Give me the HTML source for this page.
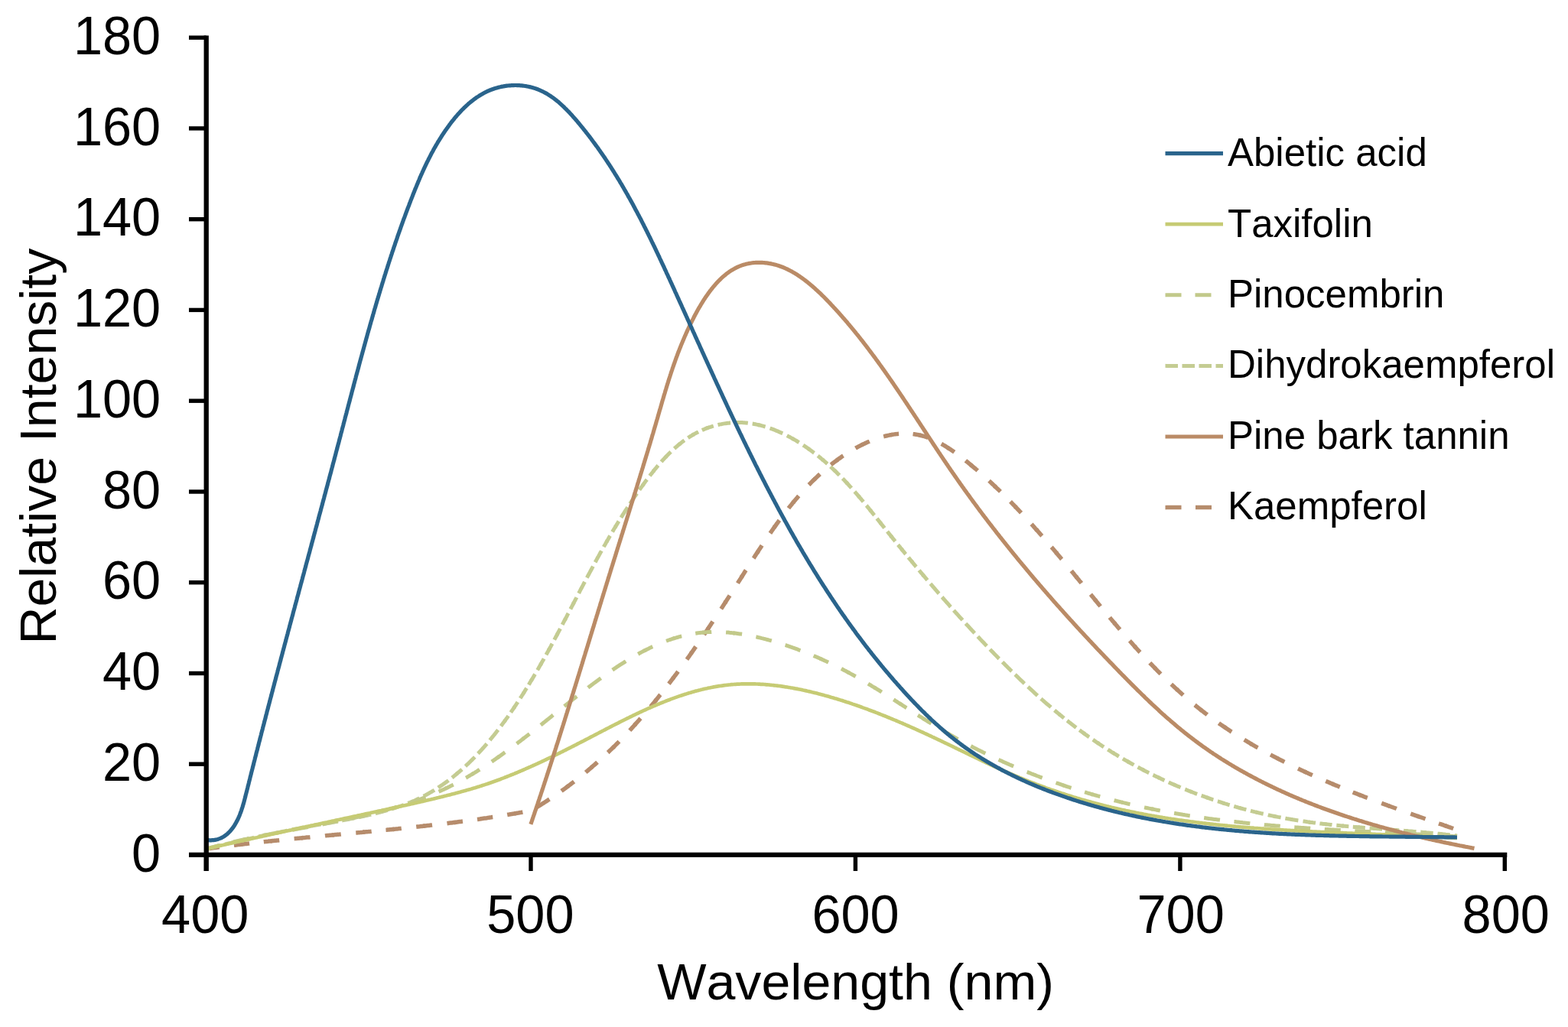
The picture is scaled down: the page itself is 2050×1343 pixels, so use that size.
<!DOCTYPE html>
<html><head><meta charset="utf-8"><title>Relative Intensity vs Wavelength</title>
<style>html,body{margin:0;padding:0;background:#fff;overflow:hidden}svg{display:block}text{font-kerning:none;font-feature-settings:"kern" 0}</style>
</head><body>
<svg width="2050" height="1343" viewBox="0 0 2050 1343"><rect x="0" y="0" width="2050" height="1343" fill="#ffffff"/>
<path d="M270.0,1110.0 271.5,1109.8 273.0,1109.6 274.5,1109.4 275.9,1109.2 277.4,1109.0 278.9,1108.8 280.4,1108.6 281.9,1108.4 283.4,1108.2 284.8,1108.0 286.3,1107.8 287.8,1107.6 289.3,1107.4 290.8,1107.2 292.3,1107.0 293.8,1106.8 295.3,1106.7 296.7,1106.5 298.2,1106.3 299.7,1106.1 301.2,1105.9 302.7,1105.7 304.2,1105.5 305.7,1105.4 307.1,1105.2 308.6,1105.0 310.1,1104.8 311.6,1104.6 313.1,1104.5 314.6,1104.3 316.1,1104.1 317.3,1104.0" style="fill:none;stroke:#b68c6c;stroke-width:5.5;stroke-linejoin:round;stroke-dasharray:20.50 19.20;stroke-dashoffset:3.50"/>
<path d="M314.9,1104.2 316.1,1104.1 317.6,1103.9 319.0,1103.8 320.5,1103.6 322.0,1103.4 323.5,1103.2 325.0,1103.1 326.5,1102.9 328.0,1102.7 329.5,1102.6 331.0,1102.4 332.4,1102.2 333.9,1102.0 335.4,1101.9 336.9,1101.7 338.4,1101.6 339.9,1101.4 341.4,1101.2 342.9,1101.1 344.4,1100.9 345.9,1100.7 347.3,1100.6 348.8,1100.4 350.3,1100.3 351.8,1100.1 353.3,1099.9 354.8,1099.8 356.0,1099.7" style="fill:none;stroke:#b68c6c;stroke-width:5.5;stroke-linejoin:round;stroke-dasharray:20.12 18.84;stroke-dashoffset:8.86"/>
<path d="M353.6,1099.9 354.8,1099.8 356.3,1099.6 357.8,1099.5 359.3,1099.3 360.8,1099.2 362.2,1099.0 363.7,1098.9 365.2,1098.7 366.7,1098.5 368.2,1098.4 369.7,1098.2 371.2,1098.1 372.7,1097.9 374.2,1097.8 375.7,1097.6 377.2,1097.5 378.7,1097.3 380.1,1097.2 381.6,1097.0 383.1,1096.9 384.6,1096.7 386.1,1096.6 387.6,1096.5 389.1,1096.3 390.6,1096.2 392.1,1096.0 393.6,1095.9 395.1,1095.7 396.3,1095.6" style="fill:none;stroke:#b68c6c;stroke-width:5.5;stroke-linejoin:round;stroke-dasharray:20.90 19.57;stroke-dashoffset:9.25"/>
<path d="M393.9,1095.8 395.1,1095.7 396.6,1095.6 398.0,1095.4 399.5,1095.3 401.0,1095.1 402.5,1095.0 404.0,1094.9 405.5,1094.7 407.0,1094.6 408.5,1094.4 410.0,1094.3 411.5,1094.2 413.0,1094.0 414.5,1093.9 416.0,1093.7 417.4,1093.6 418.9,1093.4 420.4,1093.3 421.9,1093.2 423.4,1093.0 424.9,1092.9 426.4,1092.7 427.9,1092.6 429.4,1092.5 430.9,1092.3 432.4,1092.2 433.9,1092.0 435.4,1091.9 436.6,1091.8" style="fill:none;stroke:#b68c6c;stroke-width:5.5;stroke-linejoin:round;stroke-dasharray:20.90 19.58;stroke-dashoffset:9.25"/>
<path d="M434.2,1092.0 435.4,1091.9 436.8,1091.8 438.3,1091.6 439.8,1091.5 441.3,1091.3 442.8,1091.2 444.3,1091.1 445.8,1090.9 447.3,1090.8 448.8,1090.7 450.3,1090.5 451.8,1090.4 453.3,1090.2 454.8,1090.1 456.3,1090.0 457.7,1089.8 459.2,1089.7 460.7,1089.5 462.2,1089.4 463.7,1089.3 465.2,1089.1 466.7,1089.0 468.2,1088.8 469.7,1088.7 471.2,1088.6 472.7,1088.4 474.2,1088.3 475.7,1088.1 476.8,1088.0" style="fill:none;stroke:#b68c6c;stroke-width:5.5;stroke-linejoin:round;stroke-dasharray:20.90 19.57;stroke-dashoffset:9.25"/>
<path d="M474.5,1088.2 475.7,1088.1 477.1,1088.0 478.6,1087.8 480.1,1087.7 481.6,1087.6 483.1,1087.4 484.6,1087.3 486.1,1087.1 487.6,1087.0 489.1,1086.9 490.6,1086.7 492.1,1086.6 493.6,1086.4 495.1,1086.3 496.5,1086.1 498.0,1086.0 499.5,1085.8 501.0,1085.7 502.5,1085.5 504.0,1085.4 505.5,1085.3 507.0,1085.1 508.5,1085.0 510.0,1084.8 511.5,1084.7 512.9,1084.5 514.4,1084.4 515.6,1084.2" style="fill:none;stroke:#b68c6c;stroke-width:5.5;stroke-linejoin:round;stroke-dasharray:20.12 18.85;stroke-dashoffset:8.86"/>
<path d="M513.2,1084.5 514.4,1084.4 515.9,1084.2 517.4,1084.1 518.9,1083.9 520.4,1083.8 521.9,1083.6 523.4,1083.5 524.9,1083.3 526.4,1083.1 527.9,1083.0 529.3,1082.8 530.8,1082.7 532.3,1082.5 533.8,1082.4 535.3,1082.2 536.8,1082.1 538.3,1081.9 539.8,1081.7 541.3,1081.6 542.8,1081.4 544.2,1081.3 545.7,1081.1 547.2,1080.9 548.7,1080.8 550.2,1080.6 551.7,1080.5 553.2,1080.3 554.7,1080.1 555.9,1080.0" style="fill:none;stroke:#b68c6c;stroke-width:5.5;stroke-linejoin:round;stroke-dasharray:20.89 19.56;stroke-dashoffset:9.24"/>
<path d="M553.5,1080.3 554.7,1080.1 556.2,1080.0 557.6,1079.8 559.1,1079.6 560.6,1079.5 562.1,1079.3 563.6,1079.1 565.1,1078.9 566.6,1078.8 568.1,1078.6 569.6,1078.4 571.0,1078.3 572.5,1078.1 574.0,1077.9 575.5,1077.7 577.0,1077.6 578.5,1077.4 580.0,1077.2 581.5,1077.0 582.9,1076.8 584.4,1076.7 585.9,1076.5 587.4,1076.3 588.9,1076.1 590.4,1075.9 591.9,1075.7 593.3,1075.5 594.8,1075.4 596.0,1075.2" style="fill:none;stroke:#b68c6c;stroke-width:5.5;stroke-linejoin:round;stroke-dasharray:20.88 19.56;stroke-dashoffset:9.24"/>
<path d="M593.6,1075.5 594.8,1075.4 596.3,1075.2 597.8,1075.0 599.3,1074.8 600.8,1074.6 602.3,1074.4 603.7,1074.2 605.2,1074.0 606.7,1073.8 608.2,1073.6 609.7,1073.4 611.2,1073.2 612.6,1073.0 614.1,1072.8 615.6,1072.6 617.1,1072.4 618.6,1072.2 620.1,1072.0 621.6,1071.8 623.0,1071.6 624.5,1071.4 626.0,1071.2 627.5,1071.0 629.0,1070.7 630.4,1070.5 631.9,1070.3 633.4,1070.1 634.9,1069.9 636.4,1069.7 637.9,1069.4 639.3,1069.2 640.8,1069.0 642.3,1068.8 643.8,1068.5 645.3,1068.3 646.7,1068.1 648.2,1067.9 649.7,1067.6 651.2,1067.4 652.7,1067.2 654.1,1066.9 655.6,1066.7 657.1,1066.4 658.6,1066.2 660.1,1066.0 661.5,1065.7 663.0,1065.5 664.5,1065.2 666.0,1065.0 667.4,1064.7 668.9,1064.5 670.4,1064.2 671.9,1064.0 673.4,1063.7 674.5,1063.5" style="fill:none;stroke:#b68c6c;stroke-width:5.5;stroke-linejoin:round;stroke-dasharray:20.50 19.20;stroke-dashoffset:9.05"/>
<path d="M672.2,1063.9 673.4,1063.7 674.8,1063.5 676.3,1063.2 677.8,1063.0 679.3,1062.7 680.7,1062.4 682.2,1062.2 683.7,1061.9 685.2,1061.7 686.6,1061.4 688.1,1061.1 689.6,1060.8 691.1,1060.6 692.5,1060.3 694.0,1060.0 695.4,1059.4 696.7,1058.6 698.0,1057.8 699.4,1057.0 700.7,1056.2 702.0,1055.5 703.3,1054.7 704.6,1053.9 705.9,1053.1 707.2,1052.3 708.5,1051.4 709.8,1050.6 711.1,1049.8 712.4,1049.0 713.7,1048.2 714.9,1047.4 716.2,1046.5 717.5,1045.7 718.8,1044.9 720.0,1044.0 721.3,1043.2 722.5,1042.3 723.8,1041.5 725.0,1040.6 726.3,1039.8 727.5,1038.9 728.8,1038.1 730.0,1037.2 731.3,1036.4 732.5,1035.5 733.7,1034.6 734.9,1033.7 736.2,1032.9 737.4,1032.0 738.6,1031.1 739.8,1030.2 741.0,1029.3 742.2,1028.4 743.2,1027.7" style="fill:none;stroke:#b68c6c;stroke-width:5.5;stroke-linejoin:round;stroke-dasharray:20.31 19.02;stroke-dashoffset:8.96"/>
<path d="M741.3,1029.1 742.2,1028.4 743.4,1027.5 744.6,1026.6 745.8,1025.7 747.0,1024.8 748.2,1023.9 749.4,1023.0 750.6,1022.1 751.8,1021.2 752.9,1020.3 754.1,1019.4 755.3,1018.4 756.4,1017.5 757.6,1016.6 758.8,1015.6 759.9,1014.7 761.1,1013.8 762.2,1012.8 763.4,1011.9 764.5,1010.9 765.7,1010.0 766.8,1009.0 768.0,1008.1 769.1,1007.1 770.2,1006.2 771.4,1005.2 772.5,1004.2 773.6,1003.3 774.5,1002.5" style="fill:none;stroke:#b68c6c;stroke-width:5.5;stroke-linejoin:round;stroke-dasharray:20.78 19.46;stroke-dashoffset:9.19"/>
<path d="M772.7,1004.1 773.6,1003.3 774.7,1002.3 775.8,1001.3 777.0,1000.4 778.1,999.4 779.2,998.4 780.3,997.4 781.4,996.4 782.5,995.4 783.6,994.4 784.7,993.4 785.8,992.5 786.9,991.5 788.0,990.5 789.1,989.4 790.1,988.4 791.2,987.4 792.3,986.4 793.4,985.4 794.4,984.4 795.5,983.4 796.6,982.3 797.6,981.3 798.7,980.3 799.8,979.3 800.8,978.2 801.9,977.2 802.7,976.4" style="fill:none;stroke:#b68c6c;stroke-width:5.5;stroke-linejoin:round;stroke-dasharray:19.86 18.60;stroke-dashoffset:8.73"/>
<path d="M801.0,978.0 801.9,977.2 802.9,976.2 804.0,975.1 805.0,974.1 806.1,973.0 807.1,972.0 808.2,971.0 809.2,969.9 810.2,968.9 811.3,967.8 812.3,966.7 813.3,965.7 814.3,964.6 815.4,963.6 816.4,962.5 817.4,961.4 818.4,960.4 819.4,959.3 820.5,958.2 821.5,957.1 822.5,956.1 823.5,955.0 824.5,953.9 825.5,952.8 826.5,951.7 827.5,950.6 828.5,949.5 829.5,948.4 830.5,947.3 831.3,946.5" style="fill:none;stroke:#b68c6c;stroke-width:5.5;stroke-linejoin:round;stroke-dasharray:21.34 19.99;stroke-dashoffset:9.47"/>
<path d="M829.6,948.2 830.5,947.3 831.4,946.2 832.4,945.1 833.4,944.0 834.4,942.9 835.4,941.8 836.3,940.7 837.3,939.6 838.3,938.5 839.3,937.4 840.2,936.3 841.2,935.2 842.2,934.0 843.1,932.9 844.1,931.8 845.1,930.7 846.0,929.5 847.0,928.4 847.9,927.3 848.9,926.1 849.8,925.0 850.8,923.9 851.7,922.7 852.7,921.6 853.6,920.4 854.6,919.3 855.5,918.2 856.4,917.0 857.4,915.9 858.1,914.9" style="fill:none;stroke:#b68c6c;stroke-width:5.5;stroke-linejoin:round;stroke-dasharray:21.39 20.03;stroke-dashoffset:9.50"/>
<path d="M856.6,916.8 857.4,915.9 858.3,914.7 859.2,913.6 860.2,912.4 861.1,911.2 862.0,910.1 862.9,908.9 863.9,907.8 864.8,906.6 865.7,905.4 866.6,904.3 867.5,903.1 868.5,901.9 869.4,900.8 870.3,899.6 871.2,898.4 872.1,897.2 873.0,896.1 873.9,894.9 874.8,893.7 875.7,892.5 876.6,891.3 877.5,890.1 878.4,888.9 879.3,887.8 880.2,886.6 881.0,885.6" style="fill:none;stroke:#b68c6c;stroke-width:5.5;stroke-linejoin:round;stroke-dasharray:19.19 17.97;stroke-dashoffset:8.40"/>
<path d="M879.5,887.5 880.2,886.6 881.1,885.4 882.0,884.2 882.9,883.0 883.8,881.8 884.7,880.6 885.6,879.4 886.5,878.2 887.4,877.0 888.2,875.8 889.1,874.6 890.0,873.4 890.9,872.2 891.8,871.0 892.6,869.7 893.5,868.5 894.4,867.3 895.3,866.1 896.1,864.9 897.0,863.7 897.9,862.5 898.8,861.2 899.6,860.0 900.5,858.8 901.4,857.6 902.2,856.3 903.1,855.1 903.9,853.9 904.6,852.9" style="fill:none;stroke:#b68c6c;stroke-width:5.5;stroke-linejoin:round;stroke-dasharray:20.85 19.53;stroke-dashoffset:9.23"/>
<path d="M903.3,854.9 903.9,853.9 904.8,852.7 905.7,851.4 906.5,850.2 907.4,849.0 908.2,847.7 909.1,846.5 910.0,845.3 910.8,844.0 911.7,842.8 912.5,841.5 913.4,840.3 914.2,839.1 915.1,837.8 915.9,836.6 916.8,835.3 917.6,834.1 918.5,832.8 919.3,831.6 920.2,830.3 921.0,829.1 921.9,827.8 922.7,826.6 923.5,825.3 924.4,824.1 925.2,822.8 926.1,821.6 926.7,820.6" style="fill:none;stroke:#b68c6c;stroke-width:5.5;stroke-linejoin:round;stroke-dasharray:20.22 18.93;stroke-dashoffset:8.91"/>
<path d="M925.4,822.6 926.1,821.6 926.9,820.3 927.7,819.1 928.6,817.8 929.4,816.5 930.2,815.3 931.1,814.0 931.9,812.8 932.8,811.5 933.6,810.2 934.4,809.0 935.3,807.7 936.1,806.4 936.9,805.2 937.8,803.9 938.6,802.6 939.4,801.4 940.2,800.1 941.1,798.8 941.9,797.6 942.7,796.3 943.6,795.0 944.4,793.7 945.2,792.5 946.0,791.2 946.9,789.9 947.7,788.6 948.5,787.4 949.2,786.4" style="fill:none;stroke:#b68c6c;stroke-width:5.5;stroke-linejoin:round;stroke-dasharray:21.13 19.79;stroke-dashoffset:9.37"/>
<path d="M947.9,788.4 948.5,787.4 949.3,786.1 950.2,784.8 951.0,783.5 951.8,782.3 952.6,781.0 953.5,779.7 954.3,778.4 955.1,777.1 955.9,775.9 956.8,774.6 957.6,773.3 958.4,772.0 959.2,770.7 960.1,769.4 960.9,768.2 961.7,766.9 962.5,765.6 963.3,764.3 964.2,763.0 965.0,761.7 965.8,760.4 966.6,759.2 967.5,757.9 968.3,756.6 969.1,755.3 969.9,754.0 970.6,753.0" style="fill:none;stroke:#b68c6c;stroke-width:5.5;stroke-linejoin:round;stroke-dasharray:20.47 19.17;stroke-dashoffset:9.04"/>
<path d="M969.3,755.0 969.9,754.0 970.7,752.7 971.6,751.4 972.4,750.1 973.2,748.8 974.0,747.5 974.8,746.3 975.7,745.0 976.5,743.7 977.3,742.4 978.1,741.1 979.0,739.8 979.8,738.5 980.6,737.2 981.4,735.9 982.3,734.6 983.1,733.4 983.9,732.1 984.7,730.8 985.6,729.5 986.4,728.2 987.2,726.9 988.1,725.6 988.9,724.3 989.7,723.1 990.6,721.8 991.2,720.8" style="fill:none;stroke:#b68c6c;stroke-width:5.5;stroke-linejoin:round;stroke-dasharray:19.76 18.51;stroke-dashoffset:8.68"/>
<path d="M989.9,722.8 990.6,721.8 991.4,720.5 992.2,719.2 993.1,717.9 993.9,716.7 994.8,715.4 995.6,714.1 996.4,712.8 997.3,711.6 998.1,710.3 999.0,709.0 999.8,707.7 1000.7,706.5 1001.5,705.2 1002.4,704.0 1003.2,702.7 1004.1,701.4 1005.0,700.2 1005.8,698.9 1006.7,697.7 1007.6,696.4 1008.4,695.2 1009.3,693.9 1010.2,692.7 1011.0,691.4 1011.9,690.2 1012.8,688.9 1013.5,687.9" style="fill:none;stroke:#b68c6c;stroke-width:5.5;stroke-linejoin:round;stroke-dasharray:20.49 19.19;stroke-dashoffset:9.04"/>
<path d="M1012.1,689.9 1012.8,688.9 1013.7,687.7 1014.6,686.5 1015.4,685.2 1016.3,684.0 1017.2,682.8 1018.1,681.5 1019.0,680.3 1019.9,679.1 1020.8,677.9 1021.7,676.7 1022.6,675.4 1023.5,674.2 1024.4,673.0 1025.4,671.8 1026.3,670.6 1027.2,669.4 1028.1,668.2 1029.0,667.0 1030.0,665.9 1030.9,664.7 1031.8,663.5 1032.8,662.3 1033.7,661.1 1034.7,660.0 1035.6,658.8 1036.6,657.6 1037.5,656.5 1038.3,655.6" style="fill:none;stroke:#b68c6c;stroke-width:5.5;stroke-linejoin:round;stroke-dasharray:21.07 19.73;stroke-dashoffset:9.34"/>
<path d="M1036.8,657.4 1037.5,656.5 1038.5,655.3 1039.4,654.2 1040.4,653.0 1041.4,651.9 1042.4,650.7 1043.3,649.6 1044.3,648.5 1045.3,647.3 1046.3,646.2 1047.3,645.1 1048.3,644.0 1049.3,642.9 1050.3,641.8 1051.3,640.7 1052.3,639.6 1053.3,638.5 1054.3,637.4 1055.4,636.3 1056.4,635.2 1057.4,634.1 1058.5,633.1 1059.5,632.0 1060.6,630.9 1061.6,629.9 1062.7,628.8 1063.7,627.8 1064.8,626.8 1065.7,625.9" style="fill:none;stroke:#b68c6c;stroke-width:5.5;stroke-linejoin:round;stroke-dasharray:20.84 19.52;stroke-dashoffset:9.22"/>
<path d="M1063.9,627.6 1064.8,626.8 1065.9,625.7 1066.9,624.7 1068.0,623.7 1069.1,622.6 1070.2,621.6 1071.3,620.6 1072.4,619.6 1073.5,618.6 1074.6,617.6 1075.7,616.6 1076.8,615.7 1078.0,614.7 1079.1,613.7 1080.2,612.8 1081.4,611.8 1082.5,610.9 1083.7,609.9 1084.8,609.0 1086.0,608.0 1087.2,607.1 1088.3,606.2 1089.5,605.3 1090.7,604.4 1091.9,603.5 1093.1,602.6 1094.3,601.7 1095.3,601.0" style="fill:none;stroke:#b68c6c;stroke-width:5.5;stroke-linejoin:round;stroke-dasharray:20.01 18.74;stroke-dashoffset:8.80"/>
<path d="M1093.3,602.4 1094.3,601.7 1095.5,600.8 1096.7,599.9 1097.9,599.1 1099.2,598.2 1100.4,597.3 1101.6,596.5 1102.9,595.7 1104.1,594.8 1105.4,594.0 1106.6,593.2 1107.9,592.4 1109.2,591.6 1110.4,590.8 1111.7,590.0 1113.0,589.2 1114.3,588.5 1115.6,587.7 1116.9,587.0 1118.2,586.3 1119.5,585.5 1120.8,584.8 1122.1,584.1 1123.4,583.4 1124.7,582.8 1126.0,582.1 1127.4,581.4 1128.4,580.9" style="fill:none;stroke:#b68c6c;stroke-width:5.5;stroke-linejoin:round;stroke-dasharray:20.05 18.78;stroke-dashoffset:8.82"/>
<path d="M1126.3,582.0 1127.4,581.4 1128.7,580.8 1130.0,580.2 1131.4,579.5 1132.7,578.9 1134.0,578.3 1135.4,577.7 1136.7,577.2 1138.1,576.6 1139.4,576.1 1140.8,575.5 1142.1,575.0 1143.5,574.5 1144.8,574.0 1146.2,573.6 1147.5,573.1 1148.9,572.7 1150.3,572.2 1151.6,571.8 1153.0,571.4 1154.4,571.0 1155.7,570.7 1157.1,570.3 1158.5,570.0 1159.8,569.7 1161.2,569.4 1162.6,569.1 1164.0,568.8 1165.3,568.6 1166.5,568.4" style="fill:none;stroke:#b68c6c;stroke-width:5.5;stroke-linejoin:round;stroke-dasharray:20.76 19.45;stroke-dashoffset:9.18"/>
<path d="M1164.1,568.8 1165.3,568.6 1166.7,568.3 1168.1,568.1 1169.4,567.9 1170.8,567.7 1172.2,567.6 1173.6,567.4 1174.9,567.3 1176.3,567.2 1177.7,567.1 1179.0,567.0 1180.4,567.0 1181.8,566.9 1183.1,566.9 1184.5,566.9 1185.9,567.0 1187.2,567.0 1188.6,567.1 1189.9,567.2 1191.3,567.3 1192.6,567.4 1194.0,567.6 1195.3,567.8 1196.7,568.0 1198.0,568.2 1199.4,568.4 1200.7,568.7 1202.1,569.0 1203.4,569.3 1204.6,569.6" style="fill:none;stroke:#b68c6c;stroke-width:5.5;stroke-linejoin:round;stroke-dasharray:19.81 18.55;stroke-dashoffset:8.70"/>
<path d="M1202.2,569.0 1203.4,569.3 1204.7,569.6 1206.1,570.0 1207.4,570.3 1208.7,570.7 1210.0,571.2 1211.4,571.6 1212.7,572.1 1214.0,572.5 1215.3,573.1 1216.6,573.6 1217.9,574.1 1219.2,574.7 1220.5,575.2 1221.8,575.8 1223.1,576.4 1224.4,577.1 1225.7,577.7 1226.9,578.4 1228.2,579.0 1229.5,579.7 1230.8,580.4 1232.1,581.2 1233.3,581.9 1234.6,582.6 1235.9,583.4 1237.1,584.2 1238.4,585.0 1239.6,585.8 1240.6,586.4" style="fill:none;stroke:#b68c6c;stroke-width:5.5;stroke-linejoin:round;stroke-dasharray:20.65 19.34;stroke-dashoffset:9.12"/>
<path d="M1238.6,585.1 1239.6,585.8 1240.9,586.6 1242.1,587.4 1243.4,588.2 1244.6,589.1 1245.9,589.9 1247.1,590.8 1248.3,591.7 1249.6,592.5 1250.8,593.4 1252.0,594.3 1253.2,595.3 1254.5,596.2 1255.7,597.1 1256.9,598.0 1258.1,599.0 1259.3,599.9 1260.5,600.8 1261.7,601.8 1262.9,602.8 1264.1,603.7 1265.3,604.7 1266.5,605.7 1267.7,606.6 1268.9,607.6 1270.0,608.6 1271.0,609.4" style="fill:none;stroke:#b68c6c;stroke-width:5.5;stroke-linejoin:round;stroke-dasharray:19.65 18.41;stroke-dashoffset:8.63"/>
<path d="M1269.1,607.8 1270.0,608.6 1271.2,609.6 1272.4,610.6 1273.6,611.6 1274.7,612.5 1275.9,613.5 1277.1,614.5 1278.2,615.5 1279.4,616.5 1280.5,617.5 1281.7,618.6 1282.8,619.6 1284.0,620.6 1285.1,621.6 1286.3,622.6 1287.4,623.6 1288.5,624.7 1289.7,625.7 1290.8,626.7 1291.9,627.7 1293.1,628.8 1294.2,629.8 1295.3,630.8 1296.4,631.9 1297.5,632.9 1298.7,634.0 1299.8,635.0 1300.9,636.1 1301.7,636.9" style="fill:none;stroke:#b68c6c;stroke-width:5.5;stroke-linejoin:round;stroke-dasharray:21.32 19.97;stroke-dashoffset:9.46"/>
<path d="M1300.0,635.2 1300.9,636.1 1302.0,637.1 1303.1,638.2 1304.2,639.2 1305.3,640.3 1306.4,641.3 1307.5,642.4 1308.6,643.5 1309.6,644.5 1310.7,645.6 1311.8,646.7 1312.9,647.8 1314.0,648.8 1315.0,649.9 1316.1,651.0 1317.2,652.1 1318.3,653.1 1319.3,654.2 1320.4,655.3 1321.5,656.4 1322.5,657.5 1323.6,658.6 1324.6,659.7 1325.7,660.8 1326.8,661.9 1327.8,663.0 1328.6,663.8" style="fill:none;stroke:#b68c6c;stroke-width:5.5;stroke-linejoin:round;stroke-dasharray:19.66 18.41;stroke-dashoffset:8.63"/>
<path d="M1327.0,662.1 1327.8,663.0 1328.9,664.1 1329.9,665.2 1331.0,666.3 1332.0,667.4 1333.0,668.5 1334.1,669.6 1335.1,670.7 1336.2,671.8 1337.2,672.9 1338.2,674.1 1339.3,675.2 1340.3,676.3 1341.3,677.4 1342.3,678.5 1343.4,679.7 1344.4,680.8 1345.4,681.9 1346.4,683.0 1347.5,684.2 1348.5,685.3 1349.5,686.4 1350.5,687.5 1351.5,688.7 1352.5,689.8 1353.5,691.0 1354.5,692.1 1355.5,693.2 1356.3,694.1" style="fill:none;stroke:#b68c6c;stroke-width:5.5;stroke-linejoin:round;stroke-dasharray:21.20 19.85;stroke-dashoffset:9.40"/>
<path d="M1354.8,692.3 1355.5,693.2 1356.6,694.4 1357.6,695.5 1358.6,696.7 1359.6,697.8 1360.6,698.9 1361.6,700.1 1362.6,701.2 1363.6,702.4 1364.5,703.5 1365.5,704.7 1366.5,705.8 1367.5,707.0 1368.5,708.1 1369.5,709.3 1370.5,710.4 1371.5,711.6 1372.5,712.7 1373.4,713.9 1374.4,715.1 1375.4,716.2 1376.4,717.4 1377.4,718.5 1378.4,719.7 1379.3,720.8 1380.3,722.0 1381.3,723.2 1382.1,724.1" style="fill:none;stroke:#b68c6c;stroke-width:5.5;stroke-linejoin:round;stroke-dasharray:20.39 19.10;stroke-dashoffset:9.00"/>
<path d="M1380.5,722.3 1381.3,723.2 1382.3,724.3 1383.2,725.5 1384.2,726.7 1385.2,727.8 1386.2,729.0 1387.1,730.2 1388.1,731.3 1389.1,732.5 1390.0,733.7 1391.0,734.8 1392.0,736.0 1392.9,737.2 1393.9,738.3 1394.9,739.5 1395.8,740.7 1396.8,741.8 1397.8,743.0 1398.7,744.2 1399.7,745.3 1400.7,746.5 1401.6,747.7 1402.6,748.8 1403.6,750.0 1404.5,751.2 1405.5,752.4 1406.4,753.5 1407.4,754.7 1408.2,755.6" style="fill:none;stroke:#b68c6c;stroke-width:5.5;stroke-linejoin:round;stroke-dasharray:21.14 19.80;stroke-dashoffset:9.37"/>
<path d="M1406.6,753.8 1407.4,754.7 1408.4,755.9 1409.3,757.0 1410.3,758.2 1411.2,759.4 1412.2,760.6 1413.2,761.7 1414.1,762.9 1415.1,764.1 1416.0,765.2 1417.0,766.4 1417.9,767.6 1418.9,768.8 1419.9,769.9 1420.8,771.1 1421.8,772.3 1422.7,773.4 1423.7,774.6 1424.6,775.8 1425.6,776.9 1426.6,778.1 1427.5,779.3 1428.5,780.4 1429.4,781.6 1430.4,782.8 1431.3,783.9 1432.3,785.1 1433.1,786.0" style="fill:none;stroke:#b68c6c;stroke-width:5.5;stroke-linejoin:round;stroke-dasharray:20.30 19.01;stroke-dashoffset:8.95"/>
<path d="M1431.5,784.2 1432.3,785.1 1433.3,786.3 1434.2,787.4 1435.2,788.6 1436.1,789.8 1437.1,790.9 1438.1,792.1 1439.0,793.3 1440.0,794.4 1440.9,795.6 1441.9,796.7 1442.9,797.9 1443.8,799.1 1444.8,800.2 1445.7,801.4 1446.7,802.5 1447.7,803.7 1448.6,804.8 1449.6,806.0 1450.6,807.1 1451.5,808.3 1452.5,809.5 1453.5,810.6 1454.4,811.8 1455.4,812.9 1456.4,814.0 1457.3,815.2 1458.1,816.1" style="fill:none;stroke:#b68c6c;stroke-width:5.5;stroke-linejoin:round;stroke-dasharray:20.21 18.93;stroke-dashoffset:8.90"/>
<path d="M1456.6,814.3 1457.3,815.2 1458.3,816.3 1459.3,817.5 1460.2,818.6 1461.2,819.8 1462.2,820.9 1463.2,822.1 1464.1,823.2 1465.1,824.3 1466.1,825.5 1467.1,826.6 1468.1,827.7 1469.0,828.9 1470.0,830.0 1471.0,831.1 1472.0,832.3 1473.0,833.4 1473.9,834.5 1474.9,835.6 1475.9,836.8 1476.9,837.9 1477.9,839.0 1478.9,840.1 1479.9,841.2 1480.9,842.4 1481.9,843.5 1482.8,844.6 1483.8,845.7 1484.6,846.6" style="fill:none;stroke:#b68c6c;stroke-width:5.5;stroke-linejoin:round;stroke-dasharray:20.87 19.54;stroke-dashoffset:9.23"/>
<path d="M1483.0,844.8 1483.8,845.7 1484.8,846.8 1485.8,847.9 1486.8,849.0 1487.8,850.1 1488.8,851.2 1489.8,852.3 1490.9,853.4 1491.9,854.5 1492.9,855.6 1493.9,856.7 1494.9,857.8 1495.9,858.9 1496.9,860.0 1497.9,861.1 1498.9,862.2 1500.0,863.3 1501.0,864.3 1502.0,865.4 1503.0,866.5 1504.0,867.6 1505.1,868.6 1506.1,869.7 1507.1,870.8 1508.2,871.8 1509.2,872.9 1510.2,874.0 1511.1,874.8" style="fill:none;stroke:#b68c6c;stroke-width:5.5;stroke-linejoin:round;stroke-dasharray:19.97 18.71;stroke-dashoffset:8.79"/>
<path d="M1509.4,873.1 1510.2,874.0 1511.3,875.0 1512.3,876.1 1513.3,877.2 1514.4,878.2 1515.4,879.3 1516.5,880.3 1517.5,881.4 1518.6,882.4 1519.6,883.5 1520.7,884.5 1521.7,885.5 1522.8,886.6 1523.8,887.6 1524.9,888.6 1526.0,889.7 1527.0,890.7 1528.1,891.7 1529.2,892.7 1530.2,893.8 1531.3,894.8 1532.4,895.8 1533.5,896.8 1534.6,897.8 1535.6,898.8 1536.7,899.8 1537.8,900.8 1538.9,901.8 1539.8,902.6" style="fill:none;stroke:#b68c6c;stroke-width:5.5;stroke-linejoin:round;stroke-dasharray:20.64 19.33;stroke-dashoffset:9.12"/>
<path d="M1538.0,901.0 1538.9,901.8 1540.0,902.8 1541.1,903.8 1542.2,904.8 1543.3,905.8 1544.4,906.8 1545.5,907.8 1546.6,908.7 1547.7,909.7 1548.8,910.7 1549.9,911.7 1551.0,912.6 1552.2,913.6 1553.3,914.6 1554.4,915.5 1555.5,916.5 1556.7,917.4 1557.8,918.4 1558.9,919.3 1560.1,920.3 1561.2,921.2 1562.4,922.1 1563.5,923.1 1564.6,924.0 1565.8,924.9 1566.9,925.9 1568.1,926.8 1569.3,927.7 1570.4,928.6 1571.4,929.4" style="fill:none;stroke:#b68c6c;stroke-width:5.5;stroke-linejoin:round;stroke-dasharray:21.37 20.01;stroke-dashoffset:9.48"/>
<path d="M1569.5,927.9 1570.4,928.6 1571.6,929.5 1572.8,930.4 1573.9,931.3 1575.1,932.2 1576.3,933.1 1577.5,934.0 1578.6,934.9 1579.8,935.8 1581.0,936.7 1582.2,937.6 1583.4,938.5 1584.6,939.3 1585.8,940.2 1587.0,941.1 1588.2,942.0 1589.4,942.8 1590.6,943.7 1591.8,944.5 1593.0,945.4 1594.2,946.3 1595.5,947.1 1596.7,948.0 1597.9,948.8 1599.1,949.6 1600.4,950.5 1601.6,951.3 1602.6,952.0" style="fill:none;stroke:#b68c6c;stroke-width:5.5;stroke-linejoin:round;stroke-dasharray:19.91 18.65;stroke-dashoffset:8.76"/>
<path d="M1600.6,950.6 1601.6,951.3 1602.8,952.1 1604.1,953.0 1605.3,953.8 1606.5,954.6 1607.8,955.4 1609.0,956.3 1610.3,957.1 1611.5,957.9 1612.8,958.7 1614.0,959.5 1615.3,960.3 1616.6,961.1 1617.8,961.9 1619.1,962.7 1620.4,963.5 1621.6,964.3 1622.9,965.1 1624.2,965.8 1625.4,966.6 1626.7,967.4 1628.0,968.2 1629.3,968.9 1630.6,969.7 1631.8,970.5 1633.1,971.2 1634.4,972.0 1635.7,972.8 1636.7,973.4" style="fill:none;stroke:#b68c6c;stroke-width:5.5;stroke-linejoin:round;stroke-dasharray:20.81 19.49;stroke-dashoffset:9.21"/>
<path d="M1634.7,972.2 1635.7,972.8 1637.0,973.5 1638.3,974.3 1639.6,975.0 1640.9,975.8 1642.2,976.5 1643.5,977.3 1644.8,978.0 1646.1,978.7 1647.4,979.5 1648.7,980.2 1650.0,980.9 1651.4,981.7 1652.7,982.4 1654.0,983.1 1655.3,983.8 1656.6,984.6 1658.0,985.3 1659.3,986.0 1660.6,986.7 1661.9,987.4 1663.3,988.1 1664.6,988.8 1665.9,989.5 1667.3,990.2 1668.6,990.9 1669.9,991.6 1671.0,992.2" style="fill:none;stroke:#b68c6c;stroke-width:5.5;stroke-linejoin:round;stroke-dasharray:20.18 18.90;stroke-dashoffset:8.89"/>
<path d="M1668.9,991.1 1669.9,991.6 1671.3,992.3 1672.6,993.0 1674.0,993.7 1675.3,994.4 1676.7,995.0 1678.0,995.7 1679.4,996.4 1680.7,997.1 1682.1,997.8 1683.4,998.4 1684.8,999.1 1686.1,999.8 1687.5,1000.4 1688.8,1001.1 1690.2,1001.8 1691.6,1002.4 1692.9,1003.1 1694.3,1003.7 1695.7,1004.4 1697.0,1005.0 1698.4,1005.7 1699.8,1006.3 1701.1,1007.0 1702.5,1007.6 1703.9,1008.3 1705.2,1008.9 1706.6,1009.5 1707.7,1010.0" style="fill:none;stroke:#b68c6c;stroke-width:5.5;stroke-linejoin:round;stroke-dasharray:21.08 19.74;stroke-dashoffset:9.34"/>
<path d="M1705.5,1009.0 1706.6,1009.5 1708.0,1010.2 1709.4,1010.8 1710.7,1011.4 1712.1,1012.1 1713.5,1012.7 1714.9,1013.3 1716.3,1013.9 1717.7,1014.5 1719.0,1015.2 1720.4,1015.8 1721.8,1016.4 1723.2,1017.0 1724.6,1017.6 1726.0,1018.2 1727.4,1018.8 1728.8,1019.4 1730.2,1020.1 1731.5,1020.7 1732.9,1021.3 1734.3,1021.9 1735.7,1022.4 1737.1,1023.0 1738.5,1023.6 1739.9,1024.2 1741.3,1024.8 1742.7,1025.4 1743.8,1025.9" style="fill:none;stroke:#b68c6c;stroke-width:5.5;stroke-linejoin:round;stroke-dasharray:20.37 19.07;stroke-dashoffset:8.98"/>
<path d="M1741.6,1024.9 1742.7,1025.4 1744.1,1026.0 1745.5,1026.6 1746.9,1027.2 1748.3,1027.7 1749.7,1028.3 1751.1,1028.9 1752.5,1029.5 1753.9,1030.1 1755.3,1030.6 1756.7,1031.2 1758.1,1031.8 1759.6,1032.3 1761.0,1032.9 1762.4,1033.5 1763.8,1034.0 1765.2,1034.6 1766.6,1035.2 1768.0,1035.7 1769.4,1036.3 1770.8,1036.8 1772.2,1037.4 1773.6,1037.9 1775.1,1038.5 1776.5,1039.1 1777.9,1039.6 1779.0,1040.0" style="fill:none;stroke:#b68c6c;stroke-width:5.5;stroke-linejoin:round;stroke-dasharray:19.58 18.34;stroke-dashoffset:8.59"/>
<path d="M1776.8,1039.2 1777.9,1039.6 1779.3,1040.2 1780.7,1040.7 1782.1,1041.2 1783.5,1041.8 1784.9,1042.3 1786.4,1042.9 1787.8,1043.4 1789.2,1044.0 1790.6,1044.5 1792.0,1045.0 1793.4,1045.6 1794.8,1046.1 1796.3,1046.6 1797.7,1047.2 1799.1,1047.7 1800.5,1048.2 1801.9,1048.7 1803.3,1049.3 1804.7,1049.8 1806.2,1050.3 1807.6,1050.8 1809.0,1051.4 1810.4,1051.9 1811.8,1052.4 1813.2,1052.9 1814.7,1053.5 1816.1,1054.0 1817.2,1054.4" style="fill:none;stroke:#b68c6c;stroke-width:5.5;stroke-linejoin:round;stroke-dasharray:21.07 19.73;stroke-dashoffset:9.33"/>
<path d="M1814.9,1053.6 1816.1,1054.0 1817.5,1054.5 1818.9,1055.0 1820.3,1055.5 1821.7,1056.0 1823.1,1056.5 1824.6,1057.0 1826.0,1057.6 1827.4,1058.1 1828.8,1058.6 1830.2,1059.1 1831.6,1059.6 1833.0,1060.1 1834.4,1060.6 1835.8,1061.1 1837.3,1061.6 1838.7,1062.1 1840.1,1062.6 1841.5,1063.1 1842.9,1063.6 1844.3,1064.1 1845.7,1064.6 1847.1,1065.1 1848.5,1065.6 1849.9,1066.1 1851.3,1066.6 1852.7,1067.1 1854.2,1067.6 1855.3,1068.0" style="fill:none;stroke:#b68c6c;stroke-width:5.5;stroke-linejoin:round;stroke-dasharray:20.88 19.56;stroke-dashoffset:9.24"/>
<path d="M1853.0,1067.2 1854.2,1067.6 1855.6,1068.1 1857.0,1068.5 1858.4,1069.0 1859.8,1069.5 1861.2,1070.0 1862.6,1070.5 1864.0,1071.0 1865.4,1071.5 1866.8,1072.0 1868.2,1072.4 1869.6,1072.9 1871.0,1073.4 1872.4,1073.9 1873.8,1074.4 1875.1,1074.9 1876.5,1075.3 1877.9,1075.8 1879.3,1076.3 1880.7,1076.8 1882.1,1077.3 1883.5,1077.7 1884.9,1078.2 1886.3,1078.7 1887.7,1079.2 1889.0,1079.7 1890.4,1080.1 1891.6,1080.5" style="fill:none;stroke:#b68c6c;stroke-width:5.5;stroke-linejoin:round;stroke-dasharray:19.83 18.57;stroke-dashoffset:8.71"/>
<path d="M1889.3,1079.7 1890.4,1080.1 1891.8,1080.6 1893.2,1081.1 1894.6,1081.6 1896.0,1082.0 1897.3,1082.5 1898.7,1083.0 1900.1,1083.5 1901.5,1083.9" style="fill:none;stroke:#b68c6c;stroke-width:5.5;stroke-linejoin:round;stroke-dasharray:20.50 19.20;stroke-dashoffset:9.05"/>
<path d="M270.0,1110.0 271.5,1109.6 273.0,1109.3 274.4,1108.9 275.9,1108.5 277.4,1108.1 278.9,1107.8 280.3,1107.4 281.8,1107.0 283.3,1106.7 284.7,1106.3 286.2,1106.0 287.7,1105.6 289.1,1105.2 290.6,1104.9 292.1,1104.5 293.5,1104.2 295.0,1103.8 296.5,1103.5 297.9,1103.1 299.4,1102.8 300.8,1102.4 302.3,1102.1 303.8,1101.7 305.2,1101.4 306.7,1101.1 308.1,1100.7 309.6,1100.4 311.0,1100.0 312.5,1099.7 313.9,1099.4 315.4,1099.0 316.9,1098.7 318.3,1098.4 319.8,1098.0 321.2,1097.7 322.7,1097.4 324.1,1097.1 325.6,1096.7 327.0,1096.4 328.5,1096.1 329.9,1095.8 331.4,1095.4 332.8,1095.1 334.3,1094.8 335.7,1094.5 337.2,1094.2 338.6,1093.9 340.1,1093.5 341.5,1093.2 343.0,1092.9 344.4,1092.6 345.9,1092.3 347.3,1092.0 348.8,1091.7 350.2,1091.4 351.7,1091.1 353.1,1090.8 354.6,1090.5 356.0,1090.2 357.5,1089.9 358.9,1089.6 360.4,1089.3 361.9,1089.0 363.3,1088.7 364.8,1088.4 366.2,1088.1 367.7,1087.8 369.1,1087.5 370.6,1087.2 372.0,1086.9 373.5,1086.6 374.9,1086.3 376.4,1086.0 377.9,1085.7 379.3,1085.5 380.8,1085.2 382.2,1084.9 383.7,1084.6 385.2,1084.3 386.6,1084.0 388.1,1083.7 389.6,1083.5 391.0,1083.2 392.5,1082.9 394.0,1082.6 395.4,1082.3 396.9,1082.1 398.4,1081.8 399.8,1081.5 401.3,1081.2 402.8,1081.0 404.3,1080.7 405.7,1080.4 407.2,1080.1 408.7,1079.9 410.2,1079.6 411.6,1079.3 413.1,1079.0 414.6,1078.8 416.1,1078.5 417.6,1078.2 419.1,1078.0 420.5,1077.7 422.0,1077.4 423.5,1077.2 425.0,1076.9 426.5,1076.6 428.0,1076.4 429.5,1076.1 431.0,1075.8 432.5,1075.6 434.0,1075.3 435.5,1075.0 437.0,1074.8 438.5,1074.5 440.0,1074.2 441.5,1074.0 443.0,1073.7 444.5,1073.4 446.0,1073.1 447.5,1072.9 449.0,1072.6 450.5,1072.3 452.0,1072.0 453.5,1071.7 455.0,1071.5 456.5,1071.2 458.0,1070.9 459.5,1070.6 461.0,1070.3 462.4,1070.0 463.9,1069.7 465.4,1069.4 466.9,1069.1 468.4,1068.8 469.9,1068.5 471.4,1068.2 472.9,1067.9 474.4,1067.5 475.9,1067.2 477.4,1066.9 478.8,1066.6 480.3,1066.2 481.8,1065.9 483.3,1065.6 484.8,1065.2 486.2,1064.9 487.7,1064.5 489.2,1064.2 490.7,1063.8 492.1,1063.4 493.6,1063.1 495.1,1062.7 496.5,1062.3 498.0,1061.9 499.4,1061.5 500.9,1061.1 502.4,1060.7 503.8,1060.3 505.2,1059.9 506.7,1059.5 508.1,1059.1 509.6,1058.7 511.0,1058.2 512.4,1057.8 513.9,1057.3 515.3,1056.9 516.7,1056.4 518.1,1056.0 519.6,1055.5 521.0,1055.0 522.4,1054.5 523.8,1054.0 525.2,1053.5 526.6,1053.0 528.0,1052.5 529.4,1052.0 530.7,1051.5 532.1,1050.9 533.5,1050.4 534.9,1049.8 536.2,1049.3 537.6,1048.7 539.0,1048.1 540.3,1047.6 541.7,1047.0 543.0,1046.4 544.4,1045.7 545.7,1045.1 547.0,1044.5 548.4,1043.9 549.7,1043.2 551.0,1042.6 552.3,1041.9 553.6,1041.2 554.9,1040.6 556.2,1039.9 557.5,1039.2 558.8,1038.5 560.1,1037.8 561.3,1037.0 562.6,1036.3 563.9,1035.6 565.1,1034.8 566.4,1034.1 567.7,1033.3 568.9,1032.5 570.1,1031.7 571.4,1031.0 572.6,1030.2 573.8,1029.3 575.1,1028.5 576.3,1027.7 577.5,1026.9 578.7,1026.1 579.9,1025.2 581.1,1024.4 582.3,1023.5 583.5,1022.6 584.7,1021.8 585.9,1020.9 587.0,1020.0 588.2,1019.1 589.4,1018.2 590.6,1017.3 591.7,1016.4 592.9,1015.5 594.0,1014.5 595.2,1013.6 596.3,1012.6 597.4,1011.7 598.4,1010.9" style="fill:none;stroke:#c4cc92;stroke-width:5;stroke-linejoin:round;stroke-dasharray:16.50 5.80;stroke-dashoffset:19.56"/>
<path d="M596.5,1012.5 597.4,1011.7 598.6,1010.7 599.7,1009.8 600.8,1008.8 601.9,1007.8 603.1,1006.9 604.2,1005.9 605.3,1004.9 606.4,1003.9 607.5,1002.9 608.6,1001.9 609.7,1000.8 610.7,999.8 611.8,998.8 612.9,997.8 614.0,996.7 615.0,995.7 616.1,994.6 617.2,993.6 618.2,992.5 619.3,991.4 620.3,990.4 621.4,989.3 622.4,988.2 623.4,987.1 624.5,986.0 625.5,984.9 626.5,983.8 627.5,982.7 628.6,981.6 629.6,980.5 630.6,979.3 631.6,978.2 632.6,977.1 633.6,976.0 634.6,974.8 635.6,973.7 636.6,972.5 637.5,971.4 638.5,970.2 639.5,969.1 640.5,967.9 641.4,966.7 642.4,965.5 643.3,964.4 644.3,963.2 645.3,962.0 646.2,960.8 647.2,959.6 648.1,958.4 649.0,957.2 650.0,956.0 650.9,954.8 651.8,953.6 652.8,952.4 653.7,951.2 654.6,950.0 655.5,948.8 656.4,947.5 657.3,946.3 658.2,945.1 659.1,943.9 660.0,942.6 660.7,941.6" style="fill:none;stroke:#c4cc92;stroke-width:5;stroke-linejoin:round;stroke-dasharray:17.29 6.08;stroke-dashoffset:7.44"/>
<path d="M659.3,943.6 660.0,942.6 660.9,941.4 661.8,940.1 662.7,938.9 663.6,937.7 664.5,936.4 665.3,935.2 666.2,933.9 667.1,932.7 668.0,931.4 668.8,930.2 669.7,928.9 670.6,927.6 671.4,926.4 672.3,925.1 672.9,924.1" style="fill:none;stroke:#c4cc92;stroke-width:5;stroke-linejoin:round;stroke-dasharray:15.81 5.56;stroke-dashoffset:6.70"/>
<path d="M671.6,926.1 672.3,925.1 673.1,923.8 674.0,922.6 674.8,921.3 675.6,920.0 676.5,918.8 677.3,917.5 678.2,916.2 679.0,914.9 679.8,913.7 680.6,912.4 681.5,911.1 682.3,909.8 683.1,908.5 683.9,907.3 684.7,906.0 685.3,905.0" style="fill:none;stroke:#c4cc92;stroke-width:5;stroke-linejoin:round;stroke-dasharray:16.88 5.93;stroke-dashoffset:7.24"/>
<path d="M684.1,907.0 684.7,906.0 685.5,904.7 686.3,903.4 687.1,902.1 687.9,900.8 688.7,899.6 689.5,898.3 690.3,897.0 691.1,895.7 691.9,894.4 692.7,893.1 693.4,891.8 694.2,890.5 695.0,889.2 695.6,888.2" style="fill:none;stroke:#c4cc92;stroke-width:5;stroke-linejoin:round;stroke-dasharray:14.53 5.11;stroke-dashoffset:6.07"/>
<path d="M694.4,890.3 695.0,889.2 695.8,888.0 696.5,886.7 697.3,885.4 698.1,884.1 698.8,882.8 699.6,881.5 700.4,880.2 701.1,878.9 701.9,877.6 702.6,876.3 703.4,875.0 704.1,873.7 704.9,872.4 705.6,871.1 706.4,869.8 707.1,868.5 707.7,867.5" style="fill:none;stroke:#c4cc92;stroke-width:5;stroke-linejoin:round;stroke-dasharray:17.77 6.24;stroke-dashoffset:7.68"/>
<path d="M706.5,869.6 707.1,868.5 707.8,867.2 708.6,865.9 709.3,864.6 710.1,863.3 710.8,862.0 711.5,860.7 712.2,859.4 713.0,858.1 713.7,856.8 714.4,855.5 715.1,854.2 715.9,852.9 716.6,851.6 717.3,850.3 718.0,849.0 718.6,847.9" style="fill:none;stroke:#c4cc92;stroke-width:5;stroke-linejoin:round;stroke-dasharray:16.56 5.82;stroke-dashoffset:7.08"/>
<path d="M717.4,850.0 718.0,849.0 718.7,847.7 719.5,846.4 720.2,845.1 720.9,843.7 721.6,842.4 722.3,841.1 723.0,839.8 723.7,838.5 724.4,837.2 725.1,835.9 725.8,834.6 726.5,833.3 727.2,832.0 727.9,830.7 728.6,829.4 729.2,828.3" style="fill:none;stroke:#c4cc92;stroke-width:5;stroke-linejoin:round;stroke-dasharray:16.50 5.80;stroke-dashoffset:7.05"/>
<path d="M728.1,830.4 728.6,829.4 729.3,828.0 730.0,826.7 730.7,825.4 731.4,824.1 732.1,822.8 732.8,821.5 733.5,820.2 734.2,818.9 734.9,817.6 735.6,816.2 736.2,814.9 736.9,813.6 737.6,812.3 738.3,811.0 739.0,809.7 739.6,808.6" style="fill:none;stroke:#c4cc92;stroke-width:5;stroke-linejoin:round;stroke-dasharray:16.45 5.78;stroke-dashoffset:7.03"/>
<path d="M738.4,810.8 739.0,809.7 739.7,808.4 740.4,807.1 741.1,805.8 741.7,804.4 742.4,803.1 743.1,801.8 743.8,800.5 744.5,799.2 745.2,797.9 745.8,796.6 746.5,795.3 747.2,793.9 747.9,792.6 748.6,791.3 749.3,790.0 749.9,788.7 750.5,787.6" style="fill:none;stroke:#c4cc92;stroke-width:5;stroke-linejoin:round;stroke-dasharray:17.52 6.16;stroke-dashoffset:7.56"/>
<path d="M749.4,789.8 749.9,788.7 750.6,787.4 751.3,786.1 752.0,784.8 752.7,783.4 753.4,782.1 754.0,780.8 754.7,779.5 755.4,778.2 756.1,776.9 756.8,775.6 757.5,774.3 758.1,773.0 758.8,771.6 759.5,770.3 760.2,769.0 760.9,767.7 761.6,766.4 762.3,765.1 763.0,763.8 763.6,762.5 764.3,761.2 765.0,759.9 765.7,758.5 766.4,757.2 767.1,755.9 767.8,754.6 768.5,753.3 769.2,752.0 769.9,750.7 770.6,749.4 771.3,748.1 772.0,746.8 772.7,745.5 773.4,744.2 774.1,742.9 774.8,741.6 775.5,740.3 776.2,738.9 776.9,737.6 777.6,736.3 778.3,735.0 779.0,733.7 779.7,732.4 780.4,731.1 781.1,729.8 781.8,728.5 782.6,727.2 783.3,725.9 784.0,724.6 784.7,723.3 785.4,722.0 786.2,720.7 786.9,719.4 787.6,718.1 788.3,716.8 789.1,715.5 789.8,714.2 790.5,713.0 791.3,711.7 792.0,710.4 792.7,709.1 793.5,707.8 794.1,706.7" style="fill:none;stroke:#c4cc92;stroke-width:5;stroke-linejoin:round;stroke-dasharray:17.00 5.98;stroke-dashoffset:7.30"/>
<path d="M792.9,708.8 793.5,707.8 794.2,706.5 795.0,705.2 795.7,703.9 796.5,702.6 797.2,701.3 798.0,700.0 798.7,698.7 799.5,697.5 800.2,696.2 801.0,694.9 801.8,693.6 802.5,692.3 803.3,691.0 804.1,689.7 804.8,688.5 805.5,687.4" style="fill:none;stroke:#c4cc92;stroke-width:5;stroke-linejoin:round;stroke-dasharray:16.58 5.83;stroke-dashoffset:7.09"/>
<path d="M804.2,689.5 804.8,688.5 805.6,687.2 806.4,685.9 807.2,684.6 808.0,683.3 808.7,682.1 809.5,680.8 810.3,679.5 811.1,678.2 811.9,676.9 812.7,675.7 813.5,674.4 814.3,673.1 815.1,671.8 815.9,670.6 816.7,669.3 817.5,668.0 818.4,666.8 819.2,665.5 820.0,664.2 820.8,663.0 821.6,661.7 822.5,660.4 823.3,659.2 824.1,657.9 825.0,656.6 825.8,655.4 826.7,654.1 827.5,652.9 828.4,651.6 829.2,650.3 830.1,649.1 831.0,647.8 831.8,646.6 832.7,645.3 833.6,644.1 834.4,642.8 835.3,641.6 836.2,640.3 837.1,639.1 838.0,637.8 838.9,636.6 839.8,635.3 840.7,634.1 841.4,633.1" style="fill:none;stroke:#c4cc92;stroke-width:5;stroke-linejoin:round;stroke-dasharray:16.07 5.65;stroke-dashoffset:6.84"/>
<path d="M840.0,635.0 840.7,634.1 841.6,632.8 842.5,631.6 843.4,630.3 844.3,629.1 845.2,627.9 846.2,626.6 847.1,625.4 848.0,624.2 849.0,622.9 849.9,621.7 850.8,620.5 851.8,619.3 852.8,618.1 853.7,616.9 854.7,615.6 855.4,614.7" style="fill:none;stroke:#c4cc92;stroke-width:5;stroke-linejoin:round;stroke-dasharray:17.12 6.02;stroke-dashoffset:7.36"/>
<path d="M853.9,616.6 854.7,615.6 855.6,614.4 856.6,613.3 857.6,612.1 858.6,610.9 859.6,609.7 860.6,608.5 861.6,607.4 862.6,606.2 863.6,605.0 864.6,603.9 865.6,602.7 866.6,601.6 867.7,600.5 868.7,599.4 869.7,598.3 870.8,597.2 871.6,596.3" style="fill:none;stroke:#c4cc92;stroke-width:5;stroke-linejoin:round;stroke-dasharray:18.15 6.38;stroke-dashoffset:7.87"/>
<path d="M869.9,598.0 870.8,597.2 871.8,596.1 872.9,595.0 873.9,593.9 875.0,592.8 876.1,591.8 877.2,590.7 878.3,589.7 879.4,588.6 880.5,587.6 881.6,586.6 882.7,585.6 883.8,584.6 884.9,583.7 886.1,582.7 887.2,581.7 888.4,580.8 889.3,580.0" style="fill:none;stroke:#c4cc92;stroke-width:5;stroke-linejoin:round;stroke-dasharray:17.78 6.25;stroke-dashoffset:7.69"/>
<path d="M887.4,581.6 888.4,580.8 889.5,579.9 890.7,579.0 891.8,578.0 893.0,577.2 894.2,576.3 895.4,575.4 896.6,574.6 897.8,573.7 899.0,572.9 900.2,572.1 901.4,571.3 902.7,570.5 903.9,569.8 905.2,569.0 906.4,568.3 907.5,567.7" style="fill:none;stroke:#c4cc92;stroke-width:5;stroke-linejoin:round;stroke-dasharray:16.29 5.72;stroke-dashoffset:6.94"/>
<path d="M905.4,568.9 906.4,568.3 907.7,567.6 909.0,566.9 910.2,566.2 911.5,565.5 912.8,564.9 914.1,564.2 915.4,563.6 916.8,563.0 918.1,562.4 919.4,561.8 920.8,561.3 922.1,560.7 923.4,560.2 924.8,559.7 925.9,559.3" style="fill:none;stroke:#c4cc92;stroke-width:5;stroke-linejoin:round;stroke-dasharray:15.02 5.28;stroke-dashoffset:6.31"/>
<path d="M923.7,560.1 924.8,559.7 926.2,559.2 927.5,558.7 928.9,558.3 930.3,557.8 931.7,557.4 933.0,557.0 934.4,556.6 935.8,556.3 937.2,555.9 938.6,555.6 940.0,555.2 941.5,554.9 942.9,554.7 944.3,554.4 945.7,554.1 947.1,553.9 948.6,553.7 950.0,553.5 951.4,553.3 952.9,553.2 954.3,553.0 955.7,552.9 957.2,552.8 958.6,552.7 960.1,552.6 961.5,552.6 963.0,552.5 964.4,552.5 965.9,552.5 967.3,552.5 968.8,552.6 970.2,552.6 971.7,552.7 973.1,552.8 974.6,552.9 976.0,553.0 977.5,553.2 978.9,553.4 980.4,553.6 981.8,553.8 983.3,554.0 984.7,554.2 986.2,554.5 987.6,554.8 989.1,555.1 990.5,555.4 991.9,555.7 993.1,556.0" style="fill:none;stroke:#c4cc92;stroke-width:5;stroke-linejoin:round;stroke-dasharray:16.83 5.92;stroke-dashoffset:7.21"/>
<path d="M990.8,555.4 991.9,555.7 993.4,556.0 994.8,556.4 996.3,556.8 997.7,557.2 999.1,557.6 1000.6,558.0 1002.0,558.4 1003.4,558.9 1004.8,559.4 1006.3,559.9 1007.7,560.4 1009.1,560.9 1010.5,561.4 1011.9,561.9 1013.3,562.5 1014.7,563.1 1016.1,563.7 1017.5,564.2 1018.9,564.9 1020.3,565.5 1021.7,566.1 1023.1,566.8 1024.5,567.4 1025.9,568.1 1027.2,568.8 1028.6,569.5 1030.0,570.2 1031.3,570.9 1032.7,571.6 1034.1,572.4 1035.4,573.1 1036.7,573.9 1037.8,574.5" style="fill:none;stroke:#c4cc92;stroke-width:5;stroke-linejoin:round;stroke-dasharray:17.95 6.31;stroke-dashoffset:7.77"/>
<path d="M1035.7,573.3 1036.7,573.9 1038.1,574.6 1039.4,575.4 1040.8,576.2 1042.1,577.0 1043.4,577.8 1044.7,578.6 1046.0,579.5 1047.3,580.3 1048.7,581.1 1049.9,582.0 1051.2,582.9 1052.5,583.7 1053.8,584.6 1055.1,585.5 1056.4,586.4 1057.6,587.3 1058.6,588.0" style="fill:none;stroke:#c4cc92;stroke-width:5;stroke-linejoin:round;stroke-dasharray:18.36 6.45;stroke-dashoffset:7.98"/>
<path d="M1056.6,586.6 1057.6,587.3 1058.9,588.2 1060.1,589.1 1061.4,590.0 1062.6,590.9 1063.8,591.9 1065.1,592.8 1066.3,593.7 1067.5,594.7 1068.7,595.6 1069.9,596.6 1071.1,597.5 1072.3,598.5 1073.5,599.5 1074.6,600.5 1075.8,601.4 1076.7,602.2" style="fill:none;stroke:#c4cc92;stroke-width:5;stroke-linejoin:round;stroke-dasharray:17.07 6.00;stroke-dashoffset:7.33"/>
<path d="M1074.9,600.7 1075.8,601.4 1077.0,602.4 1078.1,603.4 1079.3,604.4 1080.4,605.4 1081.5,606.4 1082.7,607.4 1083.8,608.4 1084.9,609.4 1086.0,610.5 1087.1,611.5 1088.2,612.5 1089.3,613.6 1090.4,614.6 1091.5,615.6 1092.4,616.5" style="fill:none;stroke:#c4cc92;stroke-width:5;stroke-linejoin:round;stroke-dasharray:15.67 5.51;stroke-dashoffset:6.64"/>
<path d="M1090.7,614.8 1091.5,615.6 1092.6,616.7 1093.7,617.7 1094.7,618.8 1095.8,619.8 1096.9,620.9 1097.9,622.0 1099.0,623.0 1100.0,624.1 1101.1,625.2 1102.1,626.2 1103.2,627.3 1104.2,628.4 1105.2,629.5 1106.2,630.6 1107.3,631.7 1108.1,632.5" style="fill:none;stroke:#c4cc92;stroke-width:5;stroke-linejoin:round;stroke-dasharray:16.62 5.84;stroke-dashoffset:7.11"/>
<path d="M1106.4,630.8 1107.3,631.7 1108.3,632.8 1109.3,633.9 1110.3,635.0 1111.3,636.1 1112.3,637.2 1113.3,638.3 1114.3,639.4 1115.3,640.5 1116.3,641.6 1117.2,642.7 1118.2,643.8 1119.2,645.0 1120.2,646.1 1121.1,647.2 1122.1,648.3 1123.1,649.5 1123.9,650.4" style="fill:none;stroke:#c4cc92;stroke-width:5;stroke-linejoin:round;stroke-dasharray:17.64 6.20;stroke-dashoffset:7.62"/>
<path d="M1122.3,648.6 1123.1,649.5 1124.0,650.6 1125.0,651.7 1126.0,652.9 1126.9,654.0 1127.9,655.2 1128.8,656.3 1129.8,657.4 1130.7,658.6 1131.7,659.7 1132.6,660.9 1133.6,662.0 1134.5,663.2 1135.5,664.3 1136.4,665.5 1137.3,666.6 1138.3,667.8 1139.0,668.7" style="fill:none;stroke:#c4cc92;stroke-width:5;stroke-linejoin:round;stroke-dasharray:17.60 6.19;stroke-dashoffset:7.60"/>
<path d="M1137.5,666.9 1138.3,667.8 1139.2,668.9 1140.1,670.1 1141.1,671.3 1142.0,672.4 1142.9,673.6 1143.9,674.7 1144.8,675.9 1145.7,677.1 1146.6,678.2 1147.6,679.4 1148.5,680.5 1149.4,681.7 1150.4,682.9 1151.3,684.0 1152.0,685.0" style="fill:none;stroke:#c4cc92;stroke-width:5;stroke-linejoin:round;stroke-dasharray:15.40 5.41;stroke-dashoffset:6.50"/>
<path d="M1150.5,683.1 1151.3,684.0 1152.2,685.2 1153.1,686.4 1154.1,687.5 1155.0,688.7 1155.9,689.8 1156.8,691.0 1157.8,692.2 1158.7,693.3 1159.6,694.5 1160.6,695.7 1161.5,696.8 1162.4,698.0 1163.4,699.1 1164.3,700.3 1165.2,701.5 1166.0,702.4" style="fill:none;stroke:#c4cc92;stroke-width:5;stroke-linejoin:round;stroke-dasharray:16.51 5.80;stroke-dashoffset:7.06"/>
<path d="M1164.5,700.5 1165.2,701.5 1166.2,702.6 1167.1,703.8 1168.0,704.9 1169.0,706.1 1169.9,707.3 1170.8,708.4 1171.8,709.6 1172.7,710.7 1173.6,711.9 1174.6,713.0 1175.5,714.2 1176.5,715.3 1177.4,716.5 1178.4,717.7 1179.3,718.8 1180.1,719.7" style="fill:none;stroke:#c4cc92;stroke-width:5;stroke-linejoin:round;stroke-dasharray:16.53 5.81;stroke-dashoffset:7.06"/>
<path d="M1178.5,717.9 1179.3,718.8 1180.2,720.0 1181.2,721.1 1182.1,722.3 1183.1,723.4 1184.0,724.6 1185.0,725.7 1185.9,726.9 1186.9,728.0 1187.8,729.2 1188.8,730.3 1189.7,731.5 1190.7,732.6 1191.6,733.8 1192.6,734.9 1193.3,735.8" style="fill:none;stroke:#c4cc92;stroke-width:5;stroke-linejoin:round;stroke-dasharray:15.44 5.43;stroke-dashoffset:6.52"/>
<path d="M1191.8,734.0 1192.6,734.9 1193.5,736.1 1194.5,737.2 1195.4,738.4 1196.4,739.5 1197.3,740.7 1198.3,741.8 1199.2,742.9 1200.2,744.1 1201.2,745.2 1202.1,746.4 1203.1,747.5 1204.0,748.7 1205.0,749.8 1206.0,750.9 1206.9,752.1 1207.7,753.0" style="fill:none;stroke:#c4cc92;stroke-width:5;stroke-linejoin:round;stroke-dasharray:16.56 5.82;stroke-dashoffset:7.08"/>
<path d="M1206.2,751.2 1206.9,752.1 1207.9,753.2 1208.9,754.4 1209.8,755.5 1210.8,756.6 1211.8,757.8 1212.7,758.9 1213.7,760.1 1214.7,761.2 1215.6,762.3 1216.6,763.5 1217.6,764.6 1218.6,765.7 1219.5,766.9 1220.5,768.0 1221.5,769.1 1222.4,770.3 1223.4,771.4 1224.4,772.5 1225.4,773.7 1226.4,774.8 1227.3,775.9 1228.3,777.0 1229.3,778.2 1230.3,779.3 1231.3,780.4 1232.3,781.5 1233.2,782.7 1234.2,783.8 1235.2,784.9 1236.2,786.0 1237.2,787.2 1238.2,788.3 1239.2,789.4 1240.2,790.5 1241.2,791.7 1242.1,792.8 1243.1,793.9 1244.1,795.0 1245.1,796.1 1246.1,797.2 1247.1,798.4 1248.1,799.5 1249.1,800.6 1250.1,801.7 1251.1,802.8 1252.1,803.9 1253.1,805.0 1254.1,806.2 1255.1,807.3 1256.2,808.4 1257.2,809.5 1258.2,810.6 1259.2,811.7 1260.2,812.8 1261.2,813.9 1262.2,815.0 1263.2,816.1 1264.2,817.2 1265.3,818.3 1266.3,819.4 1267.3,820.5 1268.3,821.6 1269.3,822.7 1270.3,823.8 1271.4,824.9 1272.4,826.0 1273.4,827.1 1274.4,828.2 1275.5,829.3 1276.5,830.4 1277.5,831.5 1278.5,832.6 1279.6,833.7 1280.6,834.8 1281.6,835.9 1282.7,837.0 1283.7,838.1 1284.7,839.2 1285.8,840.2 1286.8,841.3 1287.8,842.4 1288.9,843.5 1289.9,844.6 1291.0,845.7 1292.0,846.8 1293.0,847.8 1294.1,848.9 1295.1,850.0 1296.2,851.1 1297.2,852.2 1298.3,853.2 1299.3,854.3 1300.4,855.4 1301.4,856.5 1302.5,857.5 1303.5,858.6 1304.6,859.7 1305.6,860.8 1306.7,861.8 1307.8,862.9 1308.8,864.0 1309.9,865.0 1310.9,866.1 1312.0,867.2 1313.1,868.2 1314.1,869.3 1315.2,870.4 1316.3,871.4 1317.3,872.5 1318.4,873.6 1319.5,874.6 1320.6,875.7 1321.6,876.7 1322.7,877.8 1323.8,878.8 1324.9,879.9 1325.9,880.9 1327.0,882.0 1328.1,883.0 1329.2,884.1 1330.3,885.1 1331.4,886.2 1332.4,887.2 1333.5,888.3 1334.6,889.3 1335.7,890.3 1336.8,891.4 1337.9,892.4 1339.0,893.5 1340.1,894.5 1341.2,895.5 1342.3,896.6 1343.4,897.6 1344.5,898.6 1345.6,899.6 1346.7,900.7 1347.8,901.7 1348.9,902.7 1350.0,903.7 1351.1,904.7 1352.3,905.8 1353.4,906.8 1354.5,907.8 1355.6,908.8 1356.7,909.8 1357.8,910.8 1359.0,911.8 1360.1,912.8 1361.2,913.8 1362.3,914.8 1363.5,915.8 1364.6,916.8 1365.7,917.8 1366.9,918.8 1368.0,919.8 1369.1,920.8 1370.3,921.7 1371.4,922.7 1372.6,923.7 1373.7,924.7 1374.8,925.7 1376.0,926.6 1377.1,927.6 1378.3,928.6 1379.4,929.5 1380.6,930.5 1381.8,931.5 1382.9,932.4 1384.1,933.4 1385.2,934.3 1386.2,935.1" style="fill:none;stroke:#c4cc92;stroke-width:5;stroke-linejoin:round;stroke-dasharray:17.17 6.04;stroke-dashoffset:7.39"/>
<path d="M1384.3,933.6 1385.2,934.3 1386.4,935.3 1387.6,936.2 1388.7,937.2 1389.9,938.1 1391.1,939.1 1392.2,940.0 1393.4,940.9 1394.6,941.9 1395.8,942.8 1396.9,943.7 1398.1,944.7 1399.3,945.6 1400.5,946.5 1401.7,947.4 1402.9,948.3 1404.1,949.3 1405.3,950.2 1406.4,951.1 1407.6,952.0 1408.8,952.9 1410.0,953.8 1411.2,954.7 1412.5,955.6 1413.7,956.5 1414.9,957.3 1416.1,958.2 1417.3,959.1 1418.3,959.8" style="fill:none;stroke:#c4cc92;stroke-width:5;stroke-linejoin:round;stroke-dasharray:14.99 5.27;stroke-dashoffset:6.29"/>
<path d="M1416.3,958.4 1417.3,959.1 1418.5,960.0 1419.7,960.9 1420.9,961.7 1422.2,962.6 1423.4,963.5 1424.6,964.3 1425.8,965.2 1427.1,966.0 1428.3,966.9 1429.5,967.7 1430.8,968.6 1432.0,969.4 1433.2,970.3 1434.5,971.1 1435.7,971.9 1436.7,972.6" style="fill:none;stroke:#c4cc92;stroke-width:5;stroke-linejoin:round;stroke-dasharray:16.62 5.84;stroke-dashoffset:7.11"/>
<path d="M1434.7,971.3 1435.7,971.9 1437.0,972.8 1438.2,973.6 1439.5,974.4 1440.7,975.3 1442.0,976.1 1443.2,976.9 1444.5,977.7 1445.7,978.5 1447.0,979.3 1448.3,980.1 1449.5,980.9 1450.8,981.7 1452.1,982.5 1453.3,983.3 1454.6,984.1 1455.9,984.9 1456.9,985.5" style="fill:none;stroke:#c4cc92;stroke-width:5;stroke-linejoin:round;stroke-dasharray:17.72 6.23;stroke-dashoffset:7.66"/>
<path d="M1454.8,984.2 1455.9,984.9 1457.1,985.7 1458.4,986.4 1459.7,987.2 1461.0,988.0 1462.3,988.8 1463.5,989.5 1464.8,990.3 1466.1,991.1 1467.4,991.8 1468.7,992.6 1470.0,993.3 1471.3,994.1 1472.6,994.8 1473.9,995.5 1475.2,996.3 1476.2,996.9" style="fill:none;stroke:#c4cc92;stroke-width:5;stroke-linejoin:round;stroke-dasharray:16.60 5.83;stroke-dashoffset:7.10"/>
<path d="M1474.1,995.7 1475.2,996.3 1476.5,997.0 1477.8,997.8 1479.1,998.5 1480.4,999.2 1481.7,999.9 1483.0,1000.7 1484.3,1001.4 1485.6,1002.1 1487.0,1002.8 1488.3,1003.5 1489.6,1004.2 1490.9,1004.9 1492.2,1005.6 1493.6,1006.3 1494.9,1007.0 1496.0,1007.5" style="fill:none;stroke:#c4cc92;stroke-width:5;stroke-linejoin:round;stroke-dasharray:16.59 5.83;stroke-dashoffset:7.10"/>
<path d="M1493.8,1006.4 1494.9,1007.0 1496.2,1007.7 1497.5,1008.4 1498.9,1009.1 1500.2,1009.7 1501.5,1010.4 1502.9,1011.1 1504.2,1011.7 1505.5,1012.4 1506.9,1013.1 1508.2,1013.7 1509.6,1014.4 1510.9,1015.1 1512.3,1015.7 1513.6,1016.3 1515.0,1017.0 1516.0,1017.5" style="fill:none;stroke:#c4cc92;stroke-width:5;stroke-linejoin:round;stroke-dasharray:16.59 5.83;stroke-dashoffset:7.09"/>
<path d="M1513.9,1016.5 1515.0,1017.0 1516.3,1017.6 1517.7,1018.3 1519.0,1018.9 1520.4,1019.5 1521.7,1020.2 1523.1,1020.8 1524.4,1021.4 1525.8,1022.0 1527.2,1022.7 1528.5,1023.3 1529.9,1023.9 1531.2,1024.5 1532.6,1025.1 1534.0,1025.7 1535.4,1026.3 1536.5,1026.8" style="fill:none;stroke:#c4cc92;stroke-width:5;stroke-linejoin:round;stroke-dasharray:16.59 5.83;stroke-dashoffset:7.09"/>
<path d="M1534.3,1025.8 1535.4,1026.3 1536.7,1026.9 1538.1,1027.5 1539.5,1028.1 1540.9,1028.6 1542.2,1029.2 1543.6,1029.8 1545.0,1030.4 1546.4,1031.0 1547.8,1031.5 1549.1,1032.1 1550.5,1032.6 1551.9,1033.2 1553.3,1033.8 1554.7,1034.3 1556.1,1034.9 1557.5,1035.4 1558.6,1035.8" style="fill:none;stroke:#c4cc92;stroke-width:5;stroke-linejoin:round;stroke-dasharray:17.70 6.22;stroke-dashoffset:7.65"/>
<path d="M1556.3,1035.0 1557.5,1035.4 1558.9,1036.0 1560.3,1036.5 1561.6,1037.0 1563.0,1037.6 1564.4,1038.1 1565.8,1038.6 1567.2,1039.1 1568.6,1039.7 1570.0,1040.2 1571.5,1040.7 1572.9,1041.2 1574.3,1041.7 1575.7,1042.2 1577.1,1042.7 1578.5,1043.2 1579.6,1043.6" style="fill:none;stroke:#c4cc92;stroke-width:5;stroke-linejoin:round;stroke-dasharray:16.60 5.83;stroke-dashoffset:7.10"/>
<path d="M1577.4,1042.8 1578.5,1043.2 1579.9,1043.7 1581.3,1044.2 1582.7,1044.7 1584.1,1045.2 1585.6,1045.7 1587.0,1046.1 1588.4,1046.6 1589.8,1047.1 1591.2,1047.6 1592.7,1048.0 1594.1,1048.5 1595.5,1048.9 1596.9,1049.4 1598.4,1049.9 1599.8,1050.3 1600.9,1050.7" style="fill:none;stroke:#c4cc92;stroke-width:5;stroke-linejoin:round;stroke-dasharray:16.60 5.84;stroke-dashoffset:7.10"/>
<path d="M1598.6,1049.9 1599.8,1050.3 1601.2,1050.8 1602.6,1051.2 1604.1,1051.6 1605.5,1052.1 1606.9,1052.5 1608.4,1052.9 1609.8,1053.4 1611.2,1053.8 1612.7,1054.2 1614.1,1054.6 1615.5,1055.0 1617.0,1055.5 1618.4,1055.9 1619.9,1056.3 1621.3,1056.7 1622.5,1057.0" style="fill:none;stroke:#c4cc92;stroke-width:5;stroke-linejoin:round;stroke-dasharray:16.61 5.84;stroke-dashoffset:7.11"/>
<path d="M1620.2,1056.3 1621.3,1056.7 1622.8,1057.1 1624.2,1057.5 1625.6,1057.9 1627.1,1058.2 1628.5,1058.6 1630.0,1059.0 1631.4,1059.4 1632.9,1059.8 1634.3,1060.1 1635.8,1060.5 1637.2,1060.9 1638.7,1061.2 1640.1,1061.6 1641.6,1061.9 1643.1,1062.3 1644.2,1062.6" style="fill:none;stroke:#c4cc92;stroke-width:5;stroke-linejoin:round;stroke-dasharray:16.62 5.84;stroke-dashoffset:7.11"/>
<path d="M1641.9,1062.0 1643.1,1062.3 1644.5,1062.6 1646.0,1063.0 1647.4,1063.3 1648.9,1063.7 1650.3,1064.0 1651.8,1064.3 1653.3,1064.7 1654.7,1065.0 1656.2,1065.3 1657.7,1065.6 1659.1,1066.0 1660.6,1066.3 1662.1,1066.6 1663.5,1066.9 1665.0,1067.2 1666.5,1067.5 1667.6,1067.7" style="fill:none;stroke:#c4cc92;stroke-width:5;stroke-linejoin:round;stroke-dasharray:17.74 6.24;stroke-dashoffset:7.67"/>
<path d="M1665.3,1067.2 1666.5,1067.5 1667.9,1067.8 1669.4,1068.1 1670.9,1068.4 1672.3,1068.6 1673.8,1068.9 1675.3,1069.2 1676.8,1069.5 1678.2,1069.8 1679.7,1070.0 1681.2,1070.3 1682.7,1070.6 1684.1,1070.8 1685.6,1071.1 1687.1,1071.3 1688.6,1071.6 1689.8,1071.8" style="fill:none;stroke:#c4cc92;stroke-width:5;stroke-linejoin:round;stroke-dasharray:16.64 5.85;stroke-dashoffset:7.12"/>
<path d="M1687.4,1071.4 1688.6,1071.6 1690.0,1071.8 1691.5,1072.1 1693.0,1072.3 1694.5,1072.6 1696.0,1072.8 1697.5,1073.0 1698.9,1073.2 1700.4,1073.5 1701.9,1073.7 1703.4,1073.9 1704.9,1074.1 1706.4,1074.3 1707.8,1074.5 1709.3,1074.8 1710.8,1075.0 1712.3,1075.2 1713.5,1075.3" style="fill:none;stroke:#c4cc92;stroke-width:5;stroke-linejoin:round;stroke-dasharray:17.76 6.24;stroke-dashoffset:7.68"/>
<path d="M1711.1,1075.0 1712.3,1075.2 1713.8,1075.4 1715.3,1075.6 1716.8,1075.8 1718.3,1075.9 1719.8,1076.1 1721.2,1076.3 1722.7,1076.5 1724.2,1076.7 1725.7,1076.9 1727.2,1077.0 1728.7,1077.2 1730.2,1077.4 1731.7,1077.6 1733.2,1077.7 1734.4,1077.9" style="fill:none;stroke:#c4cc92;stroke-width:5;stroke-linejoin:round;stroke-dasharray:15.56 5.47;stroke-dashoffset:6.58"/>
<path d="M1732.0,1077.6 1733.2,1077.7 1734.7,1077.9 1736.2,1078.1 1737.7,1078.2 1739.2,1078.4 1740.6,1078.5 1742.1,1078.7 1743.6,1078.8 1745.1,1079.0 1746.6,1079.2 1748.1,1079.3 1749.6,1079.4 1751.1,1079.6 1752.6,1079.7 1754.1,1079.9 1755.6,1080.0 1756.8,1080.1" style="fill:none;stroke:#c4cc92;stroke-width:5;stroke-linejoin:round;stroke-dasharray:16.69 5.87;stroke-dashoffset:7.14"/>
<path d="M1754.4,1079.9 1755.6,1080.0 1757.1,1080.2 1758.6,1080.3 1760.1,1080.4 1761.6,1080.6 1763.1,1080.7 1764.6,1080.8 1766.1,1081.0 1767.6,1081.1 1769.1,1081.2 1770.6,1081.4 1772.1,1081.5 1773.6,1081.6 1775.1,1081.7 1776.6,1081.8 1777.8,1081.9" style="fill:none;stroke:#c4cc92;stroke-width:5;stroke-linejoin:round;stroke-dasharray:15.59 5.48;stroke-dashoffset:6.59"/>
<path d="M1775.4,1081.8 1776.6,1081.8 1778.1,1082.0 1779.6,1082.1 1781.1,1082.2 1782.6,1082.3 1784.1,1082.5 1785.6,1082.6 1787.1,1082.7 1788.6,1082.8 1790.1,1082.9 1791.6,1083.0 1793.1,1083.1 1794.6,1083.3 1796.1,1083.4 1797.6,1083.5 1799.1,1083.6 1800.6,1083.7 1802.1,1083.8 1803.6,1083.9 1805.1,1084.1 1806.6,1084.2 1808.1,1084.3 1809.6,1084.4 1811.1,1084.5 1812.6,1084.6 1814.1,1084.7 1815.6,1084.8 1817.1,1084.9 1818.6,1085.0 1820.1,1085.2 1821.6,1085.3 1823.1,1085.4 1824.6,1085.5 1826.1,1085.6 1827.6,1085.7 1829.1,1085.8 1830.6,1085.9 1832.1,1086.1 1833.6,1086.2 1835.1,1086.3 1836.6,1086.4 1838.1,1086.5 1839.6,1086.6 1841.1,1086.8 1842.6,1086.9 1844.1,1087.0 1845.6,1087.1 1847.0,1087.2 1848.5,1087.4 1850.0,1087.5 1851.5,1087.6 1853.0,1087.7 1854.5,1087.8 1856.0,1088.0 1857.5,1088.1 1859.0,1088.2 1860.5,1088.4 1862.0,1088.5 1863.5,1088.6 1865.0,1088.8 1866.4,1088.9 1867.9,1089.0 1869.4,1089.2 1870.9,1089.3 1872.4,1089.5 1873.9,1089.6 1875.4,1089.7 1876.9,1089.9 1878.3,1090.0 1879.8,1090.2 1881.3,1090.3 1882.8,1090.5 1884.3,1090.6 1885.8,1090.8 1887.2,1091.0 1888.7,1091.1 1890.2,1091.3 1891.7,1091.4 1893.2,1091.6 1894.7,1091.8 1896.1,1092.0 1897.6,1092.1 1899.1,1092.3 1900.6,1092.5 1902.0,1092.7 1903.5,1092.8 1905.0,1093.0" style="fill:none;stroke:#c4cc92;stroke-width:5;stroke-linejoin:round;stroke-dasharray:16.50 5.80;stroke-dashoffset:7.05"/>
<path d="M270.0,1110.0 271.4,1109.6 272.8,1109.2 274.2,1108.8 275.7,1108.4 277.1,1108.0 278.5,1107.6 279.9,1107.3 281.3,1106.9 282.7,1106.5 284.1,1106.1 285.5,1105.7 287.0,1105.4 288.4,1105.0 289.8,1104.6 291.2,1104.3 292.7,1103.9 294.1,1103.5 295.5,1103.2 297.0,1102.8 298.4,1102.5 299.8,1102.1 301.3,1101.8 302.7,1101.4 304.1,1101.1 305.6,1100.8 307.0,1100.4 308.5,1100.1 309.9,1099.8 311.4,1099.4 312.8,1099.1 314.3,1098.8 315.7,1098.4 317.2,1098.1 318.6,1097.8 320.1,1097.5 321.6,1097.2 323.0,1096.9 324.5,1096.5 325.9,1096.2 327.4,1095.9 328.9,1095.6 330.3,1095.3 331.8,1095.0 333.3,1094.7 334.7,1094.4 336.2,1094.1 337.7,1093.8 339.1,1093.5 340.6,1093.2 342.1,1092.9 343.6,1092.6 345.0,1092.3 346.5,1092.0 348.0,1091.7 349.5,1091.4 351.0,1091.1 352.4,1090.9 353.9,1090.6 355.4,1090.3 356.9,1090.0 358.4,1089.7 359.9,1089.4 361.3,1089.2 362.8,1088.9 364.3,1088.6 365.8,1088.3 367.3,1088.0 368.8,1087.7 370.3,1087.5 371.8,1087.2 373.3,1086.9 374.7,1086.6 376.2,1086.4 377.7,1086.1 379.2,1085.8 380.7,1085.5 382.2,1085.3 383.7,1085.0 385.2,1084.7 386.7,1084.4 388.2,1084.1 389.7,1083.9 391.2,1083.6 392.7,1083.3 394.2,1083.0 395.7,1082.8 397.2,1082.5 398.7,1082.2 400.1,1081.9 401.6,1081.7 403.1,1081.4 404.6,1081.1 406.1,1080.8 407.6,1080.5 409.1,1080.3 410.6,1080.0 412.1,1079.7 413.6,1079.4 415.1,1079.1 416.6,1078.9 418.1,1078.6 419.6,1078.3 421.1,1078.0 422.6,1077.7 424.1,1077.4 425.6,1077.2 427.1,1076.9 428.6,1076.6 430.1,1076.3 431.6,1076.0 433.0,1075.7 434.5,1075.4 436.0,1075.1 437.5,1074.8 439.0,1074.5 440.5,1074.2 442.0,1073.9 443.5,1073.6 445.0,1073.3 446.5,1073.0 448.0,1072.7 449.4,1072.4 450.9,1072.1 452.4,1071.8 453.9,1071.5 455.4,1071.1 456.9,1070.8 458.3,1070.5 459.8,1070.2 461.3,1069.9 462.8,1069.5 464.3,1069.2 465.8,1068.9 467.2,1068.6 468.7,1068.2 470.2,1067.9 471.7,1067.6 473.1,1067.2 474.6,1066.9 476.1,1066.5 477.6,1066.2 479.0,1065.8 480.5,1065.5 482.0,1065.1 483.4,1064.8 484.9,1064.4 486.4,1064.1 487.8,1063.7 489.3,1063.3 490.7,1063.0 492.2,1062.6 493.7,1062.2 495.1,1061.9 496.6,1061.5 498.0,1061.1 499.5,1060.7 500.9,1060.3 502.4,1059.9 503.8,1059.5 505.3,1059.1 506.7,1058.7 508.2,1058.3 509.6,1057.9 511.0,1057.5 512.5,1057.1 513.9,1056.7 515.4,1056.3 516.8,1055.9 518.2,1055.4 519.7,1055.0 521.1,1054.6 522.5,1054.1 523.9,1053.7 525.4,1053.2 526.8,1052.8 528.2,1052.3 529.6,1051.9 531.0,1051.4 532.5,1051.0 533.9,1050.5 535.3,1050.0 536.7,1049.6 538.1,1049.1 539.5,1048.6 540.9,1048.1 542.3,1047.6 543.7,1047.1 545.1,1046.6 546.5,1046.1 547.9,1045.6 549.3,1045.1 550.7,1044.6 552.0,1044.1 553.4,1043.5 554.8,1043.0 556.2,1042.5 557.6,1041.9 558.9,1041.4 560.3,1040.8 561.7,1040.3 563.0,1039.7 564.4,1039.2 565.8,1038.6 567.1,1038.0 568.5,1037.5 569.8,1036.9 571.2,1036.3 572.5,1035.7 573.9,1035.1 575.2,1034.5 576.6,1033.9 577.9,1033.3 579.2,1032.7 580.6,1032.1 581.9,1031.4 583.2,1030.8 584.3,1030.3" style="fill:none;stroke:#c2c98a;stroke-width:5;stroke-linejoin:round;stroke-dasharray:21.00 18.60;stroke-dashoffset:3.48"/>
<path d="M582.2,1031.3 583.2,1030.8 584.6,1030.2 585.9,1029.5 587.2,1028.9 588.5,1028.2 589.8,1027.6 591.1,1026.9 592.5,1026.2 593.8,1025.6 595.1,1024.9 596.4,1024.2 597.7,1023.5 599.0,1022.8 600.3,1022.1 601.5,1021.4 602.8,1020.7 604.1,1020.0 605.4,1019.3 606.7,1018.6 608.0,1017.8 609.3,1017.1 610.5,1016.4 611.8,1015.6 613.1,1014.9 614.3,1014.1 615.6,1013.4 616.9,1012.6 618.1,1011.9 619.2,1011.3" style="fill:none;stroke:#c2c98a;stroke-width:5;stroke-linejoin:round;stroke-dasharray:21.06 18.65;stroke-dashoffset:9.33"/>
<path d="M617.1,1012.5 618.1,1011.9 619.4,1011.1 620.7,1010.4 621.9,1009.6 623.2,1008.8 624.4,1008.0 625.7,1007.2 626.9,1006.5 628.2,1005.7 629.4,1004.9 630.7,1004.1 631.9,1003.3 633.1,1002.5 634.4,1001.7 635.6,1000.9 636.9,1000.0 638.1,999.2 639.3,998.4 640.6,997.6 641.8,996.7 643.0,995.9 644.2,995.1 645.5,994.2 646.7,993.4 647.9,992.6 649.1,991.7 650.3,990.9 651.6,990.0 652.5,989.3" style="fill:none;stroke:#c2c98a;stroke-width:5;stroke-linejoin:round;stroke-dasharray:21.19 18.77;stroke-dashoffset:9.40"/>
<path d="M650.6,990.7 651.6,990.0 652.8,989.1 654.0,988.3 655.2,987.4 656.4,986.6 657.6,985.7 658.8,984.8 660.1,983.9 661.3,983.1 662.5,982.2 663.7,981.3 664.9,980.4 666.1,979.5 667.3,978.7 668.5,977.8 669.7,976.9 670.9,976.0 672.1,975.1 673.3,974.2 674.5,973.3 675.7,972.4 676.9,971.5 678.1,970.6 679.3,969.7 680.5,968.8 681.7,967.8 682.9,966.9 684.0,966.0 685.0,965.3" style="fill:none;stroke:#c2c98a;stroke-width:5;stroke-linejoin:round;stroke-dasharray:21.42 18.97;stroke-dashoffset:9.51"/>
<path d="M683.1,966.7 684.0,966.0 685.2,965.1 686.4,964.2 687.6,963.3 688.8,962.3 690.0,961.4 691.2,960.5 692.4,959.6 693.6,958.6 694.8,957.7 695.9,956.8 697.1,955.8 698.3,954.9 699.5,954.0 700.7,953.0 701.9,952.1 703.1,951.2 704.3,950.2 705.4,949.3 706.6,948.3 707.8,947.4 709.0,946.5 710.2,945.5 711.4,944.6 712.6,943.6 713.7,942.7 714.9,941.7 716.1,940.8 717.3,939.8 718.5,938.9 719.7,937.9 720.9,937.0 722.0,936.0 723.2,935.1 724.4,934.1 725.6,933.2 726.8,932.3 728.0,931.3 729.2,930.4 730.4,929.4 731.6,928.5 732.7,927.5 733.9,926.6 735.1,925.6 736.3,924.7 737.5,923.7 738.7,922.8 739.9,921.8 741.1,920.9 742.3,919.9 743.5,919.0 744.7,918.0 745.9,917.1 747.1,916.1 748.3,915.2 749.5,914.2 750.7,913.3 751.9,912.4 753.1,911.4 754.3,910.5 755.5,909.5 756.7,908.6 757.9,907.7 759.1,906.7 760.3,905.8 761.5,904.9 762.7,903.9 764.0,903.0 765.2,902.1 766.4,901.1 767.6,900.2 768.8,899.3 770.0,898.3 771.3,897.4 772.5,896.5 773.7,895.6 774.9,894.7 776.1,893.7 777.4,892.8 778.6,891.9 779.8,891.0 781.1,890.1 782.3,889.2 783.5,888.3 784.8,887.4 786.0,886.5 787.2,885.6 788.5,884.7 789.7,883.8 791.0,882.9 792.2,882.0 793.5,881.1 794.7,880.3 796.0,879.4 797.2,878.5 798.5,877.7 799.7,876.8 801.0,875.9 802.2,875.1 803.5,874.2 804.8,873.4 806.0,872.5 807.3,871.7 808.5,870.9 809.8,870.0 811.1,869.2 812.4,868.4 813.6,867.6 814.9,866.8 816.2,866.0 817.5,865.2 818.7,864.4 820.0,863.6 821.3,862.8 822.6,862.0 823.9,861.2 825.2,860.5 826.5,859.7 827.8,858.9 829.1,858.2 830.4,857.4 831.7,856.7 833.0,856.0 834.3,855.3 835.6,854.5 836.9,853.8 838.2,853.1 839.5,852.4 840.8,851.7 842.1,851.0 843.5,850.4 844.5,849.8" style="fill:none;stroke:#c2c98a;stroke-width:5;stroke-linejoin:round;stroke-dasharray:20.92 18.53;stroke-dashoffset:9.26"/>
<path d="M842.4,850.9 843.5,850.4 844.8,849.7 846.1,849.0 847.4,848.4 848.8,847.7 850.1,847.1 851.4,846.5 852.7,845.8 854.1,845.2 855.4,844.6 856.8,844.0 858.1,843.4 859.4,842.8 860.8,842.3 862.1,841.7 863.5,841.1 864.9,840.6 866.2,840.0 867.6,839.5 868.9,839.0 870.3,838.5 871.7,838.0 873.0,837.5 874.4,837.0 875.8,836.5 877.1,836.1 878.5,835.6 879.9,835.2 881.3,834.7 882.4,834.4" style="fill:none;stroke:#c2c98a;stroke-width:5;stroke-linejoin:round;stroke-dasharray:21.74 19.25;stroke-dashoffset:9.67"/>
<path d="M880.1,835.1 881.3,834.7 882.7,834.3 884.1,833.9 885.5,833.5 886.8,833.1 888.2,832.7 889.6,832.3 891.0,831.9 892.4,831.6 893.8,831.2 895.3,830.9 896.7,830.6 898.1,830.3 899.5,830.0 900.9,829.7 902.3,829.4 903.8,829.2 905.2,828.9 906.6,828.7 908.1,828.4 909.5,828.2 910.9,828.0 912.4,827.8 913.8,827.6 915.3,827.5 916.7,827.3 918.2,827.2 919.6,827.0 920.8,826.9" style="fill:none;stroke:#c2c98a;stroke-width:5;stroke-linejoin:round;stroke-dasharray:20.77 18.39;stroke-dashoffset:9.18"/>
<path d="M918.4,827.1 919.6,827.0 921.1,826.9 922.5,826.8 924.0,826.7 925.5,826.6 926.9,826.6 928.4,826.5 929.9,826.5 931.3,826.4 932.8,826.4 934.3,826.4 935.8,826.4 937.3,826.4 938.8,826.4 940.2,826.5 941.7,826.5 943.2,826.6 944.7,826.6 946.2,826.7 947.7,826.8 949.2,826.9 950.7,827.0 952.2,827.1 953.7,827.3 955.2,827.4 956.7,827.6 958.2,827.7 959.7,827.9 960.9,828.0" style="fill:none;stroke:#c2c98a;stroke-width:5;stroke-linejoin:round;stroke-dasharray:21.30 18.86;stroke-dashoffset:9.45"/>
<path d="M958.5,827.8 959.7,827.9 961.2,828.1 962.7,828.3 964.2,828.5 965.7,828.7 967.2,828.9 968.7,829.1 970.2,829.3 971.7,829.6 973.2,829.8 974.8,830.1 976.3,830.4 977.8,830.6 979.3,830.9 980.8,831.2 982.3,831.5 983.8,831.8 985.3,832.1 986.8,832.5 988.3,832.8 989.8,833.1 991.3,833.5 992.8,833.8 994.3,834.2 995.8,834.6 997.3,834.9 998.8,835.3 1000.3,835.7 1001.8,836.1 1003.3,836.5 1004.8,836.9 1006.3,837.3 1007.8,837.7 1009.2,838.1 1010.7,838.6 1012.2,839.0 1013.7,839.4 1015.2,839.9 1016.7,840.3 1018.1,840.8 1019.6,841.3 1021.1,841.7 1022.5,842.2 1024.0,842.7 1025.5,843.2 1026.9,843.6 1028.4,844.1 1029.8,844.6 1031.3,845.1 1032.7,845.6 1034.2,846.1 1035.6,846.6 1037.1,847.2 1038.5,847.7 1039.9,848.2 1041.4,848.7 1042.8,849.2 1044.2,849.8 1045.6,850.3 1047.0,850.8 1048.5,851.4 1049.9,851.9 1051.3,852.5 1052.7,853.0 1054.1,853.6 1055.5,854.1 1056.9,854.7 1058.3,855.3 1059.6,855.8 1061.0,856.4 1062.4,857.0 1063.8,857.6 1065.2,858.2 1066.5,858.7 1067.9,859.3 1069.3,859.9 1070.7,860.5 1072.0,861.1 1073.4,861.7 1074.5,862.2" style="fill:none;stroke:#c2c98a;stroke-width:5;stroke-linejoin:round;stroke-dasharray:21.04 18.64;stroke-dashoffset:9.32"/>
<path d="M1072.3,861.2 1073.4,861.7 1074.7,862.3 1076.1,863.0 1077.5,863.6 1078.8,864.2 1080.2,864.8 1081.5,865.4 1082.9,866.1 1084.2,866.7 1085.5,867.3 1086.9,868.0 1088.2,868.6 1089.5,869.3 1090.9,869.9 1092.2,870.6 1093.5,871.2 1094.9,871.9 1096.2,872.6 1097.5,873.2 1098.8,873.9 1100.1,874.6 1101.5,875.3 1102.8,876.0 1104.1,876.7 1105.4,877.3 1106.7,878.0 1108.0,878.7 1109.3,879.4 1110.4,880.0" style="fill:none;stroke:#c2c98a;stroke-width:5;stroke-linejoin:round;stroke-dasharray:21.25 18.82;stroke-dashoffset:9.43"/>
<path d="M1108.3,878.9 1109.3,879.4 1110.6,880.2 1111.9,880.9 1113.2,881.6 1114.5,882.3 1115.8,883.0 1117.1,883.7 1118.4,884.5 1119.7,885.2 1121.0,885.9 1122.3,886.7 1123.6,887.4 1124.9,888.2 1126.2,888.9 1127.4,889.6 1128.7,890.4 1130.0,891.2 1131.3,891.9 1132.6,892.7 1133.9,893.4 1135.1,894.2 1136.4,895.0 1137.7,895.7 1139.0,896.5 1140.2,897.3 1141.5,898.1 1142.8,898.8 1144.1,899.6 1145.1,900.2" style="fill:none;stroke:#c2c98a;stroke-width:5;stroke-linejoin:round;stroke-dasharray:21.30 18.87;stroke-dashoffset:9.45"/>
<path d="M1143.0,899.0 1144.1,899.6 1145.3,900.4 1146.6,901.2 1147.9,902.0 1149.1,902.7 1150.4,903.5 1151.7,904.3 1152.9,905.1 1154.2,905.9 1155.5,906.7 1156.7,907.5 1158.0,908.3 1159.3,909.1 1160.5,909.9 1161.8,910.7 1163.1,911.5 1164.3,912.3 1165.6,913.1 1166.9,913.9 1168.1,914.7 1169.4,915.5 1170.6,916.3 1171.9,917.2 1173.2,918.0 1174.4,918.8 1175.7,919.6 1176.9,920.4 1178.0,921.0" style="fill:none;stroke:#c2c98a;stroke-width:5;stroke-linejoin:round;stroke-dasharray:20.63 18.27;stroke-dashoffset:9.12"/>
<path d="M1175.9,919.7 1176.9,920.4 1178.2,921.2 1179.5,922.0 1180.7,922.8 1182.0,923.6 1183.3,924.4 1184.5,925.3 1185.8,926.1 1187.0,926.9 1188.3,927.7 1189.6,928.5 1190.8,929.3 1192.1,930.1 1193.4,930.9 1194.6,931.7 1195.9,932.5 1197.2,933.4 1198.4,934.2 1199.7,935.0 1201.0,935.8 1202.2,936.6 1203.5,937.4 1204.8,938.2 1206.0,939.0 1207.3,939.8 1208.6,940.6 1209.6,941.2" style="fill:none;stroke:#c2c98a;stroke-width:5;stroke-linejoin:round;stroke-dasharray:19.89 17.62;stroke-dashoffset:8.75"/>
<path d="M1207.5,939.9 1208.6,940.6 1209.8,941.4 1211.1,942.2 1212.4,943.0 1213.7,943.8 1214.9,944.6 1216.2,945.3 1217.5,946.1 1218.8,946.9 1220.0,947.7 1221.3,948.5 1222.6,949.3 1223.9,950.1 1225.2,950.8 1226.4,951.6 1227.7,952.4 1229.0,953.2 1230.3,953.9 1231.6,954.7 1232.9,955.5 1234.2,956.2 1235.5,957.0 1236.8,957.7 1238.1,958.5 1239.4,959.2 1240.7,960.0 1242.0,960.7 1243.3,961.5 1244.6,962.2 1245.9,963.0 1247.2,963.7 1248.5,964.4 1249.8,965.2 1251.1,965.9 1252.4,966.6 1253.7,967.3 1255.0,968.1 1256.3,968.8 1257.7,969.5 1259.0,970.2 1260.3,970.9 1261.6,971.6 1262.9,972.3 1264.3,973.0 1265.6,973.7 1266.9,974.4 1268.2,975.1 1269.6,975.8 1270.9,976.5 1272.2,977.2 1273.6,977.9 1274.9,978.6 1276.2,979.2 1277.6,979.9 1278.9,980.6 1280.2,981.3 1281.6,981.9 1282.9,982.6 1284.3,983.3 1285.6,983.9 1286.9,984.6 1288.3,985.3 1289.6,985.9 1291.0,986.6 1292.3,987.2 1293.7,987.9 1295.0,988.5 1296.4,989.1 1297.7,989.8 1299.1,990.4 1300.4,991.1 1301.8,991.7 1303.2,992.3 1304.5,993.0 1305.9,993.6 1307.2,994.2 1308.6,994.8 1310.0,995.4 1311.3,996.1 1312.7,996.7 1314.1,997.3 1315.4,997.9 1316.8,998.5 1318.2,999.1 1319.5,999.7 1320.9,1000.3 1322.3,1000.9 1323.7,1001.5 1325.0,1002.1 1326.4,1002.7 1327.8,1003.3 1329.2,1003.8 1330.5,1004.4 1331.9,1005.0 1333.3,1005.6 1334.7,1006.1 1336.1,1006.7 1337.5,1007.3 1338.8,1007.9 1340.2,1008.4 1341.6,1009.0 1343.0,1009.5 1344.4,1010.1 1345.8,1010.7 1347.2,1011.2 1348.6,1011.8 1350.0,1012.3 1351.4,1012.9 1352.8,1013.4 1354.2,1013.9 1355.5,1014.5 1356.9,1015.0 1358.3,1015.5 1359.7,1016.1 1361.1,1016.6 1362.5,1017.1 1364.0,1017.7 1365.4,1018.2 1366.8,1018.7 1368.2,1019.2 1369.6,1019.7 1371.0,1020.2 1372.4,1020.7 1373.8,1021.3 1375.2,1021.8 1376.6,1022.3 1378.0,1022.8 1379.4,1023.3 1380.9,1023.8 1382.3,1024.2 1383.7,1024.7 1385.1,1025.2 1386.5,1025.7 1387.9,1026.2 1389.4,1026.7 1390.8,1027.2 1391.9,1027.5" style="fill:none;stroke:#c2c98a;stroke-width:5;stroke-linejoin:round;stroke-dasharray:21.45 19.00;stroke-dashoffset:9.52"/>
<path d="M1389.6,1026.8 1390.8,1027.2 1392.2,1027.6 1393.6,1028.1 1395.0,1028.6 1396.5,1029.0 1397.9,1029.5 1399.3,1030.0 1400.7,1030.4 1402.2,1030.9 1403.6,1031.4 1405.0,1031.8 1406.4,1032.3 1407.9,1032.7 1409.3,1033.2 1410.7,1033.6 1412.2,1034.1 1413.6,1034.5 1415.0,1034.9 1416.5,1035.4 1417.9,1035.8 1419.3,1036.2 1420.8,1036.7 1422.2,1037.1 1423.6,1037.5 1425.1,1037.9 1426.5,1038.4 1427.9,1038.8 1429.1,1039.1" style="fill:none;stroke:#c2c98a;stroke-width:5;stroke-linejoin:round;stroke-dasharray:20.66 18.29;stroke-dashoffset:9.13"/>
<path d="M1426.8,1038.5 1427.9,1038.8 1429.4,1039.2 1430.8,1039.6 1432.3,1040.0 1433.7,1040.4 1435.1,1040.8 1436.6,1041.2 1438.0,1041.7 1439.5,1042.1 1440.9,1042.4 1442.4,1042.8 1443.8,1043.2 1445.3,1043.6 1446.7,1044.0 1448.2,1044.4 1449.6,1044.8 1451.0,1045.2 1452.5,1045.6 1453.9,1045.9 1455.4,1046.3 1456.8,1046.7 1458.3,1047.0 1459.8,1047.4 1461.2,1047.8 1462.7,1048.1 1464.1,1048.5 1465.6,1048.9 1467.0,1049.2 1468.2,1049.5" style="fill:none;stroke:#c2c98a;stroke-width:5;stroke-linejoin:round;stroke-dasharray:21.45 19.00;stroke-dashoffset:9.53"/>
<path d="M1465.9,1048.9 1467.0,1049.2 1468.5,1049.6 1469.9,1049.9 1471.4,1050.3 1472.8,1050.6 1474.3,1051.0 1475.8,1051.3 1477.2,1051.7 1478.7,1052.0 1480.1,1052.3 1481.6,1052.7 1483.1,1053.0 1484.5,1053.3 1486.0,1053.7 1487.4,1054.0 1488.9,1054.3 1490.4,1054.6 1491.8,1055.0 1493.3,1055.3 1494.8,1055.6 1496.2,1055.9 1497.7,1056.2 1499.2,1056.5 1500.6,1056.8 1502.1,1057.1 1503.6,1057.4 1505.0,1057.7 1506.5,1058.0 1507.7,1058.3" style="fill:none;stroke:#c2c98a;stroke-width:5;stroke-linejoin:round;stroke-dasharray:21.45 19.00;stroke-dashoffset:9.52"/>
<path d="M1505.3,1057.8 1506.5,1058.0 1508.0,1058.3 1509.4,1058.6 1510.9,1058.9 1512.4,1059.2 1513.8,1059.5 1515.3,1059.8 1516.8,1060.1 1518.3,1060.3 1519.7,1060.6 1521.2,1060.9 1522.7,1061.2 1524.1,1061.4 1525.6,1061.7 1527.1,1062.0 1528.6,1062.2 1530.0,1062.5 1531.5,1062.8 1533.0,1063.0 1534.5,1063.3 1535.9,1063.5 1537.4,1063.8 1538.9,1064.1 1540.4,1064.3 1541.8,1064.6 1543.3,1064.8 1544.8,1065.0 1546.3,1065.3 1547.8,1065.5 1549.2,1065.8 1550.7,1066.0 1552.2,1066.2 1553.7,1066.5 1555.1,1066.7 1556.6,1066.9 1558.1,1067.2 1559.6,1067.4 1561.1,1067.6 1562.6,1067.8 1564.0,1068.1 1565.5,1068.3 1567.0,1068.5 1568.5,1068.7 1570.0,1068.9 1571.4,1069.2 1572.9,1069.4 1574.4,1069.6 1575.9,1069.8 1577.4,1070.0 1578.9,1070.2 1580.4,1070.4 1581.8,1070.6 1583.3,1070.8 1584.8,1071.0 1586.3,1071.2 1587.8,1071.4 1589.3,1071.6 1590.8,1071.8 1592.2,1072.0 1593.7,1072.1 1595.2,1072.3 1596.7,1072.5 1598.2,1072.7 1599.7,1072.9 1601.2,1073.1 1602.7,1073.3 1604.2,1073.4 1605.6,1073.6 1607.1,1073.8 1608.6,1074.0 1610.1,1074.1 1611.6,1074.3 1613.1,1074.5 1614.6,1074.6 1616.1,1074.8 1617.6,1075.0 1619.1,1075.1 1620.6,1075.3 1622.0,1075.5 1623.5,1075.6 1625.0,1075.8 1626.5,1075.9 1628.0,1076.1 1629.5,1076.2 1631.0,1076.4 1632.5,1076.6 1634.0,1076.7 1635.5,1076.9 1637.0,1077.0 1638.5,1077.2 1640.0,1077.3 1641.5,1077.4 1643.0,1077.6 1644.5,1077.7 1645.9,1077.9 1647.4,1078.0 1648.9,1078.2 1650.4,1078.3 1651.9,1078.4 1653.4,1078.6 1654.9,1078.7 1656.4,1078.8 1657.9,1079.0 1659.4,1079.1 1660.9,1079.2 1662.4,1079.4 1663.9,1079.5 1665.4,1079.6 1666.9,1079.7 1668.4,1079.9 1669.9,1080.0 1671.4,1080.1 1672.9,1080.2 1674.4,1080.4 1675.9,1080.5 1677.4,1080.6 1678.9,1080.7 1680.4,1080.8 1681.9,1081.0 1683.4,1081.1 1684.9,1081.2 1686.4,1081.3 1687.9,1081.4 1689.4,1081.5 1690.9,1081.6 1692.4,1081.7 1693.9,1081.9 1695.4,1082.0 1696.9,1082.1 1698.4,1082.2 1699.9,1082.3 1701.4,1082.4 1702.9,1082.5 1704.4,1082.6 1705.9,1082.7 1707.4,1082.8 1708.9,1082.9 1710.4,1083.0 1711.9,1083.1 1713.4,1083.2 1714.9,1083.3 1716.4,1083.4 1717.9,1083.5 1719.4,1083.6 1720.9,1083.7 1722.4,1083.8 1723.9,1083.9 1725.4,1084.0 1726.9,1084.1 1728.4,1084.2 1729.9,1084.3 1731.4,1084.4 1732.9,1084.5 1734.4,1084.5 1735.9,1084.6 1737.4,1084.7 1738.9,1084.8 1740.4,1084.9 1741.9,1085.0 1743.4,1085.1 1744.9,1085.2 1746.4,1085.3 1747.9,1085.3 1749.4,1085.4 1750.9,1085.5 1752.4,1085.6 1753.9,1085.7 1755.4,1085.8 1756.9,1085.9 1758.4,1085.9 1759.9,1086.0 1761.4,1086.1 1762.9,1086.2 1764.4,1086.3 1765.9,1086.4 1767.4,1086.4 1768.9,1086.5 1770.4,1086.6 1771.9,1086.7 1773.4,1086.8 1774.9,1086.8 1776.4,1086.9 1777.9,1087.0 1779.4,1087.1 1780.9,1087.2 1782.4,1087.2 1783.9,1087.3 1785.4,1087.4 1786.9,1087.5 1788.4,1087.6 1789.9,1087.6 1791.4,1087.7 1792.9,1087.8 1794.4,1087.9 1795.9,1087.9 1797.4,1088.0 1798.9,1088.1 1800.4,1088.2 1801.9,1088.3 1803.4,1088.3 1804.9,1088.4 1806.4,1088.5 1807.9,1088.6 1809.4,1088.6 1810.9,1088.7 1812.4,1088.8 1813.9,1088.9 1815.4,1088.9 1816.9,1089.0 1818.4,1089.1 1819.9,1089.2 1821.4,1089.3 1822.9,1089.3 1824.4,1089.4 1825.9,1089.5 1827.4,1089.6 1828.9,1089.6 1830.4,1089.7 1831.9,1089.8 1833.4,1089.9 1834.9,1090.0 1836.4,1090.0 1837.9,1090.1 1839.4,1090.2 1840.8,1090.3 1842.3,1090.4 1843.8,1090.4 1845.3,1090.5 1846.8,1090.6 1848.3,1090.7 1849.8,1090.8 1851.3,1090.8 1852.8,1090.9 1854.3,1091.0 1855.8,1091.1 1857.3,1091.2 1858.8,1091.2 1860.3,1091.3 1861.8,1091.4 1863.3,1091.5 1864.8,1091.6 1866.3,1091.7 1867.7,1091.7 1869.2,1091.8 1870.7,1091.9 1872.2,1092.0 1873.7,1092.1 1875.2,1092.2 1876.7,1092.3 1878.2,1092.3 1879.7,1092.4 1881.2,1092.5 1882.7,1092.6 1884.2,1092.7 1885.6,1092.8 1887.1,1092.9 1888.6,1093.0 1890.1,1093.1 1891.6,1093.2 1893.1,1093.2 1894.6,1093.3 1896.1,1093.4 1897.6,1093.5 1899.0,1093.6 1900.5,1093.7 1902.0,1093.8 1903.5,1093.9 1905.0,1094.0" style="fill:none;stroke:#c2c98a;stroke-width:5;stroke-linejoin:round;stroke-dasharray:21.00 18.60;stroke-dashoffset:9.30"/>
<path d="M270.0,1110.0 271.5,1109.7 272.9,1109.3 274.4,1109.0 275.9,1108.6 277.3,1108.3 278.8,1108.0 280.3,1107.6 281.7,1107.3 283.2,1107.0 284.7,1106.6 286.1,1106.3 287.6,1106.0 289.1,1105.6 290.5,1105.3 292.0,1105.0 293.5,1104.6 294.9,1104.3 296.4,1104.0 297.9,1103.6 299.3,1103.3 300.8,1103.0 302.3,1102.7 303.7,1102.3 305.2,1102.0 306.7,1101.7 308.1,1101.3 309.6,1101.0 311.1,1100.7 312.5,1100.4 314.0,1100.0 315.4,1099.7 316.9,1099.4 318.4,1099.1 319.8,1098.7 321.3,1098.4 322.8,1098.1 324.2,1097.8 325.7,1097.4 327.2,1097.1 328.6,1096.8 330.1,1096.5 331.5,1096.1 333.0,1095.8 334.5,1095.5 335.9,1095.2 337.4,1094.8 338.9,1094.5 340.3,1094.2 341.8,1093.9 343.2,1093.6 344.7,1093.2 346.2,1092.9 347.6,1092.6 349.1,1092.3 350.6,1091.9 352.0,1091.6 353.5,1091.3 354.9,1091.0 356.4,1090.7 357.9,1090.3 359.3,1090.0 360.8,1089.7 362.2,1089.4 363.7,1089.1 365.2,1088.8 366.6,1088.4 368.1,1088.1 369.6,1087.8 371.0,1087.5 372.5,1087.2 373.9,1086.8 375.4,1086.5 376.9,1086.2 378.3,1085.9 379.8,1085.6 381.2,1085.3 382.7,1084.9 384.2,1084.6 385.6,1084.3 387.1,1084.0 388.6,1083.7 390.0,1083.4 391.5,1083.0 392.9,1082.7 394.4,1082.4 395.9,1082.1 397.3,1081.8 398.8,1081.5 400.2,1081.1 401.7,1080.8 403.2,1080.5 404.6,1080.2 406.1,1079.9 407.6,1079.6 409.0,1079.3 410.5,1078.9 411.9,1078.6 413.4,1078.3 414.9,1078.0 416.3,1077.7 417.8,1077.4 419.3,1077.0 420.7,1076.7 422.2,1076.4 423.6,1076.1 425.1,1075.8 426.6,1075.5 428.0,1075.2 429.5,1074.8 431.0,1074.5 432.4,1074.2 433.9,1073.9 435.3,1073.6 436.8,1073.3 438.3,1072.9 439.7,1072.6 441.2,1072.3 442.7,1072.0 444.1,1071.7 445.6,1071.4 447.1,1071.1 448.5,1070.7 450.0,1070.4 451.4,1070.1 452.9,1069.8 454.4,1069.5 455.8,1069.2 457.3,1068.9 458.8,1068.5 460.2,1068.2 461.7,1067.9 463.2,1067.6 464.6,1067.3 466.1,1067.0 467.6,1066.6 469.0,1066.3 470.5,1066.0 472.0,1065.7 473.4,1065.4 474.9,1065.1 476.4,1064.7 477.8,1064.4 479.3,1064.1 480.8,1063.8 482.2,1063.5 483.7,1063.2 485.2,1062.8 486.6,1062.5 488.1,1062.2 489.6,1061.9 491.0,1061.6 492.5,1061.2 494.0,1060.9 495.4,1060.6 496.9,1060.3 498.4,1060.0 499.9,1059.6 501.3,1059.3 502.8,1059.0 504.3,1058.7 505.7,1058.4 507.2,1058.0 508.7,1057.7 510.1,1057.4 511.6,1057.1 513.1,1056.8 514.6,1056.4 516.0,1056.1 517.5,1055.8 519.0,1055.5 520.4,1055.1 521.9,1054.8 523.4,1054.5 524.9,1054.2 526.3,1053.8 527.8,1053.5 529.3,1053.2 530.7,1052.9 532.2,1052.5 533.7,1052.2 535.2,1051.9 536.6,1051.5 538.1,1051.2 539.6,1050.9 541.0,1050.6 542.5,1050.2 544.0,1049.9 545.4,1049.5 546.9,1049.2 548.4,1048.9 549.9,1048.5 551.3,1048.2 552.8,1047.9 554.3,1047.5 555.7,1047.2 557.2,1046.8 558.7,1046.5 560.1,1046.1 561.6,1045.8 563.1,1045.5 564.5,1045.1 566.0,1044.8 567.5,1044.4 568.9,1044.1 570.4,1043.7 571.9,1043.3 573.3,1043.0 574.8,1042.6 576.2,1042.3 577.7,1041.9 579.2,1041.6 580.6,1041.2 582.1,1040.8 583.5,1040.5 585.0,1040.1 586.5,1039.7 587.9,1039.4 589.4,1039.0 590.8,1038.6 592.3,1038.2 593.7,1037.9 595.2,1037.5 596.6,1037.1 598.1,1036.7 599.5,1036.3 601.0,1035.9 602.4,1035.5 603.9,1035.1 605.3,1034.7 606.8,1034.3 608.2,1033.9 609.6,1033.5 611.1,1033.1 612.5,1032.7 613.9,1032.3 615.4,1031.9 616.8,1031.4 618.2,1031.0 619.7,1030.6 621.1,1030.2 622.5,1029.7 624.0,1029.3 625.4,1028.8 626.8,1028.4 628.2,1027.9 629.6,1027.5 631.0,1027.0 632.5,1026.6 633.9,1026.1 635.3,1025.6 636.7,1025.2 638.1,1024.7 639.5,1024.2 640.9,1023.7 642.3,1023.2 643.7,1022.7 645.1,1022.2 646.5,1021.7 647.9,1021.2 649.3,1020.7 650.7,1020.2 652.1,1019.7 653.5,1019.2 654.8,1018.7 656.2,1018.1 657.6,1017.6 659.0,1017.1 660.4,1016.5 661.8,1016.0 663.1,1015.5 664.5,1014.9 665.9,1014.4 667.3,1013.8 668.6,1013.3 670.0,1012.7 671.4,1012.2 672.8,1011.6 674.1,1011.0 675.5,1010.5 676.9,1009.9 678.2,1009.3 679.6,1008.8 680.9,1008.2 682.3,1007.6 683.7,1007.0 685.0,1006.4 686.4,1005.8 687.7,1005.2 689.1,1004.6 690.5,1004.0 691.8,1003.4 693.2,1002.8 694.5,1002.2 695.9,1001.6 697.2,1001.0 698.6,1000.4 699.9,999.8 701.3,999.2 702.6,998.6 704.0,997.9 705.3,997.3 706.7,996.7 708.0,996.1 709.4,995.4 710.7,994.8 712.1,994.2 713.4,993.5 714.7,992.9 716.1,992.2 717.4,991.6 718.8,991.0 720.1,990.3 721.5,989.7 722.8,989.0 724.1,988.4 725.5,987.7 726.8,987.0 728.2,986.4 729.5,985.7 730.8,985.1 732.2,984.4 733.5,983.7 734.9,983.1 736.2,982.4 737.5,981.7 738.9,981.1 740.2,980.4 741.5,979.7 742.9,979.0 744.2,978.4 745.6,977.7 746.9,977.0 748.2,976.3 749.6,975.6 750.9,975.0 752.2,974.3 753.6,973.6 754.9,972.9 756.3,972.2 757.6,971.5 758.9,970.8 760.3,970.1 761.6,969.5 763.0,968.8 764.3,968.1 765.6,967.4 767.0,966.7 768.3,966.0 769.7,965.3 771.0,964.6 772.3,963.9 773.7,963.2 775.0,962.5 776.4,961.8 777.7,961.1 779.1,960.4 780.4,959.7 781.8,959.0 783.1,958.3 784.4,957.6 785.8,956.9 787.1,956.2 788.5,955.5 789.8,954.8 791.2,954.1 792.5,953.4 793.9,952.7 795.2,952.0 796.6,951.3 797.9,950.6 799.3,949.9 800.6,949.2 802.0,948.5 803.4,947.8 804.7,947.1 806.1,946.5 807.4,945.8 808.8,945.1 810.1,944.4 811.5,943.7 812.8,943.0 814.2,942.3 815.6,941.7 816.9,941.0 818.3,940.3 819.6,939.6 821.0,939.0 822.4,938.3 823.7,937.6 825.1,937.0 826.5,936.3 827.8,935.6 829.2,935.0 830.6,934.3 831.9,933.7 833.3,933.0 834.7,932.4 836.0,931.7 837.4,931.1 838.8,930.5 840.1,929.8 841.5,929.2 842.9,928.6 844.3,928.0 845.6,927.3 847.0,926.7 848.4,926.1 849.8,925.5 851.1,924.9 852.5,924.3 853.9,923.7 855.3,923.1 856.7,922.5 858.1,921.9 859.4,921.3 860.8,920.7 862.2,920.2 863.6,919.6 865.0,919.0 866.4,918.5 867.8,917.9 869.2,917.4 870.5,916.8 871.9,916.3 873.3,915.7 874.7,915.2 876.1,914.7 877.5,914.1 878.9,913.6 880.3,913.1 881.7,912.6 883.1,912.1 884.5,911.6 885.9,911.1 887.3,910.6 888.7,910.1 890.1,909.7 891.5,909.2 892.9,908.7 894.4,908.3 895.8,907.8 897.2,907.4 898.6,906.9 900.0,906.5 901.4,906.1 902.8,905.7 904.3,905.2 905.7,904.8 907.1,904.4 908.5,904.0 909.9,903.6 911.4,903.3 912.8,902.9 914.2,902.5 915.6,902.2 917.1,901.8 918.5,901.5 919.9,901.1 921.4,900.8 922.8,900.5 924.2,900.2 925.7,899.8 927.1,899.5 928.5,899.3 930.0,899.0 931.4,898.7 932.9,898.4 934.3,898.2 935.8,897.9 937.2,897.7 938.6,897.4 940.1,897.2 941.5,897.0 943.0,896.8 944.5,896.6 945.9,896.4 947.4,896.2 948.8,896.0 950.3,895.8 951.7,895.7 953.2,895.5 954.7,895.4 956.1,895.2 957.6,895.1 959.1,895.0 960.5,894.9 962.0,894.8 963.5,894.7 965.0,894.6 966.4,894.6 967.9,894.5 969.4,894.4 970.9,894.4 972.3,894.4 973.8,894.3 975.3,894.3 976.8,894.3 978.3,894.3 979.7,894.3 981.2,894.3 982.7,894.3 984.2,894.3 985.7,894.4 987.2,894.4 988.7,894.5 990.2,894.5 991.7,894.6 993.1,894.7 994.6,894.8 996.1,894.8 997.6,894.9 999.1,895.0 1000.6,895.1 1002.1,895.3 1003.6,895.4 1005.1,895.5 1006.6,895.7 1008.1,895.8 1009.6,896.0 1011.1,896.1 1012.6,896.3 1014.1,896.5 1015.6,896.6 1017.1,896.8 1018.6,897.0 1020.1,897.2 1021.6,897.4 1023.0,897.6 1024.5,897.8 1026.0,898.1 1027.5,898.3 1029.0,898.5 1030.5,898.8 1032.0,899.0 1033.5,899.3 1035.0,899.5 1036.5,899.8 1038.0,900.1 1039.5,900.4 1041.0,900.6 1042.5,900.9 1044.0,901.2 1045.5,901.5 1047.0,901.8 1048.5,902.1 1050.0,902.5 1051.4,902.8 1052.9,903.1 1054.4,903.4 1055.9,903.8 1057.4,904.1 1058.9,904.4 1060.4,904.8 1061.9,905.2 1063.3,905.5 1064.8,905.9 1066.3,906.2 1067.8,906.6 1069.3,907.0 1070.8,907.4 1072.2,907.8 1073.7,908.2 1075.2,908.6 1076.7,908.9 1078.1,909.4 1079.6,909.8 1081.1,910.2 1082.6,910.6 1084.0,911.0 1085.5,911.4 1087.0,911.9 1088.4,912.3 1089.9,912.7 1091.3,913.2 1092.8,913.6 1094.3,914.0 1095.7,914.5 1097.2,914.9 1098.6,915.4 1100.1,915.8 1101.5,916.3 1103.0,916.8 1104.4,917.2 1105.9,917.7 1107.3,918.2 1108.7,918.6 1110.2,919.1 1111.6,919.6 1113.1,920.1 1114.5,920.6 1115.9,921.1 1117.4,921.6 1118.8,922.0 1120.2,922.5 1121.6,923.0 1123.1,923.5 1124.5,924.0 1125.9,924.5 1127.3,925.1 1128.7,925.6 1130.1,926.1 1131.5,926.6 1133.0,927.1 1134.4,927.6 1135.8,928.2 1137.2,928.7 1138.6,929.2 1140.0,929.7 1141.4,930.3 1142.8,930.8 1144.2,931.3 1145.6,931.9 1147.0,932.4 1148.4,933.0 1149.8,933.5 1151.1,934.1 1152.5,934.6 1153.9,935.2 1155.3,935.7 1156.7,936.3 1158.1,936.8 1159.5,937.4 1160.8,938.0 1162.2,938.5 1163.6,939.1 1165.0,939.7 1166.4,940.2 1167.7,940.8 1169.1,941.4 1170.5,941.9 1171.9,942.5 1173.2,943.1 1174.6,943.7 1176.0,944.3 1177.3,944.9 1178.7,945.4 1180.1,946.0 1181.4,946.6 1182.8,947.2 1184.2,947.8 1185.5,948.4 1186.9,949.0 1188.3,949.6 1189.6,950.2 1191.0,950.8 1192.3,951.4 1193.7,952.0 1195.1,952.6 1196.4,953.2 1197.8,953.8 1199.1,954.4 1200.5,955.1 1201.8,955.7 1203.2,956.3 1204.5,956.9 1205.9,957.5 1207.3,958.1 1208.6,958.8 1210.0,959.4 1211.3,960.0 1212.7,960.6 1214.0,961.3 1215.4,961.9 1216.7,962.5 1218.1,963.2 1219.4,963.8 1220.8,964.4 1222.1,965.1 1223.5,965.7 1224.8,966.3 1226.2,967.0 1227.5,967.6 1228.8,968.2 1230.2,968.9 1231.5,969.5 1232.9,970.2 1234.2,970.8 1235.6,971.5 1236.9,972.1 1238.3,972.7 1239.6,973.4 1241.0,974.0 1242.3,974.7 1243.7,975.3 1245.0,976.0 1246.4,976.6 1247.7,977.3 1249.1,978.0 1250.4,978.6 1251.7,979.3 1253.1,979.9 1254.4,980.6 1255.8,981.2 1257.1,981.9 1258.5,982.5 1259.8,983.2 1261.2,983.8 1262.5,984.5 1263.9,985.1 1265.2,985.8 1266.6,986.5 1267.9,987.1 1269.3,987.8 1270.6,988.4 1272.0,989.1 1273.3,989.7 1274.7,990.4 1276.0,991.0 1277.4,991.7 1278.8,992.3 1280.1,993.0 1281.5,993.6 1282.8,994.3 1284.2,994.9 1285.5,995.6 1286.9,996.2 1288.2,996.9 1289.6,997.5 1291.0,998.1 1292.3,998.8 1293.7,999.4 1295.0,1000.1 1296.4,1000.7 1297.8,1001.3 1299.1,1002.0 1300.5,1002.6 1301.9,1003.2 1303.2,1003.8 1304.6,1004.5 1306.0,1005.1 1307.3,1005.7 1308.7,1006.3 1310.1,1006.9 1311.4,1007.6 1312.8,1008.2 1314.2,1008.8 1315.5,1009.4 1316.9,1010.0 1318.3,1010.6 1319.7,1011.2 1321.0,1011.8 1322.4,1012.4 1323.8,1013.0 1325.2,1013.6 1326.6,1014.2 1327.9,1014.8 1329.3,1015.3 1330.7,1015.9 1332.1,1016.5 1333.5,1017.1 1334.9,1017.6 1336.3,1018.2 1337.6,1018.8 1339.0,1019.3 1340.4,1019.9 1341.8,1020.5 1343.2,1021.0 1344.6,1021.6 1346.0,1022.1 1347.4,1022.7 1348.8,1023.2 1350.2,1023.8 1351.6,1024.3 1353.0,1024.8 1354.4,1025.4 1355.8,1025.9 1357.2,1026.4 1358.6,1027.0 1360.0,1027.5 1361.4,1028.0 1362.8,1028.5 1364.2,1029.0 1365.6,1029.5 1367.0,1030.1 1368.4,1030.6 1369.8,1031.1 1371.3,1031.6 1372.7,1032.1 1374.1,1032.6 1375.5,1033.1 1376.9,1033.5 1378.3,1034.0 1379.7,1034.5 1381.2,1035.0 1382.6,1035.5 1384.0,1036.0 1385.4,1036.4 1386.8,1036.9 1388.3,1037.4 1389.7,1037.8 1391.1,1038.3 1392.5,1038.8 1393.9,1039.2 1395.4,1039.7 1396.8,1040.1 1398.2,1040.6 1399.7,1041.0 1401.1,1041.5 1402.5,1041.9 1403.9,1042.4 1405.4,1042.8 1406.8,1043.2 1408.2,1043.7 1409.7,1044.1 1411.1,1044.5 1412.5,1044.9 1414.0,1045.4 1415.4,1045.8 1416.8,1046.2 1418.3,1046.6 1419.7,1047.0 1421.1,1047.4 1422.6,1047.8 1424.0,1048.2 1425.5,1048.6 1426.9,1049.0 1428.3,1049.4 1429.8,1049.8 1431.2,1050.2 1432.7,1050.6 1434.1,1050.9 1435.6,1051.3 1437.0,1051.7 1438.5,1052.1 1439.9,1052.4 1441.4,1052.8 1442.8,1053.2 1444.2,1053.5 1445.7,1053.9 1447.1,1054.3 1448.6,1054.6 1450.0,1055.0 1451.5,1055.3 1453.0,1055.7 1454.4,1056.0 1455.9,1056.4 1457.3,1056.7 1458.8,1057.0 1460.2,1057.4 1461.7,1057.7 1463.1,1058.0 1464.6,1058.4 1466.0,1058.7 1467.5,1059.0 1469.0,1059.3 1470.4,1059.6 1471.9,1060.0 1473.3,1060.3 1474.8,1060.6 1476.3,1060.9 1477.7,1061.2 1479.2,1061.5 1480.7,1061.8 1482.1,1062.1 1483.6,1062.4 1485.0,1062.7 1486.5,1063.0 1488.0,1063.3 1489.4,1063.6 1490.9,1063.8 1492.4,1064.1 1493.8,1064.4 1495.3,1064.7 1496.8,1065.0 1498.2,1065.2 1499.7,1065.5 1501.2,1065.8 1502.7,1066.0 1504.1,1066.3 1505.6,1066.6 1507.1,1066.8 1508.5,1067.1 1510.0,1067.4 1511.5,1067.6 1513.0,1067.9 1514.4,1068.1 1515.9,1068.4 1517.4,1068.6 1518.9,1068.8 1520.3,1069.1 1521.8,1069.3 1523.3,1069.6 1524.8,1069.8 1526.2,1070.0 1527.7,1070.3 1529.2,1070.5 1530.7,1070.7 1532.2,1071.0 1533.6,1071.2 1535.1,1071.4 1536.6,1071.6 1538.1,1071.8 1539.6,1072.1 1541.1,1072.3 1542.5,1072.5 1544.0,1072.7 1545.5,1072.9 1547.0,1073.1 1548.5,1073.3 1550.0,1073.5 1551.4,1073.7 1552.9,1073.9 1554.4,1074.1 1555.9,1074.3 1557.4,1074.5 1558.9,1074.7 1560.4,1074.9 1561.8,1075.1 1563.3,1075.3 1564.8,1075.5 1566.3,1075.6 1567.8,1075.8 1569.3,1076.0 1570.8,1076.2 1572.3,1076.4 1573.8,1076.5 1575.2,1076.7 1576.7,1076.9 1578.2,1077.1 1579.7,1077.2 1581.2,1077.4 1582.7,1077.6 1584.2,1077.7 1585.7,1077.9 1587.2,1078.1 1588.7,1078.2 1590.2,1078.4 1591.7,1078.5 1593.2,1078.7 1594.6,1078.8 1596.1,1079.0 1597.6,1079.1 1599.1,1079.3 1600.6,1079.4 1602.1,1079.6 1603.6,1079.7 1605.1,1079.9 1606.6,1080.0 1608.1,1080.2 1609.6,1080.3 1611.1,1080.5 1612.6,1080.6 1614.1,1080.7 1615.6,1080.9 1617.1,1081.0 1618.6,1081.1 1620.1,1081.3 1621.6,1081.4 1623.1,1081.5 1624.6,1081.6 1626.1,1081.8 1627.6,1081.9 1629.1,1082.0 1630.6,1082.1 1632.1,1082.3 1633.6,1082.4 1635.1,1082.5 1636.6,1082.6 1638.1,1082.7 1639.6,1082.9 1641.1,1083.0 1642.6,1083.1 1644.1,1083.2 1645.6,1083.3 1647.1,1083.4 1648.6,1083.5 1650.1,1083.6 1651.6,1083.7 1653.1,1083.8 1654.6,1083.9 1656.1,1084.1 1657.6,1084.2 1659.1,1084.3 1660.6,1084.4 1662.1,1084.5 1663.6,1084.6 1665.1,1084.7 1666.6,1084.7 1668.1,1084.8 1669.6,1084.9 1671.1,1085.0 1672.7,1085.1 1674.2,1085.2 1675.7,1085.3 1677.2,1085.4 1678.7,1085.5 1680.2,1085.6 1681.7,1085.7 1683.2,1085.8 1684.7,1085.8 1686.2,1085.9 1687.7,1086.0 1689.2,1086.1 1690.7,1086.2 1692.2,1086.3 1693.7,1086.3 1695.2,1086.4 1696.7,1086.5 1698.2,1086.6 1699.7,1086.7 1701.2,1086.7 1702.8,1086.8 1704.3,1086.9 1705.8,1087.0 1707.3,1087.1 1708.8,1087.1 1710.3,1087.2 1711.8,1087.3 1713.3,1087.4 1714.8,1087.4 1716.3,1087.5 1717.8,1087.6 1719.3,1087.6 1720.8,1087.7 1722.3,1087.8 1723.8,1087.9 1725.3,1087.9 1726.8,1088.0 1728.4,1088.1 1729.9,1088.1 1731.4,1088.2 1732.9,1088.3 1734.4,1088.3 1735.9,1088.4 1737.4,1088.5 1738.9,1088.5 1740.4,1088.6 1741.9,1088.7 1743.4,1088.7 1744.9,1088.8 1746.4,1088.9 1747.9,1088.9 1749.4,1089.0 1750.9,1089.0 1752.4,1089.1 1753.9,1089.2 1755.5,1089.2 1757.0,1089.3 1758.5,1089.4 1760.0,1089.4 1761.5,1089.5 1763.0,1089.5 1764.5,1089.6 1766.0,1089.7 1767.5,1089.7 1769.0,1089.8 1770.5,1089.8 1772.0,1089.9 1773.5,1090.0 1775.0,1090.0 1776.5,1090.1 1778.0,1090.1 1779.5,1090.2 1781.0,1090.3 1782.5,1090.3 1784.0,1090.4 1785.5,1090.4 1787.0,1090.5 1788.5,1090.5 1790.0,1090.6 1791.5,1090.7 1793.0,1090.7 1794.5,1090.8 1796.0,1090.8 1797.5,1090.9 1799.1,1091.0 1800.6,1091.0 1802.1,1091.1 1803.6,1091.1 1805.1,1091.2 1806.6,1091.3 1808.1,1091.3 1809.6,1091.4 1811.1,1091.4 1812.6,1091.5 1814.1,1091.6 1815.6,1091.6 1817.1,1091.7 1818.6,1091.7 1820.0,1091.8 1821.5,1091.9 1823.0,1091.9 1824.5,1092.0 1826.0,1092.0 1827.5,1092.1 1829.0,1092.2 1830.5,1092.2 1832.0,1092.3 1833.5,1092.4 1835.0,1092.4 1836.5,1092.5 1838.0,1092.6 1839.5,1092.6 1841.0,1092.7 1842.5,1092.8 1844.0,1092.8 1845.5,1092.9 1847.0,1092.9 1848.5,1093.0 1850.0,1093.1 1851.5,1093.2 1853.0,1093.2 1854.4,1093.3 1855.9,1093.4 1857.4,1093.4 1858.9,1093.5 1860.4,1093.6 1861.9,1093.6 1863.4,1093.7 1864.9,1093.8 1866.4,1093.9 1867.9,1093.9 1869.4,1094.0 1870.8,1094.1 1872.3,1094.2 1873.8,1094.2 1875.3,1094.3 1876.8,1094.4 1878.3,1094.5 1879.8,1094.6 1881.3,1094.6 1882.7,1094.7 1884.2,1094.8 1885.7,1094.9 1887.2,1095.0 1888.7,1095.0 1890.2,1095.1 1891.7,1095.2 1893.1,1095.3 1894.6,1095.4 1896.1,1095.5 1897.6,1095.6 1899.1,1095.6 1900.5,1095.7 1902.0,1095.8 1903.5,1095.9 1905.0,1096.0" style="fill:none;stroke:#c6cb74;stroke-width:4.7;stroke-linejoin:round"/>
<path d="M693.9,1077.8 694.4,1076.4 694.9,1075.0 695.4,1073.5 695.9,1072.1 696.3,1070.7 696.8,1069.3 697.3,1067.8 697.8,1066.4 698.3,1065.0 698.8,1063.6 699.2,1062.1 699.7,1060.7 700.2,1059.3 700.7,1057.9 701.2,1056.4 701.6,1055.0 702.1,1053.6 702.6,1052.2 703.1,1050.7 703.5,1049.3 704.0,1047.9 704.5,1046.4 705.0,1045.0 705.4,1043.6 705.9,1042.2 706.4,1040.7 706.9,1039.3 707.3,1037.9 707.8,1036.5 708.3,1035.0 708.8,1033.6 709.2,1032.2 709.7,1030.8 710.2,1029.3 710.6,1027.9 711.1,1026.5 711.6,1025.1 712.0,1023.6 712.5,1022.2 713.0,1020.8 713.4,1019.4 713.9,1017.9 714.4,1016.5 714.8,1015.1 715.3,1013.6 715.8,1012.2 716.2,1010.8 716.7,1009.4 717.2,1007.9 717.6,1006.5 718.1,1005.1 718.5,1003.7 719.0,1002.2 719.5,1000.8 719.9,999.4 720.4,998.0 720.8,996.5 721.3,995.1 721.8,993.7 722.2,992.2 722.7,990.8 723.1,989.4 723.6,988.0 724.0,986.5 724.5,985.1 725.0,983.7 725.4,982.3 725.9,980.8 726.3,979.4 726.8,978.0 727.2,976.5 727.7,975.1 728.1,973.7 728.6,972.3 729.1,970.8 729.5,969.4 730.0,968.0 730.4,966.6 730.9,965.1 731.3,963.7 731.8,962.3 732.2,960.8 732.7,959.4 733.1,958.0 733.6,956.6 734.0,955.1 734.5,953.7 734.9,952.3 735.4,950.9 735.8,949.4 736.3,948.0 736.7,946.6 737.2,945.1 737.6,943.7 738.1,942.3 738.5,940.9 738.9,939.4 739.4,938.0 739.8,936.6 740.3,935.1 740.7,933.7 741.2,932.3 741.6,930.9 742.1,929.4 742.5,928.0 743.0,926.6 743.4,925.1 743.8,923.7 744.3,922.3 744.7,920.9 745.2,919.4 745.6,918.0 746.1,916.6 746.5,915.1 747.0,913.7 747.4,912.3 747.8,910.9 748.3,909.4 748.7,908.0 749.2,906.6 749.6,905.1 750.1,903.7 750.5,902.3 750.9,900.8 751.4,899.4 751.8,898.0 752.3,896.6 752.7,895.1 753.1,893.7 753.6,892.3 754.0,890.8 754.5,889.4 754.9,888.0 755.3,886.6 755.8,885.1 756.2,883.7 756.7,882.3 757.1,880.8 757.5,879.4 758.0,878.0 758.4,876.5 758.9,875.1 759.3,873.7 759.7,872.2 760.2,870.8 760.6,869.4 761.1,868.0 761.5,866.5 761.9,865.1 762.4,863.7 762.8,862.2 763.2,860.8 763.7,859.4 764.1,857.9 764.6,856.5 765.0,855.1 765.4,853.6 765.9,852.2 766.3,850.8 766.8,849.4 767.2,847.9 767.6,846.5 768.1,845.1 768.5,843.6 768.9,842.2 769.4,840.8 769.8,839.3 770.3,837.9 770.7,836.5 771.1,835.0 771.6,833.6 772.0,832.2 772.4,830.7 772.9,829.3 773.3,827.9 773.8,826.4 774.2,825.0 774.6,823.6 775.1,822.1 775.5,820.7 776.0,819.3 776.4,817.8 776.8,816.4 777.3,815.0 777.7,813.6 778.1,812.1 778.6,810.7 779.0,809.3 779.5,807.8 779.9,806.4 780.3,805.0 780.8,803.5 781.2,802.1 781.7,800.7 782.1,799.2 782.5,797.8 783.0,796.4 783.4,794.9 783.9,793.5 784.3,792.1 784.7,790.6 785.2,789.2 785.6,787.8 786.1,786.3 786.5,784.9 786.9,783.4 787.4,782.0 787.8,780.6 788.3,779.1 788.7,777.7 789.1,776.3 789.6,774.8 790.0,773.4 790.5,772.0 790.9,770.5 791.4,769.1 791.8,767.7 792.2,766.2 792.7,764.8 793.1,763.4 793.6,761.9 794.0,760.5 794.5,759.1 794.9,757.6 795.3,756.2 795.8,754.8 796.2,753.3 796.7,751.9 797.1,750.4 797.6,749.0 798.0,747.6 798.4,746.1 798.9,744.7 799.3,743.3 799.8,741.8 800.2,740.4 800.7,739.0 801.1,737.5 801.6,736.1 802.0,734.6 802.5,733.2 802.9,731.8 803.4,730.3 803.8,728.9 804.3,727.5 804.7,726.0 805.2,724.6 805.6,723.2 806.0,721.7 806.5,720.3 806.9,718.8 807.4,717.4 807.8,716.0 808.3,714.5 808.7,713.1 809.2,711.7 809.6,710.2 810.1,708.8 810.5,707.4 811.0,705.9 811.4,704.5 811.9,703.0 812.3,701.6 812.8,700.2 813.2,698.7 813.7,697.3 814.1,695.9 814.6,694.4 815.0,693.0 815.5,691.5 815.9,690.1 816.4,688.7 816.8,687.2 817.3,685.8 817.7,684.4 818.2,682.9 818.6,681.5 819.1,680.1 819.5,678.6 820.0,677.2 820.4,675.7 820.9,674.3 821.3,672.9 821.8,671.4 822.2,670.0 822.7,668.6 823.1,667.1 823.5,665.7 824.0,664.3 824.4,662.8 824.9,661.4 825.3,660.0 825.8,658.5 826.2,657.1 826.7,655.6 827.1,654.2 827.6,652.8 828.0,651.3 828.5,649.9 828.9,648.5 829.3,647.0 829.8,645.6 830.2,644.2 830.7,642.7 831.1,641.3 831.6,639.9 832.0,638.4 832.5,637.0 832.9,635.6 833.3,634.1 833.8,632.7 834.2,631.3 834.7,629.8 835.1,628.4 835.5,627.0 836.0,625.5 836.4,624.1 836.9,622.7 837.3,621.2 837.7,619.8 838.2,618.4 838.6,616.9 839.1,615.5 839.5,614.1 839.9,612.7 840.4,611.2 840.8,609.8 841.2,608.4 841.7,606.9 842.1,605.5 842.5,604.1 843.0,602.6 843.4,601.2 843.8,599.8 844.3,598.4 844.7,596.9 845.1,595.5 845.6,594.1 846.0,592.6 846.4,591.2 846.9,589.8 847.3,588.4 847.7,586.9 848.1,585.5 848.6,584.1 849.0,582.6 849.4,581.2 849.9,579.8 850.3,578.4 850.7,576.9 851.1,575.5 851.6,574.1 852.0,572.7 852.4,571.2 852.8,569.8 853.2,568.4 853.7,567.0 854.1,565.6 854.5,564.1 854.9,562.7 855.3,561.3 855.7,559.9 856.2,558.4 856.6,557.0 857.0,555.6 857.4,554.2 857.8,552.8 858.2,551.3 858.6,549.9 859.1,548.5 859.5,547.1 859.9,545.7 860.3,544.2 860.7,542.8 861.1,541.4 861.5,540.0 861.9,538.6 862.3,537.1 862.7,535.7 863.2,534.3 863.6,532.9 864.0,531.5 864.4,530.1 864.8,528.6 865.2,527.2 865.6,525.8 866.0,524.4 866.4,523.0 866.9,521.6 867.3,520.1 867.7,518.7 868.1,517.3 868.5,515.9 869.0,514.5 869.4,513.1 869.8,511.6 870.2,510.2 870.7,508.8 871.1,507.4 871.5,506.0 871.9,504.6 872.4,503.2 872.8,501.7 873.3,500.3 873.7,498.9 874.1,497.5 874.6,496.1 875.0,494.7 875.5,493.2 876.0,491.8 876.4,490.4 876.9,489.0 877.3,487.6 877.8,486.2 878.3,484.7 878.8,483.3 879.2,481.9 879.7,480.5 880.2,479.1 880.7,477.6 881.2,476.2 881.7,474.8 882.2,473.4 882.7,472.0 883.2,470.5 883.7,469.1 884.2,467.7 884.7,466.3 885.3,464.9 885.8,463.4 886.3,462.0 886.9,460.6 887.4,459.2 888.0,457.7 888.5,456.3 889.1,454.9 889.7,453.5 890.2,452.1 890.8,450.6 891.4,449.2 892.0,447.8 892.6,446.3 893.2,444.9 893.8,443.5 894.4,442.1 895.0,440.6 895.6,439.2 896.3,437.8 896.9,436.3 897.5,434.9 898.2,433.5 898.8,432.0 899.5,430.6 900.2,429.2 900.8,427.7 901.5,426.3 902.2,424.9 902.9,423.4 903.6,422.0 904.3,420.6 905.0,419.1 905.8,417.7 906.5,416.3 907.2,414.8 908.0,413.4 908.7,411.9 909.5,410.5 910.3,409.1 911.0,407.7 911.8,406.2 912.6,404.8 913.4,403.4 914.2,402.0 915.1,400.6 915.9,399.2 916.7,397.8 917.6,396.4 918.4,395.1 919.3,393.7 920.1,392.3 921.0,391.0 921.9,389.6 922.8,388.3 923.7,387.0 924.6,385.7 925.5,384.4 926.4,383.1 927.4,381.8 928.3,380.5 929.3,379.3 930.2,378.1 931.2,376.8 932.2,375.6 933.2,374.4 934.2,373.3 935.2,372.1 936.2,370.9 937.2,369.8 938.3,368.7 939.3,367.6 940.4,366.5 941.5,365.5 942.5,364.4 943.6,363.4 944.7,362.4 945.8,361.4 946.9,360.5 948.1,359.6 949.2,358.6 950.3,357.7 951.5,356.9 952.7,356.0 953.8,355.2 955.0,354.4 956.2,353.6 957.4,352.9 958.6,352.2 959.9,351.5 961.1,350.8 962.4,350.2 963.6,349.5 964.9,349.0 966.2,348.4 967.5,347.9 968.8,347.4 970.1,346.9 971.4,346.4 972.7,346.0 974.1,345.7 975.4,345.3 976.8,345.0 978.2,344.7 979.6,344.4 981.0,344.2 982.3,344.0 983.7,343.8 985.2,343.6 986.6,343.5 988.0,343.4 989.4,343.3 990.8,343.3 992.3,343.3 993.7,343.3 995.1,343.3 996.6,343.4 998.0,343.5 999.4,343.6 1000.9,343.8 1002.3,343.9 1003.7,344.1 1005.2,344.4 1006.6,344.6 1008.1,344.9 1009.5,345.2 1010.9,345.5 1012.4,345.9 1013.8,346.2 1015.2,346.6 1016.6,347.1 1018.0,347.5 1019.4,348.0 1020.8,348.5 1022.2,349.0 1023.6,349.5 1025.0,350.1 1026.3,350.7 1027.7,351.3 1029.1,351.9 1030.4,352.6 1031.8,353.3 1033.1,354.0 1034.4,354.7 1035.8,355.4 1037.1,356.2 1038.4,356.9 1039.7,357.7 1041.0,358.5 1042.3,359.3 1043.5,360.2 1044.8,361.0 1046.1,361.9 1047.4,362.8 1048.6,363.7 1049.9,364.6 1051.1,365.5 1052.3,366.4 1053.6,367.4 1054.8,368.3 1056.0,369.3 1057.2,370.3 1058.4,371.2 1059.6,372.2 1060.8,373.2 1062.0,374.2 1063.1,375.3 1064.3,376.3 1065.5,377.3 1066.6,378.4 1067.8,379.4 1068.9,380.5 1070.0,381.5 1071.1,382.6 1072.3,383.6 1073.4,384.7 1074.5,385.8 1075.6,386.9 1076.7,387.9 1077.8,389.0 1078.8,390.1 1079.9,391.2 1081.0,392.3 1082.1,393.4 1083.1,394.5 1084.2,395.6 1085.2,396.7 1086.3,397.8 1087.3,399.0 1088.4,400.1 1089.4,401.2 1090.4,402.3 1091.5,403.4 1092.5,404.6 1093.5,405.7 1094.6,406.8 1095.6,407.9 1096.6,409.1 1097.6,410.2 1098.6,411.3 1099.6,412.5 1100.6,413.6 1101.6,414.8 1102.6,415.9 1103.6,417.0 1104.6,418.2 1105.6,419.3 1106.6,420.5 1107.6,421.6 1108.5,422.8 1109.5,424.0 1110.5,425.1 1111.5,426.3 1112.4,427.4 1113.4,428.6 1114.4,429.8 1115.3,430.9 1116.3,432.1 1117.2,433.3 1118.2,434.4 1119.1,435.6 1120.1,436.8 1121.0,438.0 1122.0,439.1 1122.9,440.3 1123.8,441.5 1124.8,442.7 1125.7,443.9 1126.6,445.0 1127.6,446.2 1128.5,447.4 1129.4,448.6 1130.3,449.8 1131.2,451.0 1132.2,452.2 1133.1,453.4 1134.0,454.6 1134.9,455.8 1135.8,457.0 1136.7,458.2 1137.6,459.4 1138.5,460.6 1139.4,461.8 1140.3,463.0 1141.2,464.2 1142.1,465.4 1143.0,466.6 1143.9,467.8 1144.8,469.0 1145.6,470.2 1146.5,471.4 1147.4,472.6 1148.3,473.9 1149.2,475.1 1150.0,476.3 1150.9,477.5 1151.8,478.7 1152.7,479.9 1153.5,481.2 1154.4,482.4 1155.3,483.6 1156.1,484.8 1157.0,486.1 1157.9,487.3 1158.7,488.5 1159.6,489.7 1160.4,491.0 1161.3,492.2 1162.2,493.4 1163.0,494.6 1163.9,495.9 1164.7,497.1 1165.6,498.3 1166.4,499.6 1167.3,500.8 1168.1,502.0 1168.9,503.3 1169.8,504.5 1170.6,505.7 1171.5,507.0 1172.3,508.2 1173.2,509.5 1174.0,510.7 1174.8,511.9 1175.7,513.2 1176.5,514.4 1177.3,515.7 1178.2,516.9 1179.0,518.1 1179.8,519.4 1180.7,520.6 1181.5,521.9 1182.3,523.1 1183.2,524.4 1184.0,525.6 1184.8,526.8 1185.6,528.1 1186.5,529.3 1187.3,530.6 1188.1,531.8 1188.9,533.1 1189.8,534.3 1190.6,535.6 1191.4,536.8 1192.2,538.1 1193.1,539.3 1193.9,540.6 1194.7,541.8 1195.5,543.0 1196.3,544.3 1197.2,545.5 1198.0,546.8 1198.8,548.0 1199.6,549.3 1200.4,550.5 1201.3,551.8 1202.1,553.0 1202.9,554.3 1203.7,555.5 1204.5,556.8 1205.4,558.0 1206.2,559.3 1207.0,560.5 1207.8,561.8 1208.6,563.0 1209.5,564.3 1210.3,565.5 1211.1,566.8 1211.9,568.0 1212.7,569.3 1213.6,570.5 1214.4,571.8 1215.2,573.0 1216.0,574.3 1216.8,575.5 1217.7,576.8 1218.5,578.0 1219.3,579.3 1220.1,580.5 1220.9,581.7 1221.8,583.0 1222.6,584.2 1223.4,585.5 1224.2,586.7 1225.1,588.0 1225.9,589.2 1226.7,590.5 1227.5,591.7 1228.4,592.9 1229.2,594.2 1230.0,595.4 1230.9,596.7 1231.7,597.9 1232.5,599.1 1233.4,600.4 1234.2,601.6 1235.0,602.9 1235.9,604.1 1236.7,605.3 1237.5,606.6 1238.4,607.8 1239.2,609.0 1240.0,610.3 1240.9,611.5 1241.7,612.7 1242.6,614.0 1243.4,615.2 1244.3,616.4 1245.1,617.7 1246.0,618.9 1246.8,620.1 1247.7,621.3 1248.5,622.6 1249.4,623.8 1250.2,625.0 1251.1,626.2 1251.9,627.5 1252.8,628.7 1253.6,629.9 1254.5,631.1 1255.4,632.4 1256.2,633.6 1257.1,634.8 1257.9,636.0 1258.8,637.2 1259.7,638.4 1260.5,639.7 1261.4,640.9 1262.3,642.1 1263.2,643.3 1264.0,644.5 1264.9,645.7 1265.8,646.9 1266.7,648.1 1267.5,649.3 1268.4,650.6 1269.3,651.8 1270.2,653.0 1271.1,654.2 1271.9,655.4 1272.8,656.6 1273.7,657.8 1274.6,659.0 1275.5,660.2 1276.4,661.4 1277.3,662.6 1278.1,663.8 1279.0,665.0 1279.9,666.2 1280.8,667.4 1281.7,668.6 1282.6,669.8 1283.5,671.0 1284.4,672.2 1285.3,673.4 1286.2,674.6 1287.1,675.8 1288.0,676.9 1288.9,678.1 1289.8,679.3 1290.7,680.5 1291.6,681.7 1292.5,682.9 1293.5,684.1 1294.4,685.3 1295.3,686.4 1296.2,687.6 1297.1,688.8 1298.0,690.0 1298.9,691.2 1299.9,692.4 1300.8,693.5 1301.7,694.7 1302.6,695.9 1303.5,697.1 1304.5,698.3 1305.4,699.4 1306.3,700.6 1307.2,701.8 1308.2,703.0 1309.1,704.1 1310.0,705.3 1310.9,706.5 1311.9,707.7 1312.8,708.8 1313.7,710.0 1314.7,711.2 1315.6,712.3 1316.5,713.5 1317.5,714.7 1318.4,715.8 1319.3,717.0 1320.3,718.2 1321.2,719.3 1322.2,720.5 1323.1,721.7 1324.0,722.8 1325.0,724.0 1325.9,725.2 1326.9,726.3 1327.8,727.5 1328.8,728.6 1329.7,729.8 1330.7,731.0 1331.6,732.1 1332.6,733.3 1333.5,734.4 1334.5,735.6 1335.4,736.7 1336.4,737.9 1337.4,739.0 1338.3,740.2 1339.3,741.3 1340.2,742.5 1341.2,743.6 1342.1,744.8 1343.1,745.9 1344.1,747.1 1345.0,748.2 1346.0,749.4 1347.0,750.5 1347.9,751.7 1348.9,752.8 1349.9,754.0 1350.8,755.1 1351.8,756.3 1352.8,757.4 1353.8,758.5 1354.7,759.7 1355.7,760.8 1356.7,762.0 1357.6,763.1 1358.6,764.2 1359.6,765.4 1360.6,766.5 1361.6,767.7 1362.5,768.8 1363.5,769.9 1364.5,771.1 1365.5,772.2 1366.5,773.3 1367.4,774.5 1368.4,775.6 1369.4,776.7 1370.4,777.9 1371.4,779.0 1372.4,780.1 1373.4,781.2 1374.4,782.4 1375.3,783.5 1376.3,784.6 1377.3,785.8 1378.3,786.9 1379.3,788.0 1380.3,789.1 1381.3,790.3 1382.3,791.4 1383.3,792.5 1384.3,793.6 1385.3,794.7 1386.3,795.9 1387.3,797.0 1388.3,798.1 1389.3,799.2 1390.3,800.3 1391.3,801.5 1392.3,802.6 1393.3,803.7 1394.3,804.8 1395.3,805.9 1396.3,807.0 1397.3,808.2 1398.4,809.3 1399.4,810.4 1400.4,811.5 1401.4,812.6 1402.4,813.7 1403.4,814.8 1404.4,815.9 1405.4,817.0 1406.4,818.2 1407.5,819.3 1408.5,820.4 1409.5,821.5 1410.5,822.6 1411.5,823.7 1412.5,824.8 1413.6,825.9 1414.6,827.0 1415.6,828.1 1416.6,829.2 1417.7,830.3 1418.7,831.4 1419.7,832.5 1420.7,833.6 1421.8,834.7 1422.8,835.8 1423.8,836.9 1424.8,838.0 1425.9,839.1 1426.9,840.2 1427.9,841.3 1428.9,842.4 1430.0,843.5 1431.0,844.6 1432.0,845.7 1433.1,846.8 1434.1,847.9 1435.1,849.0 1436.2,850.1 1437.2,851.1 1438.2,852.2 1439.3,853.3 1440.3,854.4 1441.4,855.5 1442.4,856.6 1443.4,857.7 1444.5,858.8 1445.5,859.9 1446.6,860.9 1447.6,862.0 1448.6,863.1 1449.7,864.2 1450.7,865.3 1451.8,866.4 1452.8,867.4 1453.9,868.5 1454.9,869.6 1455.9,870.7 1457.0,871.8 1458.0,872.9 1459.1,873.9 1460.1,875.0 1461.2,876.1 1462.2,877.2 1463.3,878.3 1464.3,879.3 1465.4,880.4 1466.4,881.5 1467.5,882.6 1468.5,883.6 1469.6,884.7 1470.7,885.8 1471.7,886.9 1472.8,887.9 1473.8,889.0 1474.9,890.1 1475.9,891.1 1477.0,892.2 1478.1,893.3 1479.1,894.3 1480.2,895.4 1481.2,896.5 1482.3,897.5 1483.4,898.6 1484.4,899.7 1485.5,900.7 1486.6,901.8 1487.6,902.8 1488.7,903.9 1489.8,904.9 1490.9,906.0 1491.9,907.0 1493.0,908.1 1494.1,909.1 1495.2,910.2 1496.2,911.2 1497.3,912.3 1498.4,913.3 1499.5,914.4 1500.6,915.4 1501.7,916.4 1502.7,917.5 1503.8,918.5 1504.9,919.5 1506.0,920.6 1507.1,921.6 1508.2,922.6 1509.3,923.6 1510.4,924.7 1511.5,925.7 1512.6,926.7 1513.7,927.7 1514.8,928.7 1515.9,929.8 1517.0,930.8 1518.1,931.8 1519.2,932.8 1520.3,933.8 1521.4,934.8 1522.6,935.8 1523.7,936.8 1524.8,937.8 1525.9,938.8 1527.0,939.7 1528.2,940.7 1529.3,941.7 1530.4,942.7 1531.6,943.7 1532.7,944.6 1533.8,945.6 1535.0,946.6 1536.1,947.5 1537.2,948.5 1538.4,949.5 1539.5,950.4 1540.7,951.4 1541.8,952.3 1543.0,953.3 1544.1,954.2 1545.3,955.2 1546.4,956.1 1547.6,957.1 1548.8,958.0 1549.9,958.9 1551.1,959.8 1552.3,960.8 1553.4,961.7 1554.6,962.6 1555.8,963.5 1557.0,964.4 1558.2,965.3 1559.3,966.2 1560.5,967.1 1561.7,968.0 1562.9,968.9 1564.1,969.8 1565.3,970.7 1566.5,971.6 1567.7,972.5 1568.9,973.3 1570.1,974.2 1571.3,975.1 1572.5,976.0 1573.7,976.8 1575.0,977.7 1576.2,978.5 1577.4,979.4 1578.6,980.2 1579.8,981.1 1581.1,981.9 1582.3,982.8 1583.5,983.6 1584.8,984.4 1586.0,985.3 1587.2,986.1 1588.5,986.9 1589.7,987.7 1591.0,988.5 1592.2,989.4 1593.5,990.2 1594.7,991.0 1596.0,991.8 1597.2,992.6 1598.5,993.4 1599.8,994.2 1601.0,995.0 1602.3,995.7 1603.5,996.5 1604.8,997.3 1606.1,998.1 1607.4,998.9 1608.6,999.6 1609.9,1000.4 1611.2,1001.2 1612.5,1001.9 1613.8,1002.7 1615.0,1003.4 1616.3,1004.2 1617.6,1004.9 1618.9,1005.7 1620.2,1006.4 1621.5,1007.2 1622.8,1007.9 1624.1,1008.6 1625.4,1009.4 1626.7,1010.1 1628.0,1010.8 1629.3,1011.5 1630.6,1012.3 1631.9,1013.0 1633.2,1013.7 1634.6,1014.4 1635.9,1015.1 1637.2,1015.8 1638.5,1016.5 1639.8,1017.2 1641.2,1017.9 1642.5,1018.6 1643.8,1019.3 1645.1,1020.0 1646.5,1020.7 1647.8,1021.3 1649.1,1022.0 1650.5,1022.7 1651.8,1023.4 1653.1,1024.0 1654.5,1024.7 1655.8,1025.4 1657.2,1026.0 1658.5,1026.7 1659.9,1027.3 1661.2,1028.0 1662.6,1028.6 1663.9,1029.3 1665.3,1029.9 1666.6,1030.6 1668.0,1031.2 1669.3,1031.9 1670.7,1032.5 1672.0,1033.1 1673.4,1033.7 1674.8,1034.4 1676.1,1035.0 1677.5,1035.6 1678.9,1036.2 1680.2,1036.8 1681.6,1037.5 1683.0,1038.1 1684.4,1038.7 1685.7,1039.3 1687.1,1039.9 1688.5,1040.5 1689.9,1041.1 1691.2,1041.7 1692.6,1042.2 1694.0,1042.8 1695.4,1043.4 1696.8,1044.0 1698.2,1044.6 1699.6,1045.2 1701.0,1045.7 1702.3,1046.3 1703.7,1046.9 1705.1,1047.4 1706.5,1048.0 1707.9,1048.6 1709.3,1049.1 1710.7,1049.7 1712.1,1050.2 1713.5,1050.8 1714.9,1051.3 1716.3,1051.9 1717.7,1052.4 1719.1,1053.0 1720.5,1053.5 1721.9,1054.0 1723.3,1054.6 1724.8,1055.1 1726.2,1055.6 1727.6,1056.2 1729.0,1056.7 1730.4,1057.2 1731.8,1057.7 1733.2,1058.2 1734.7,1058.8 1736.1,1059.3 1737.5,1059.8 1738.9,1060.3 1740.3,1060.8 1741.8,1061.3 1743.2,1061.8 1744.6,1062.3 1746.0,1062.8 1747.5,1063.3 1748.9,1063.8 1750.3,1064.3 1751.7,1064.8 1753.2,1065.2 1754.6,1065.7 1756.0,1066.2 1757.5,1066.7 1758.9,1067.2 1760.3,1067.6 1761.8,1068.1 1763.2,1068.6 1764.6,1069.0 1766.1,1069.5 1767.5,1070.0 1768.9,1070.4 1770.4,1070.9 1771.8,1071.3 1773.2,1071.8 1774.7,1072.3 1776.1,1072.7 1777.6,1073.2 1779.0,1073.6 1780.5,1074.0 1781.9,1074.5 1783.3,1074.9 1784.8,1075.4 1786.2,1075.8 1787.7,1076.2 1789.1,1076.7 1790.6,1077.1 1792.0,1077.5 1793.5,1077.9 1794.9,1078.4 1796.4,1078.8 1797.8,1079.2 1799.3,1079.6 1800.7,1080.0 1802.2,1080.4 1803.6,1080.9 1805.1,1081.3 1806.5,1081.7 1808.0,1082.1 1809.4,1082.5 1810.9,1082.9 1812.3,1083.3 1813.8,1083.7 1815.2,1084.1 1816.7,1084.5 1818.2,1084.9 1819.6,1085.2 1821.1,1085.6 1822.5,1086.0 1824.0,1086.4 1825.4,1086.8 1826.9,1087.2 1828.4,1087.5 1829.8,1087.9 1831.3,1088.3 1832.7,1088.7 1834.2,1089.0 1835.7,1089.4 1837.1,1089.8 1838.6,1090.1 1840.0,1090.5 1841.5,1090.9 1842.9,1091.2 1844.4,1091.6 1845.9,1091.9 1847.3,1092.3 1848.8,1092.6 1850.2,1093.0 1851.7,1093.4 1853.2,1093.7 1854.6,1094.0 1856.1,1094.4 1857.6,1094.7 1859.0,1095.1 1860.5,1095.4 1861.9,1095.8 1863.4,1096.1 1864.9,1096.4 1866.3,1096.8 1867.8,1097.1 1869.2,1097.4 1870.7,1097.7 1872.2,1098.1 1873.6,1098.4 1875.1,1098.7 1876.5,1099.0 1878.0,1099.4 1879.5,1099.7 1880.9,1100.0 1882.4,1100.3 1883.8,1100.6 1885.3,1100.9 1886.8,1101.3 1888.2,1101.6 1889.7,1101.9 1891.1,1102.2 1892.6,1102.5 1894.0,1102.8 1895.5,1103.1 1897.0,1103.4 1898.4,1103.7 1899.9,1104.0 1901.3,1104.3 1902.8,1104.6 1904.2,1104.9 1905.7,1105.2 1907.2,1105.5 1908.6,1105.8 1910.1,1106.0 1911.5,1106.3 1913.0,1106.6 1914.4,1106.9 1915.9,1107.2 1917.3,1107.5 1918.8,1107.7 1920.2,1108.0 1921.7,1108.3 1923.1,1108.6 1924.6,1108.9 1926.0,1109.1 1927.5,1109.4" style="fill:none;stroke:#ba8b66;stroke-width:5.2;stroke-linejoin:round"/>
<path d="M269.0,1098.4 270.7,1098.6 272.5,1098.7 274.2,1098.8 275.9,1098.8 277.5,1098.7 279.1,1098.6 280.6,1098.4 282.1,1098.1 283.6,1097.8 285.0,1097.4 286.4,1096.9 287.7,1096.4 289.1,1095.8 290.3,1095.2 291.6,1094.5 292.8,1093.8 293.9,1093.0 295.1,1092.2 296.2,1091.3 297.3,1090.4 298.3,1089.4 299.3,1088.5 300.3,1087.5 301.2,1086.4 302.2,1085.3 303.1,1084.2 303.9,1083.1 304.8,1082.0 305.6,1080.8 306.4,1079.6 307.1,1078.4 307.8,1077.2 308.6,1075.9 309.2,1074.6 309.9,1073.4 310.6,1072.1 311.2,1070.8 311.8,1069.4 312.4,1068.1 313.0,1066.7 313.5,1065.4 314.0,1064.0 314.6,1062.6 315.1,1061.2 315.6,1059.8 316.0,1058.4 316.5,1056.9 317.0,1055.5 317.4,1054.0 317.8,1052.6 318.3,1051.1 318.7,1049.6 319.1,1048.2 319.5,1046.7 319.9,1045.2 320.3,1043.7 320.7,1042.2 321.0,1040.7 321.4,1039.2 321.8,1037.7 322.2,1036.2 322.6,1034.7 322.9,1033.3 323.3,1031.8 323.7,1030.3 324.0,1028.8 324.4,1027.3 324.8,1025.8 325.2,1024.3 325.5,1022.8 325.9,1021.3 326.3,1019.8 326.7,1018.3 327.0,1016.8 327.4,1015.3 327.8,1013.9 328.2,1012.4 328.5,1010.9 328.9,1009.4 329.3,1007.9 329.7,1006.4 330.1,1004.9 330.4,1003.5 330.8,1002.0 331.2,1000.5 331.6,999.0 331.9,997.5 332.3,996.0 332.7,994.6 333.1,993.1 333.4,991.6 333.8,990.1 334.2,988.6 334.6,987.2 334.9,985.7 335.3,984.2 335.7,982.7 336.1,981.3 336.5,979.8 336.8,978.3 337.2,976.8 337.6,975.4 338.0,973.9 338.3,972.4 338.7,970.9 339.1,969.5 339.5,968.0 339.9,966.5 340.2,965.0 340.6,963.6 341.0,962.1 341.4,960.6 341.7,959.2 342.1,957.7 342.5,956.2 342.9,954.8 343.3,953.3 343.6,951.8 344.0,950.4 344.4,948.9 344.8,947.4 345.2,946.0 345.5,944.5 345.9,943.0 346.3,941.6 346.7,940.1 347.1,938.7 347.4,937.2 347.8,935.7 348.2,934.3 348.6,932.8 348.9,931.4 349.3,929.9 349.7,928.4 350.1,927.0 350.5,925.5 350.8,924.1 351.2,922.6 351.6,921.1 352.0,919.7 352.4,918.2 352.8,916.8 353.1,915.3 353.5,913.9 353.9,912.4 354.3,911.0 354.7,909.5 355.0,908.1 355.4,906.6 355.8,905.1 356.2,903.7 356.6,902.2 356.9,900.8 357.3,899.3 357.7,897.9 358.1,896.4 358.5,895.0 358.8,893.5 359.2,892.1 359.6,890.6 360.0,889.2 360.4,887.7 360.8,886.3 361.1,884.8 361.5,883.4 361.9,882.0 362.3,880.5 362.7,879.1 363.0,877.6 363.4,876.2 363.8,874.7 364.2,873.3 364.6,871.8 365.0,870.4 365.3,868.9 365.7,867.5 366.1,866.0 366.5,864.6 366.9,863.2 367.2,861.7 367.6,860.3 368.0,858.8 368.4,857.4 368.8,855.9 369.2,854.5 369.5,853.1 369.9,851.6 370.3,850.2 370.7,848.7 371.1,847.3 371.5,845.9 371.8,844.4 372.2,843.0 372.6,841.5 373.0,840.1 373.4,838.7 373.8,837.2 374.1,835.8 374.5,834.3 374.9,832.9 375.3,831.5 375.7,830.0 376.1,828.6 376.4,827.2 376.8,825.7 377.2,824.3 377.6,822.8 378.0,821.4 378.4,820.0 378.7,818.5 379.1,817.1 379.5,815.7 379.9,814.2 380.3,812.8 380.7,811.4 381.0,809.9 381.4,808.5 381.8,807.1 382.2,805.6 382.6,804.2 383.0,802.8 383.3,801.3 383.7,799.9 384.1,798.4 384.5,797.0 384.9,795.6 385.3,794.1 385.6,792.7 386.0,791.3 386.4,789.8 386.8,788.4 387.2,787.0 387.6,785.5 388.0,784.1 388.3,782.7 388.7,781.2 389.1,779.8 389.5,778.4 389.9,777.0 390.3,775.5 390.6,774.1 391.0,772.7 391.4,771.2 391.8,769.8 392.2,768.4 392.6,766.9 392.9,765.5 393.3,764.1 393.7,762.6 394.1,761.2 394.5,759.8 394.9,758.3 395.3,756.9 395.6,755.5 396.0,754.0 396.4,752.6 396.8,751.2 397.2,749.8 397.6,748.3 397.9,746.9 398.3,745.5 398.7,744.0 399.1,742.6 399.5,741.2 399.9,739.7 400.2,738.3 400.6,736.9 401.0,735.4 401.4,734.0 401.8,732.6 402.2,731.1 402.6,729.7 402.9,728.3 403.3,726.9 403.7,725.4 404.1,724.0 404.5,722.6 404.9,721.1 405.2,719.7 405.6,718.3 406.0,716.8 406.4,715.4 406.8,714.0 407.2,712.5 407.5,711.1 407.9,709.7 408.3,708.3 408.7,706.8 409.1,705.4 409.5,704.0 409.9,702.5 410.2,701.1 410.6,699.7 411.0,698.2 411.4,696.8 411.8,695.4 412.2,693.9 412.5,692.5 412.9,691.1 413.3,689.6 413.7,688.2 414.1,686.8 414.5,685.3 414.8,683.9 415.2,682.5 415.6,681.0 416.0,679.6 416.4,678.2 416.8,676.7 417.1,675.3 417.5,673.9 417.9,672.4 418.3,671.0 418.7,669.6 419.1,668.1 419.4,666.7 419.8,665.3 420.2,663.8 420.6,662.4 421.0,661.0 421.4,659.5 421.7,658.1 422.1,656.7 422.5,655.2 422.9,653.8 423.3,652.3 423.7,650.9 424.0,649.5 424.4,648.0 424.8,646.6 425.2,645.2 425.6,643.7 426.0,642.3 426.3,640.9 426.7,639.4 427.1,638.0 427.5,636.5 427.9,635.1 428.3,633.7 428.6,632.2 429.0,630.8 429.4,629.3 429.8,627.9 430.2,626.5 430.6,625.0 430.9,623.6 431.3,622.1 431.7,620.7 432.1,619.3 432.5,617.8 432.9,616.4 433.2,614.9 433.6,613.5 434.0,612.1 434.4,610.6 434.8,609.2 435.1,607.7 435.5,606.3 435.9,604.8 436.3,603.4 436.7,602.0 437.1,600.5 437.4,599.1 437.8,597.6 438.2,596.2 438.6,594.7 439.0,593.3 439.3,591.8 439.7,590.4 440.1,588.9 440.5,587.5 440.9,586.0 441.2,584.6 441.6,583.2 442.0,581.7 442.4,580.3 442.8,578.8 443.2,577.4 443.5,575.9 443.9,574.5 444.3,573.0 444.7,571.6 445.1,570.1 445.4,568.7 445.8,567.2 446.2,565.7 446.6,564.3 447.0,562.8 447.3,561.4 447.7,559.9 448.1,558.5 448.5,557.0 448.9,555.6 449.2,554.1 449.6,552.7 450.0,551.2 450.4,549.8 450.8,548.3 451.1,546.8 451.5,545.4 451.9,543.9 452.3,542.5 452.7,541.0 453.1,539.6 453.4,538.1 453.8,536.6 454.2,535.2 454.6,533.7 455.0,532.3 455.3,530.8 455.7,529.4 456.1,527.9 456.5,526.4 456.9,525.0 457.3,523.5 457.6,522.1 458.0,520.6 458.4,519.1 458.8,517.7 459.2,516.2 459.6,514.8 459.9,513.3 460.3,511.8 460.7,510.4 461.1,508.9 461.5,507.5 461.9,506.0 462.3,504.5 462.6,503.1 463.0,501.6 463.4,500.2 463.8,498.7 464.2,497.2 464.6,495.8 465.0,494.3 465.3,492.9 465.7,491.4 466.1,489.9 466.5,488.5 466.9,487.0 467.3,485.6 467.7,484.1 468.1,482.6 468.5,481.2 468.9,479.7 469.3,478.2 469.6,476.8 470.0,475.3 470.4,473.9 470.8,472.4 471.2,470.9 471.6,469.5 472.0,468.0 472.4,466.6 472.8,465.1 473.2,463.6 473.6,462.2 474.0,460.7 474.4,459.3 474.8,457.8 475.2,456.3 475.6,454.9 476.0,453.4 476.4,452.0 476.8,450.5 477.2,449.1 477.6,447.6 478.0,446.1 478.4,444.7 478.8,443.2 479.2,441.8 479.6,440.3 480.0,438.8 480.4,437.4 480.8,435.9 481.2,434.5 481.6,433.0 482.0,431.6 482.5,430.1 482.9,428.7 483.3,427.2 483.7,425.7 484.1,424.3 484.5,422.8 484.9,421.4 485.3,419.9 485.8,418.5 486.2,417.0 486.6,415.6 487.0,414.1 487.4,412.7 487.8,411.2 488.3,409.7 488.7,408.3 489.1,406.8 489.5,405.4 489.9,403.9 490.4,402.5 490.8,401.0 491.2,399.6 491.6,398.1 492.1,396.7 492.5,395.2 492.9,393.8 493.3,392.3 493.8,390.9 494.2,389.5 494.6,388.0 495.1,386.6 495.5,385.1 495.9,383.7 496.4,382.2 496.8,380.8 497.2,379.3 497.7,377.9 498.1,376.4 498.6,375.0 499.0,373.6 499.4,372.1 499.9,370.7 500.3,369.2 500.8,367.8 501.2,366.4 501.6,364.9 502.1,363.5 502.5,362.0 503.0,360.6 503.4,359.2 503.9,357.7 504.3,356.3 504.8,354.9 505.2,353.4 505.7,352.0 506.2,350.6 506.6,349.1 507.1,347.7 507.5,346.3 508.0,344.8 508.4,343.4 508.9,342.0 509.4,340.5 509.8,339.1 510.3,337.7 510.8,336.2 511.2,334.8 511.7,333.4 512.2,332.0 512.6,330.5 513.1,329.1 513.6,327.7 514.1,326.3 514.5,324.8 515.0,323.4 515.5,322.0 516.0,320.6 516.5,319.2 516.9,317.7 517.4,316.3 517.9,314.9 518.4,313.5 518.9,312.1 519.4,310.7 519.8,309.2 520.3,307.8 520.8,306.4 521.3,305.0 521.8,303.6 522.3,302.2 522.8,300.8 523.3,299.4 523.8,297.9 524.3,296.5 524.8,295.1 525.3,293.7 525.8,292.3 526.3,290.9 526.8,289.5 527.3,288.1 527.8,286.7 528.3,285.3 528.9,283.9 529.4,282.5 529.9,281.1 530.4,279.7 530.9,278.3 531.4,276.9 532.0,275.5 532.5,274.1 533.0,272.7 533.5,271.3 534.1,269.9 534.6,268.6 535.1,267.2 535.6,265.8 536.2,264.4 536.7,263.0 537.2,261.6 537.8,260.2 538.3,258.8 538.9,257.5 539.4,256.1 539.9,254.7 540.5,253.3 541.0,251.9 541.6,250.6 542.1,249.2 542.7,247.8 543.2,246.4 543.8,245.1 544.4,243.7 544.9,242.3 545.5,240.9 546.1,239.6 546.6,238.2 547.2,236.8 547.8,235.5 548.4,234.1 548.9,232.7 549.5,231.4 550.1,230.0 550.7,228.7 551.3,227.3 551.9,226.0 552.5,224.6 553.1,223.3 553.7,221.9 554.4,220.6 555.0,219.2 555.6,217.9 556.3,216.5 556.9,215.2 557.5,213.9 558.2,212.5 558.8,211.2 559.5,209.9 560.2,208.5 560.8,207.2 561.5,205.9 562.2,204.5 562.9,203.2 563.5,201.9 564.2,200.6 564.9,199.3 565.7,198.0 566.4,196.6 567.1,195.3 567.8,194.0 568.6,192.7 569.3,191.4 570.0,190.1 570.8,188.8 571.6,187.5 572.3,186.2 573.1,184.9 573.9,183.7 574.7,182.4 575.5,181.1 576.3,179.8 577.1,178.5 577.9,177.3 578.7,176.0 579.6,174.7 580.4,173.5 581.3,172.2 582.1,170.9 583.0,169.7 583.9,168.4 584.8,167.2 585.7,165.9 586.6,164.7 587.5,163.4 588.4,162.2 589.3,161.0 590.3,159.7 591.2,158.5 592.2,157.3 593.2,156.1 594.1,154.9 595.1,153.7 596.1,152.5 597.1,151.4 598.1,150.2 599.1,149.1 600.2,147.9 601.2,146.8 602.3,145.7 603.3,144.5 604.4,143.4 605.5,142.4 606.5,141.3 607.6,140.2 608.8,139.2 609.9,138.1 611.0,137.1 612.1,136.1 613.3,135.1 614.4,134.1 615.6,133.2 616.8,132.2 618.0,131.3 619.1,130.4 620.3,129.5 621.6,128.6 622.8,127.7 624.0,126.9 625.3,126.1 626.5,125.3 627.8,124.5 629.1,123.7 630.4,123.0 631.7,122.2 633.0,121.5 634.3,120.8 635.6,120.2 636.9,119.5 638.3,118.9 639.7,118.3 641.0,117.8 642.4,117.2 643.8,116.7 645.2,116.2 646.6,115.7 648.1,115.3 649.5,114.9 650.9,114.5 652.4,114.1 653.8,113.8 655.3,113.4 656.8,113.1 658.2,112.9 659.7,112.6 661.2,112.4 662.7,112.2 664.2,112.0 665.7,111.9 667.2,111.8 668.7,111.7 670.1,111.6 671.6,111.6 673.1,111.5 674.6,111.5 676.1,111.6 677.6,111.6 679.1,111.7 680.6,111.8 682.1,111.9 683.6,112.1 685.0,112.3 686.5,112.5 688.0,112.7 689.4,113.0 690.9,113.3 692.3,113.6 693.8,113.9 695.2,114.3 696.6,114.7 698.0,115.1 699.4,115.6 700.8,116.0 702.2,116.5 703.6,117.0 704.9,117.6 706.2,118.2 707.6,118.8 708.9,119.4 710.2,120.0 711.5,120.7 712.8,121.4 714.1,122.1 715.3,122.8 716.6,123.6 717.8,124.4 719.0,125.1 720.3,126.0 721.5,126.8 722.7,127.6 723.9,128.5 725.1,129.4 726.2,130.3 727.4,131.2 728.6,132.2 729.7,133.1 730.9,134.1 732.0,135.1 733.1,136.1 734.2,137.1 735.3,138.1 736.4,139.1 737.5,140.2 738.6,141.3 739.7,142.3 740.8,143.4 741.8,144.5 742.9,145.6 744.0,146.7 745.0,147.8 746.0,148.9 747.1,150.1 748.1,151.2 749.1,152.4 750.1,153.5 751.2,154.7 752.2,155.8 753.2,157.0 754.2,158.2 755.2,159.4 756.1,160.5 757.1,161.7 758.1,162.9 759.1,164.1 760.1,165.3 761.0,166.4 762.0,167.6 762.9,168.8 763.9,170.0 764.8,171.2 765.8,172.4 766.7,173.6 767.7,174.8 768.6,176.0 769.5,177.2 770.5,178.4 771.4,179.6 772.3,180.8 773.2,182.0 774.1,183.3 775.0,184.5 775.9,185.7 776.8,186.9 777.7,188.1 778.6,189.4 779.5,190.6 780.4,191.8 781.3,193.0 782.2,194.3 783.0,195.5 783.9,196.7 784.8,198.0 785.6,199.2 786.5,200.4 787.4,201.7 788.2,202.9 789.1,204.2 789.9,205.4 790.8,206.6 791.6,207.9 792.4,209.1 793.3,210.4 794.1,211.6 794.9,212.9 795.8,214.2 796.6,215.4 797.4,216.7 798.2,217.9 799.0,219.2 799.8,220.5 800.6,221.7 801.4,223.0 802.2,224.2 803.0,225.5 803.8,226.8 804.6,228.1 805.4,229.3 806.2,230.6 807.0,231.9 807.7,233.2 808.5,234.4 809.3,235.7 810.1,237.0 810.8,238.3 811.6,239.6 812.4,240.8 813.1,242.1 813.9,243.4 814.6,244.7 815.4,246.0 816.1,247.3 816.9,248.6 817.6,249.9 818.4,251.2 819.1,252.5 819.9,253.8 820.6,255.1 821.3,256.4 822.0,257.7 822.8,259.0 823.5,260.3 824.2,261.6 824.9,262.9 825.7,264.2 826.4,265.5 827.1,266.8 827.8,268.1 828.5,269.4 829.2,270.7 829.9,272.1 830.6,273.4 831.3,274.7 832.0,276.0 832.7,277.3 833.4,278.6 834.1,280.0 834.8,281.3 835.5,282.6 836.2,283.9 836.9,285.2 837.6,286.6 838.3,287.9 838.9,289.2 839.6,290.5 840.3,291.9 841.0,293.2 841.6,294.5 842.3,295.9 843.0,297.2 843.7,298.5 844.3,299.9 845.0,301.2 845.7,302.5 846.3,303.9 847.0,305.2 847.6,306.5 848.3,307.9 849.0,309.2 849.6,310.6 850.3,311.9 850.9,313.2 851.6,314.6 852.2,315.9 852.9,317.3 853.5,318.6 854.2,319.9 854.8,321.3 855.5,322.6 856.1,324.0 856.8,325.3 857.4,326.7 858.0,328.0 858.7,329.4 859.3,330.7 860.0,332.1 860.6,333.4 861.2,334.8 861.9,336.1 862.5,337.5 863.1,338.8 863.8,340.2 864.4,341.5 865.0,342.9 865.7,344.3 866.3,345.6 866.9,347.0 867.6,348.3 868.2,349.7 868.8,351.0 869.4,352.4 870.1,353.7 870.7,355.1 871.3,356.5 871.9,357.8 872.6,359.2 873.2,360.5 873.8,361.9 874.4,363.3 875.1,364.6 875.7,366.0 876.3,367.3 876.9,368.7 877.6,370.1 878.2,371.4 878.8,372.8 879.4,374.2 880.0,375.5 880.7,376.9 881.3,378.2 881.9,379.6 882.5,381.0 883.1,382.3 883.8,383.7 884.4,385.1 885.0,386.4 885.6,387.8 886.2,389.2 886.9,390.5 887.5,391.9 888.1,393.3 888.7,394.6 889.3,396.0 890.0,397.4 890.6,398.7 891.2,400.1 891.8,401.5 892.4,402.8 893.0,404.2 893.7,405.6 894.3,406.9 894.9,408.3 895.5,409.7 896.1,411.0 896.8,412.4 897.4,413.8 898.0,415.1 898.6,416.5 899.2,417.9 899.8,419.2 900.5,420.6 901.1,422.0 901.7,423.4 902.3,424.7 902.9,426.1 903.6,427.5 904.2,428.8 904.8,430.2 905.4,431.6 906.0,432.9 906.6,434.3 907.3,435.7 907.9,437.0 908.5,438.4 909.1,439.8 909.7,441.2 910.4,442.5 911.0,443.9 911.6,445.3 912.2,446.6 912.8,448.0 913.5,449.4 914.1,450.7 914.7,452.1 915.3,453.5 915.9,454.9 916.6,456.2 917.2,457.6 917.8,459.0 918.4,460.3 919.0,461.7 919.7,463.1 920.3,464.4 920.9,465.8 921.5,467.2 922.1,468.6 922.8,469.9 923.4,471.3 924.0,472.7 924.6,474.0 925.3,475.4 925.9,476.8 926.5,478.1 927.1,479.5 927.8,480.9 928.4,482.2 929.0,483.6 929.6,485.0 930.3,486.4 930.9,487.7 931.5,489.1 932.1,490.5 932.8,491.8 933.4,493.2 934.0,494.6 934.6,495.9 935.3,497.3 935.9,498.7 936.5,500.0 937.1,501.4 937.8,502.8 938.4,504.1 939.0,505.5 939.7,506.9 940.3,508.2 940.9,509.6 941.6,511.0 942.2,512.3 942.8,513.7 943.5,515.1 944.1,516.4 944.7,517.8 945.3,519.2 946.0,520.5 946.6,521.9 947.3,523.3 947.9,524.6 948.5,526.0 949.2,527.4 949.8,528.7 950.4,530.1 951.1,531.5 951.7,532.8 952.3,534.2 953.0,535.5 953.6,536.9 954.3,538.3 954.9,539.6 955.5,541.0 956.2,542.4 956.8,543.7 957.5,545.1 958.1,546.4 958.8,547.8 959.4,549.2 960.0,550.5 960.7,551.9 961.3,553.2 962.0,554.6 962.6,556.0 963.3,557.3 963.9,558.7 964.6,560.0 965.2,561.4 965.9,562.7 966.5,564.1 967.2,565.5 967.8,566.8 968.5,568.2 969.1,569.5 969.8,570.9 970.4,572.2 971.1,573.6 971.7,574.9 972.4,576.3 973.0,577.6 973.7,579.0 974.4,580.4 975.0,581.7 975.7,583.1 976.3,584.4 977.0,585.8 977.7,587.1 978.3,588.5 979.0,589.8 979.6,591.2 980.3,592.5 981.0,593.9 981.6,595.2 982.3,596.5 983.0,597.9 983.6,599.2 984.3,600.6 985.0,601.9 985.6,603.3 986.3,604.6 987.0,606.0 987.6,607.3 988.3,608.7 989.0,610.0 989.7,611.3 990.3,612.7 991.0,614.0 991.7,615.4 992.4,616.7 993.0,618.0 993.7,619.4 994.4,620.7 995.1,622.1 995.8,623.4 996.4,624.7 997.1,626.1 997.8,627.4 998.5,628.7 999.2,630.1 999.9,631.4 1000.6,632.8 1001.2,634.1 1001.9,635.4 1002.6,636.8 1003.3,638.1 1004.0,639.4 1004.7,640.7 1005.4,642.1 1006.1,643.4 1006.8,644.7 1007.5,646.1 1008.2,647.4 1008.9,648.7 1009.6,650.0 1010.3,651.4 1011.0,652.7 1011.7,654.0 1012.4,655.3 1013.1,656.7 1013.8,658.0 1014.5,659.3 1015.2,660.6 1015.9,662.0 1016.6,663.3 1017.3,664.6 1018.0,665.9 1018.7,667.2 1019.5,668.6 1020.2,669.9 1020.9,671.2 1021.6,672.5 1022.3,673.8 1023.0,675.1 1023.8,676.5 1024.5,677.8 1025.2,679.1 1025.9,680.4 1026.6,681.7 1027.4,683.0 1028.1,684.3 1028.8,685.6 1029.6,686.9 1030.3,688.2 1031.0,689.6 1031.7,690.9 1032.5,692.2 1033.2,693.5 1033.9,694.8 1034.7,696.1 1035.4,697.4 1036.2,698.7 1036.9,700.0 1037.6,701.3 1038.4,702.6 1039.1,703.9 1039.9,705.2 1040.6,706.5 1041.3,707.8 1042.1,709.1 1042.8,710.4 1043.6,711.7 1044.3,713.0 1045.1,714.2 1045.9,715.5 1046.6,716.8 1047.4,718.1 1048.1,719.4 1048.9,720.7 1049.6,722.0 1050.4,723.3 1051.2,724.6 1051.9,725.8 1052.7,727.1 1053.5,728.4 1054.2,729.7 1055.0,731.0 1055.8,732.3 1056.5,733.5 1057.3,734.8 1058.1,736.1 1058.8,737.4 1059.6,738.6 1060.4,739.9 1061.2,741.2 1062.0,742.5 1062.7,743.7 1063.5,745.0 1064.3,746.3 1065.1,747.6 1065.9,748.8 1066.7,750.1 1067.5,751.4 1068.3,752.6 1069.0,753.9 1069.8,755.2 1070.6,756.4 1071.4,757.7 1072.2,758.9 1073.0,760.2 1073.8,761.5 1074.6,762.7 1075.4,764.0 1076.2,765.2 1077.0,766.5 1077.9,767.7 1078.7,769.0 1079.5,770.3 1080.3,771.5 1081.1,772.8 1081.9,774.0 1082.7,775.3 1083.6,776.5 1084.4,777.7 1085.2,779.0 1086.0,780.2 1086.8,781.5 1087.7,782.7 1088.5,784.0 1089.3,785.2 1090.2,786.4 1091.0,787.7 1091.8,788.9 1092.7,790.2 1093.5,791.4 1094.3,792.6 1095.2,793.9 1096.0,795.1 1096.9,796.3 1097.7,797.6 1098.5,798.8 1099.4,800.0 1100.2,801.2 1101.1,802.5 1101.9,803.7 1102.8,804.9 1103.7,806.1 1104.5,807.4 1105.4,808.6 1106.2,809.8 1107.1,811.0 1108.0,812.2 1108.8,813.5 1109.7,814.7 1110.6,815.9 1111.4,817.1 1112.3,818.3 1113.2,819.5 1114.1,820.7 1114.9,821.9 1115.8,823.1 1116.7,824.3 1117.6,825.5 1118.5,826.8 1119.3,828.0 1120.2,829.2 1121.1,830.4 1122.0,831.6 1122.9,832.7 1123.8,833.9 1124.7,835.1 1125.6,836.3 1126.5,837.5 1127.4,838.7 1128.3,839.9 1129.2,841.1 1130.1,842.3 1131.0,843.5 1131.9,844.7 1132.8,845.8 1133.8,847.0 1134.7,848.2 1135.6,849.4 1136.5,850.6 1137.4,851.7 1138.4,852.9 1139.3,854.1 1140.2,855.3 1141.1,856.4 1142.1,857.6 1143.0,858.8 1143.9,859.9 1144.9,861.1 1145.8,862.3 1146.8,863.4 1147.7,864.6 1148.6,865.8 1149.6,866.9 1150.5,868.1 1151.5,869.2 1152.4,870.4 1153.4,871.6 1154.3,872.7 1155.3,873.9 1156.3,875.0 1157.2,876.2 1158.2,877.3 1159.2,878.5 1160.1,879.6 1161.1,880.7 1162.1,881.9 1163.0,883.0 1164.0,884.2 1165.0,885.3 1166.0,886.4 1166.9,887.6 1167.9,888.7 1168.9,889.9 1169.9,891.0 1170.9,892.1 1171.9,893.2 1172.9,894.4 1173.9,895.5 1174.9,896.6 1175.9,897.7 1176.9,898.9 1177.9,900.0 1178.9,901.1 1179.9,902.2 1180.9,903.3 1181.9,904.5 1182.9,905.6 1183.9,906.7 1185.0,907.8 1186.0,908.9 1187.0,910.0 1188.0,911.1 1189.0,912.2 1190.1,913.3 1191.1,914.4 1192.1,915.5 1193.2,916.6 1194.2,917.7 1195.3,918.8 1196.3,919.9 1197.4,921.0 1198.4,922.0 1199.5,923.1 1200.5,924.2 1201.6,925.3 1202.6,926.3 1203.7,927.4 1204.7,928.5 1205.8,929.6 1206.9,930.6 1208.0,931.7 1209.0,932.7 1210.1,933.8 1211.2,934.8 1212.3,935.9 1213.4,936.9 1214.4,938.0 1215.5,939.0 1216.6,940.0 1217.7,941.1 1218.8,942.1 1219.9,943.1 1221.0,944.1 1222.1,945.2 1223.2,946.2 1224.4,947.2 1225.5,948.2 1226.6,949.2 1227.7,950.2 1228.8,951.2 1230.0,952.2 1231.1,953.2 1232.2,954.2 1233.4,955.1 1234.5,956.1 1235.7,957.1 1236.8,958.1 1238.0,959.0 1239.1,960.0 1240.3,960.9 1241.4,961.9 1242.6,962.8 1243.8,963.8 1245.0,964.7 1246.1,965.6 1247.3,966.6 1248.5,967.5 1249.7,968.4 1250.9,969.3 1252.1,970.2 1253.3,971.1 1254.5,972.0 1255.7,972.9 1256.9,973.8 1258.1,974.7 1259.3,975.6 1260.5,976.4 1261.7,977.3 1262.9,978.2 1264.2,979.0 1265.4,979.9 1266.6,980.7 1267.9,981.6 1269.1,982.4 1270.3,983.3 1271.6,984.1 1272.8,984.9 1274.1,985.8 1275.3,986.6 1276.6,987.4 1277.9,988.2 1279.1,989.0 1280.4,989.8 1281.7,990.6 1282.9,991.4 1284.2,992.2 1285.5,993.0 1286.8,993.8 1288.0,994.5 1289.3,995.3 1290.6,996.1 1291.9,996.8 1293.2,997.6 1294.5,998.3 1295.8,999.1 1297.1,999.8 1298.4,1000.6 1299.7,1001.3 1301.0,1002.0 1302.3,1002.8 1303.6,1003.5 1304.9,1004.2 1306.3,1004.9 1307.6,1005.6 1308.9,1006.4 1310.2,1007.1 1311.6,1007.8 1312.9,1008.5 1314.2,1009.1 1315.6,1009.8 1316.9,1010.5 1318.2,1011.2 1319.6,1011.9 1320.9,1012.5 1322.3,1013.2 1323.6,1013.9 1325.0,1014.5 1326.3,1015.2 1327.7,1015.8 1329.0,1016.5 1330.4,1017.1 1331.7,1017.8 1333.1,1018.4 1334.5,1019.0 1335.8,1019.7 1337.2,1020.3 1338.6,1020.9 1339.9,1021.5 1341.3,1022.2 1342.7,1022.8 1344.1,1023.4 1345.4,1024.0 1346.8,1024.6 1348.2,1025.2 1349.6,1025.8 1351.0,1026.3 1352.3,1026.9 1353.7,1027.5 1355.1,1028.1 1356.5,1028.7 1357.9,1029.2 1359.3,1029.8 1360.7,1030.4 1362.1,1030.9 1363.5,1031.5 1364.9,1032.0 1366.3,1032.6 1367.7,1033.1 1369.1,1033.7 1370.5,1034.2 1371.9,1034.8 1373.3,1035.3 1374.7,1035.8 1376.1,1036.3 1377.5,1036.9 1378.9,1037.4 1380.3,1037.9 1381.7,1038.4 1383.2,1038.9 1384.6,1039.4 1386.0,1039.9 1387.4,1040.4 1388.8,1040.9 1390.2,1041.4 1391.7,1041.9 1393.1,1042.4 1394.5,1042.9 1395.9,1043.4 1397.3,1043.8 1398.8,1044.3 1400.2,1044.8 1401.6,1045.3 1403.0,1045.7 1404.5,1046.2 1405.9,1046.6 1407.3,1047.1 1408.7,1047.6 1410.2,1048.0 1411.6,1048.5 1413.0,1048.9 1414.5,1049.3 1415.9,1049.8 1417.3,1050.2 1418.7,1050.6 1420.2,1051.1 1421.6,1051.5 1423.1,1051.9 1424.5,1052.3 1425.9,1052.8 1427.4,1053.2 1428.8,1053.6 1430.2,1054.0 1431.7,1054.4 1433.1,1054.8 1434.5,1055.2 1436.0,1055.6 1437.4,1056.0 1438.9,1056.4 1440.3,1056.8 1441.8,1057.2 1443.2,1057.6 1444.6,1057.9 1446.1,1058.3 1447.5,1058.7 1449.0,1059.1 1450.4,1059.4 1451.9,1059.8 1453.3,1060.2 1454.8,1060.5 1456.2,1060.9 1457.7,1061.3 1459.1,1061.6 1460.6,1062.0 1462.0,1062.3 1463.5,1062.7 1464.9,1063.0 1466.4,1063.3 1467.8,1063.7 1469.3,1064.0 1470.7,1064.4 1472.2,1064.7 1473.7,1065.0 1475.1,1065.3 1476.6,1065.7 1478.0,1066.0 1479.5,1066.3 1480.9,1066.6 1482.4,1066.9 1483.9,1067.2 1485.3,1067.6 1486.8,1067.9 1488.2,1068.2 1489.7,1068.5 1491.2,1068.8 1492.6,1069.1 1494.1,1069.4 1495.6,1069.7 1497.0,1069.9 1498.5,1070.2 1500.0,1070.5 1501.4,1070.8 1502.9,1071.1 1504.4,1071.4 1505.8,1071.6 1507.3,1071.9 1508.8,1072.2 1510.2,1072.4 1511.7,1072.7 1513.2,1073.0 1514.6,1073.2 1516.1,1073.5 1517.6,1073.7 1519.1,1074.0 1520.5,1074.3 1522.0,1074.5 1523.5,1074.8 1524.9,1075.0 1526.4,1075.2 1527.9,1075.5 1529.4,1075.7 1530.8,1076.0 1532.3,1076.2 1533.8,1076.4 1535.3,1076.7 1536.7,1076.9 1538.2,1077.1 1539.7,1077.3 1541.2,1077.6 1542.7,1077.8 1544.1,1078.0 1545.6,1078.2 1547.1,1078.4 1548.6,1078.7 1550.1,1078.9 1551.5,1079.1 1553.0,1079.3 1554.5,1079.5 1556.0,1079.7 1557.5,1079.9 1559.0,1080.1 1560.4,1080.3 1561.9,1080.5 1563.4,1080.7 1564.9,1080.9 1566.4,1081.0 1567.9,1081.2 1569.3,1081.4 1570.8,1081.6 1572.3,1081.8 1573.8,1082.0 1575.3,1082.1 1576.8,1082.3 1578.3,1082.5 1579.8,1082.7 1581.2,1082.8 1582.7,1083.0 1584.2,1083.2 1585.7,1083.3 1587.2,1083.5 1588.7,1083.7 1590.2,1083.8 1591.7,1084.0 1593.2,1084.1 1594.7,1084.3 1596.1,1084.4 1597.6,1084.6 1599.1,1084.7 1600.6,1084.9 1602.1,1085.0 1603.6,1085.2 1605.1,1085.3 1606.6,1085.5 1608.1,1085.6 1609.6,1085.7 1611.1,1085.9 1612.6,1086.0 1614.1,1086.2 1615.6,1086.3 1617.1,1086.4 1618.5,1086.5 1620.0,1086.7 1621.5,1086.8 1623.0,1086.9 1624.5,1087.0 1626.0,1087.2 1627.5,1087.3 1629.0,1087.4 1630.5,1087.5 1632.0,1087.6 1633.5,1087.8 1635.0,1087.9 1636.5,1088.0 1638.0,1088.1 1639.5,1088.2 1641.0,1088.3 1642.5,1088.4 1644.0,1088.5 1645.5,1088.6 1647.0,1088.7 1648.5,1088.8 1650.0,1088.9 1651.5,1089.0 1653.0,1089.1 1654.5,1089.2 1656.0,1089.3 1657.5,1089.4 1659.0,1089.5 1660.5,1089.6 1662.0,1089.7 1663.5,1089.8 1665.0,1089.8 1666.5,1089.9 1668.0,1090.0 1669.5,1090.1 1671.0,1090.2 1672.5,1090.3 1674.0,1090.3 1675.5,1090.4 1677.0,1090.5 1678.5,1090.6 1680.0,1090.6 1681.5,1090.7 1683.0,1090.8 1684.6,1090.9 1686.1,1090.9 1687.6,1091.0 1689.1,1091.1 1690.6,1091.1 1692.1,1091.2 1693.6,1091.3 1695.1,1091.3 1696.6,1091.4 1698.1,1091.4 1699.6,1091.5 1701.1,1091.6 1702.6,1091.6 1704.1,1091.7 1705.6,1091.7 1707.1,1091.8 1708.6,1091.9 1710.1,1091.9 1711.6,1092.0 1713.1,1092.0 1714.6,1092.1 1716.1,1092.1 1717.6,1092.2 1719.1,1092.2 1720.7,1092.3 1722.2,1092.3 1723.7,1092.4 1725.2,1092.4 1726.7,1092.4 1728.2,1092.5 1729.7,1092.5 1731.2,1092.6 1732.7,1092.6 1734.2,1092.7 1735.7,1092.7 1737.2,1092.7 1738.7,1092.8 1740.2,1092.8 1741.7,1092.9 1743.2,1092.9 1744.7,1092.9 1746.2,1093.0 1747.7,1093.0 1749.2,1093.0 1750.8,1093.1 1752.3,1093.1 1753.8,1093.1 1755.3,1093.2 1756.8,1093.2 1758.3,1093.2 1759.8,1093.2 1761.3,1093.3 1762.8,1093.3 1764.3,1093.3 1765.8,1093.4 1767.3,1093.4 1768.8,1093.4 1770.3,1093.4 1771.8,1093.5 1773.3,1093.5 1774.8,1093.5 1776.3,1093.5 1777.8,1093.6 1779.3,1093.6 1780.8,1093.6 1782.3,1093.6 1783.8,1093.7 1785.4,1093.7 1786.9,1093.7 1788.4,1093.7 1789.9,1093.7 1791.4,1093.8 1792.9,1093.8 1794.4,1093.8 1795.9,1093.8 1797.4,1093.8 1798.9,1093.9 1800.4,1093.9 1801.9,1093.9 1803.4,1093.9 1804.9,1093.9 1806.4,1093.9 1807.9,1094.0 1809.4,1094.0 1810.9,1094.0 1812.4,1094.0 1813.9,1094.0 1815.4,1094.0 1816.9,1094.1 1818.4,1094.1 1819.9,1094.1 1821.4,1094.1 1822.9,1094.1 1824.4,1094.1 1825.9,1094.1 1827.4,1094.2 1828.9,1094.2 1830.4,1094.2 1831.9,1094.2 1833.4,1094.2 1834.9,1094.2 1836.4,1094.2 1837.9,1094.3 1839.4,1094.3 1840.9,1094.3 1842.4,1094.3 1843.9,1094.3 1845.4,1094.3 1846.9,1094.3 1848.4,1094.3 1849.8,1094.4 1851.3,1094.4 1852.8,1094.4 1854.3,1094.4 1855.8,1094.4 1857.3,1094.4 1858.8,1094.4 1860.3,1094.5 1861.8,1094.5 1863.3,1094.5 1864.8,1094.5 1866.3,1094.5 1867.8,1094.5 1869.3,1094.5 1870.8,1094.6 1872.3,1094.6 1873.7,1094.6 1875.2,1094.6 1876.7,1094.6 1878.2,1094.6 1879.7,1094.7 1881.2,1094.7 1882.7,1094.7 1884.2,1094.7 1885.7,1094.7 1887.2,1094.7 1888.6,1094.8 1890.1,1094.8 1891.6,1094.8 1893.1,1094.8 1894.6,1094.8 1896.1,1094.9 1897.6,1094.9 1899.1,1094.9 1900.5,1094.9 1902.0,1094.9 1903.5,1095.0 1905.0,1095.0" style="fill:none;stroke:#2a648c;stroke-width:5.2;stroke-linejoin:round"/>
<g stroke="#000" stroke-width="5.4" fill="none">
<line x1="269.7" y1="46.5" x2="269.7" y2="1139" stroke-width="6.3"/>
<line x1="247" y1="1117.9" x2="1970.3" y2="1117.9" stroke-width="6.3"/>
<line x1="247" y1="1118.0" x2="269.7" y2="1118.0"/>
<line x1="247" y1="999.2" x2="269.7" y2="999.2"/>
<line x1="247" y1="880.5" x2="269.7" y2="880.5"/>
<line x1="247" y1="761.7" x2="269.7" y2="761.7"/>
<line x1="247" y1="643.0" x2="269.7" y2="643.0"/>
<line x1="247" y1="524.2" x2="269.7" y2="524.2"/>
<line x1="247" y1="405.4" x2="269.7" y2="405.4"/>
<line x1="247" y1="286.7" x2="269.7" y2="286.7"/>
<line x1="247" y1="167.9" x2="269.7" y2="167.9"/>
<line x1="247" y1="49.2" x2="269.7" y2="49.2"/>
<line x1="269.5" y1="1117.9" x2="269.5" y2="1139"/>
<line x1="694.0" y1="1117.9" x2="694.0" y2="1139"/>
<line x1="1118.4" y1="1117.9" x2="1118.4" y2="1139"/>
<line x1="1542.9" y1="1117.9" x2="1542.9" y2="1139"/>
<line x1="1967.3" y1="1117.9" x2="1967.3" y2="1139"/>
</g>
<g style="font-family:'Liberation Sans',Arial,sans-serif;font-size:68.5px" fill="#000">
<text transform="translate(210.2,1139.7) scale(1,1.03)" text-anchor="end">0</text>
<text transform="translate(210.2,1020.9) scale(1,1.03)" text-anchor="end">20</text>
<text transform="translate(210.2,902.2) scale(1,1.03)" text-anchor="end">40</text>
<text transform="translate(210.2,783.4) scale(1,1.03)" text-anchor="end">60</text>
<text transform="translate(210.2,664.7) scale(1,1.03)" text-anchor="end">80</text>
<text transform="translate(210.2,545.9) scale(1,1.03)" text-anchor="end">100</text>
<text transform="translate(210.2,427.1) scale(1,1.03)" text-anchor="end">120</text>
<text transform="translate(210.2,308.4) scale(1,1.03)" text-anchor="end">140</text>
<text transform="translate(210.2,189.6) scale(1,1.03)" text-anchor="end">160</text>
<text transform="translate(210.2,70.9) scale(1,1.03)" text-anchor="end">180</text>
<text transform="translate(268.2,1220) scale(1,1.03)" text-anchor="middle">400</text>
<text transform="translate(693.4,1220) scale(1,1.03)" text-anchor="middle">500</text>
<text transform="translate(1118.5,1220) scale(1,1.03)" text-anchor="middle">600</text>
<text transform="translate(1543.6,1220) scale(1,1.03)" text-anchor="middle">700</text>
<text transform="translate(1968.7,1220) scale(1,1.03)" text-anchor="middle">800</text>
</g>
<g style="font-family:'Liberation Sans',Arial,sans-serif;font-size:67px" fill="#000">
<text transform="translate(1118.5,1306.7) scale(1.017,1)" text-anchor="middle">Wavelength (nm)</text>
<text transform="translate(73.4,583.7) rotate(-90) scale(1.015,1)" text-anchor="middle">Relative Intensity</text>
</g>
<g style="font-family:'Liberation Sans',Arial,sans-serif;font-size:51px" fill="#000">
<line x1="1523.5" y1="200.6" x2="1599" y2="200.6" style="stroke:#2a648c;stroke-width:5.2;stroke-linejoin:round"/>
<text transform="translate(1605,217.2) scale(1,1.03)">Abietic acid</text>
<line x1="1523.5" y1="293.2" x2="1599" y2="293.2" style="stroke:#c6cb74;stroke-width:4.7;stroke-linejoin:round"/>
<text transform="translate(1605,309.6) scale(1,1.03)">Taxifolin</text>
<line x1="1523.5" y1="385.8" x2="1599" y2="385.8" style="stroke:#c2c98a;stroke-width:5;stroke-linejoin:round;stroke-dasharray:21 18"/>
<text transform="translate(1605,402.0) scale(1,1.03)">Pinocembrin</text>
<line x1="1523.5" y1="478.4" x2="1599" y2="478.4" style="stroke:#c4cc92;stroke-width:5;stroke-linejoin:round;stroke-dasharray:16.5 5.5"/>
<text transform="translate(1605,494.4) scale(1,1.03)">Dihydrokaempferol</text>
<line x1="1523.5" y1="571.0" x2="1599" y2="571.0" style="stroke:#ba8b66;stroke-width:5.2;stroke-linejoin:round"/>
<text transform="translate(1605,586.8) scale(1,1.03)">Pine bark tannin</text>
<line x1="1523.5" y1="663.6" x2="1599" y2="663.6" style="stroke:#b68c6c;stroke-width:5.5;stroke-linejoin:round;stroke-dasharray:21 18.5"/>
<text transform="translate(1605,679.2) scale(1,1.03)">Kaempferol</text>
</g></svg>
</body></html>
